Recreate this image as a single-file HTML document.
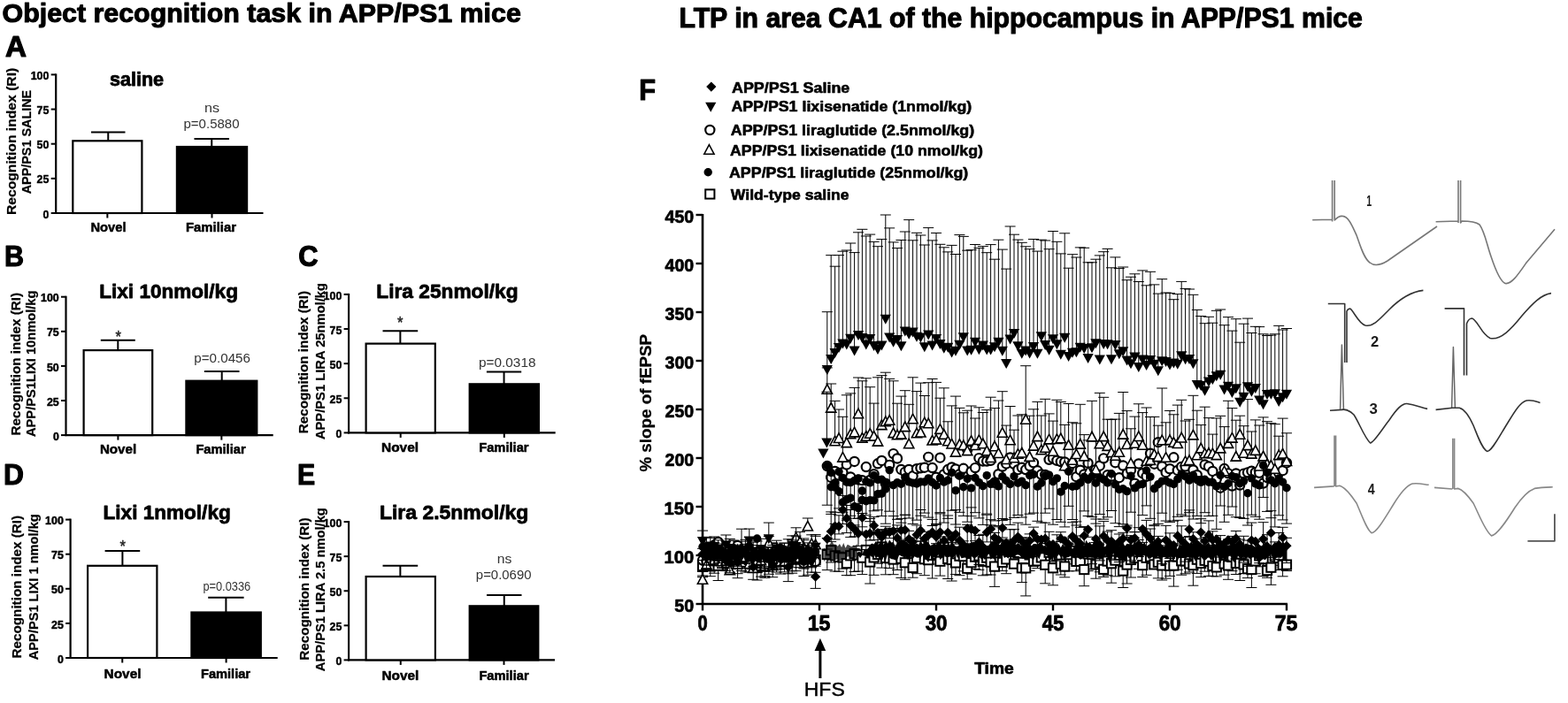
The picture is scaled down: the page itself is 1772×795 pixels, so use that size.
<!DOCTYPE html>
<html><head><meta charset="utf-8"><title>Object recognition and LTP in APP/PS1 mice</title>
<style>html,body{margin:0;padding:0;background:#fff;}svg{display:block;}</style></head>
<body>
<svg width="1772" height="795" viewBox="0 0 1772 795" font-family='"Liberation Sans", Arial, Helvetica, sans-serif'>
<rect width="1772" height="795" fill="#fff"/>
<line x1="63.20" y1="83.40" x2="63.20" y2="242.00" stroke="#000" stroke-width="2.2"/>
<line x1="62.20" y1="241.00" x2="297.50" y2="241.00" stroke="#000" stroke-width="2.2"/>
<line x1="57.70" y1="241.00" x2="63.20" y2="241.00" stroke="#000" stroke-width="2"/>
<line x1="57.70" y1="201.85" x2="63.20" y2="201.85" stroke="#000" stroke-width="2"/>
<line x1="57.70" y1="162.70" x2="63.20" y2="162.70" stroke="#000" stroke-width="2"/>
<line x1="57.70" y1="123.55" x2="63.20" y2="123.55" stroke="#000" stroke-width="2"/>
<line x1="57.70" y1="84.40" x2="63.20" y2="84.40" stroke="#000" stroke-width="2"/>
<rect x="82.30" y="159.30" width="78.10" height="81.70" fill="#fff" stroke="#000" stroke-width="2.2"/>
<line x1="122.25" y1="149.40" x2="122.25" y2="159.30" stroke="#000" stroke-width="2"/>
<line x1="103.00" y1="149.40" x2="141.50" y2="149.40" stroke="#000" stroke-width="2"/>
<line x1="121.35" y1="241.00" x2="121.35" y2="246.50" stroke="#000" stroke-width="2"/>
<rect x="199.90" y="166.00" width="79.20" height="75.00" fill="#000" stroke="#000" stroke-width="2.2"/>
<line x1="239.25" y1="157.00" x2="239.25" y2="166.00" stroke="#000" stroke-width="2"/>
<line x1="219.50" y1="157.00" x2="259.00" y2="157.00" stroke="#000" stroke-width="2"/>
<line x1="239.50" y1="241.00" x2="239.50" y2="246.50" stroke="#000" stroke-width="2"/>
<line x1="74.50" y1="334.70" x2="74.50" y2="493.10" stroke="#000" stroke-width="2.2"/>
<line x1="73.50" y1="492.10" x2="308.70" y2="492.10" stroke="#000" stroke-width="2.2"/>
<line x1="69.00" y1="492.10" x2="74.50" y2="492.10" stroke="#000" stroke-width="2"/>
<line x1="69.00" y1="453.00" x2="74.50" y2="453.00" stroke="#000" stroke-width="2"/>
<line x1="69.00" y1="413.90" x2="74.50" y2="413.90" stroke="#000" stroke-width="2"/>
<line x1="69.00" y1="374.80" x2="74.50" y2="374.80" stroke="#000" stroke-width="2"/>
<line x1="69.00" y1="335.70" x2="74.50" y2="335.70" stroke="#000" stroke-width="2"/>
<rect x="94.60" y="396.10" width="77.60" height="96.00" fill="#fff" stroke="#000" stroke-width="2.2"/>
<line x1="133.30" y1="384.80" x2="133.30" y2="396.10" stroke="#000" stroke-width="2"/>
<line x1="113.80" y1="384.80" x2="152.80" y2="384.80" stroke="#000" stroke-width="2"/>
<line x1="133.40" y1="492.10" x2="133.40" y2="497.60" stroke="#000" stroke-width="2"/>
<rect x="210.40" y="430.70" width="79.90" height="61.40" fill="#000" stroke="#000" stroke-width="2.2"/>
<line x1="250.70" y1="420.00" x2="250.70" y2="430.70" stroke="#000" stroke-width="2"/>
<line x1="230.90" y1="420.00" x2="270.50" y2="420.00" stroke="#000" stroke-width="2"/>
<line x1="250.35" y1="492.10" x2="250.35" y2="497.60" stroke="#000" stroke-width="2"/>
<line x1="394.10" y1="331.90" x2="394.10" y2="490.40" stroke="#000" stroke-width="2.2"/>
<line x1="393.10" y1="489.40" x2="627.70" y2="489.40" stroke="#000" stroke-width="2.2"/>
<line x1="388.60" y1="489.40" x2="394.10" y2="489.40" stroke="#000" stroke-width="2"/>
<line x1="388.60" y1="450.27" x2="394.10" y2="450.27" stroke="#000" stroke-width="2"/>
<line x1="388.60" y1="411.15" x2="394.10" y2="411.15" stroke="#000" stroke-width="2"/>
<line x1="388.60" y1="372.02" x2="394.10" y2="372.02" stroke="#000" stroke-width="2"/>
<line x1="388.60" y1="332.90" x2="394.10" y2="332.90" stroke="#000" stroke-width="2"/>
<rect x="413.60" y="388.60" width="78.20" height="100.80" fill="#fff" stroke="#000" stroke-width="2.2"/>
<line x1="452.35" y1="374.30" x2="452.35" y2="388.60" stroke="#000" stroke-width="2"/>
<line x1="432.50" y1="374.30" x2="472.20" y2="374.30" stroke="#000" stroke-width="2"/>
<line x1="452.70" y1="489.40" x2="452.70" y2="494.90" stroke="#000" stroke-width="2"/>
<rect x="530.70" y="434.30" width="78.20" height="55.10" fill="#000" stroke="#000" stroke-width="2.2"/>
<line x1="569.55" y1="420.50" x2="569.55" y2="434.30" stroke="#000" stroke-width="2"/>
<line x1="549.90" y1="420.50" x2="589.20" y2="420.50" stroke="#000" stroke-width="2"/>
<line x1="569.80" y1="489.40" x2="569.80" y2="494.90" stroke="#000" stroke-width="2"/>
<line x1="79.60" y1="586.60" x2="79.60" y2="745.00" stroke="#000" stroke-width="2.2"/>
<line x1="78.60" y1="744.00" x2="313.70" y2="744.00" stroke="#000" stroke-width="2.2"/>
<line x1="74.10" y1="744.00" x2="79.60" y2="744.00" stroke="#000" stroke-width="2"/>
<line x1="74.10" y1="704.90" x2="79.60" y2="704.90" stroke="#000" stroke-width="2"/>
<line x1="74.10" y1="665.80" x2="79.60" y2="665.80" stroke="#000" stroke-width="2"/>
<line x1="74.10" y1="626.70" x2="79.60" y2="626.70" stroke="#000" stroke-width="2"/>
<line x1="74.10" y1="587.60" x2="79.60" y2="587.60" stroke="#000" stroke-width="2"/>
<rect x="99.10" y="639.80" width="78.30" height="104.20" fill="#fff" stroke="#000" stroke-width="2.2"/>
<line x1="138.40" y1="623.00" x2="138.40" y2="639.80" stroke="#000" stroke-width="2"/>
<line x1="118.60" y1="623.00" x2="158.20" y2="623.00" stroke="#000" stroke-width="2"/>
<line x1="138.25" y1="744.00" x2="138.25" y2="749.50" stroke="#000" stroke-width="2"/>
<rect x="216.40" y="692.50" width="78.40" height="51.50" fill="#000" stroke="#000" stroke-width="2.2"/>
<line x1="255.40" y1="675.80" x2="255.40" y2="692.50" stroke="#000" stroke-width="2"/>
<line x1="235.20" y1="675.80" x2="275.60" y2="675.80" stroke="#000" stroke-width="2"/>
<line x1="255.60" y1="744.00" x2="255.60" y2="749.50" stroke="#000" stroke-width="2"/>
<line x1="394.10" y1="589.10" x2="394.10" y2="747.40" stroke="#000" stroke-width="2.2"/>
<line x1="393.10" y1="746.40" x2="627.00" y2="746.40" stroke="#000" stroke-width="2.2"/>
<line x1="388.60" y1="746.40" x2="394.10" y2="746.40" stroke="#000" stroke-width="2"/>
<line x1="388.60" y1="707.33" x2="394.10" y2="707.33" stroke="#000" stroke-width="2"/>
<line x1="388.60" y1="668.25" x2="394.10" y2="668.25" stroke="#000" stroke-width="2"/>
<line x1="388.60" y1="629.17" x2="394.10" y2="629.17" stroke="#000" stroke-width="2"/>
<line x1="388.60" y1="590.10" x2="394.10" y2="590.10" stroke="#000" stroke-width="2"/>
<rect x="413.60" y="652.00" width="78.30" height="94.40" fill="#fff" stroke="#000" stroke-width="2.2"/>
<line x1="452.35" y1="639.80" x2="452.35" y2="652.00" stroke="#000" stroke-width="2"/>
<line x1="432.50" y1="639.80" x2="472.20" y2="639.80" stroke="#000" stroke-width="2"/>
<line x1="452.75" y1="746.40" x2="452.75" y2="751.90" stroke="#000" stroke-width="2"/>
<rect x="530.70" y="685.30" width="77.60" height="61.10" fill="#000" stroke="#000" stroke-width="2.2"/>
<line x1="569.75" y1="673.10" x2="569.75" y2="685.30" stroke="#000" stroke-width="2"/>
<line x1="550.00" y1="673.10" x2="589.50" y2="673.10" stroke="#000" stroke-width="2"/>
<line x1="569.50" y1="746.40" x2="569.50" y2="751.90" stroke="#000" stroke-width="2"/>
<line x1="794.00" y1="242.00" x2="794.00" y2="684.00" stroke="#000" stroke-width="2.6"/>
<line x1="793.00" y1="683.00" x2="1455.00" y2="683.00" stroke="#000" stroke-width="2.6"/>
<line x1="786.50" y1="683.00" x2="794.00" y2="683.00" stroke="#000" stroke-width="2.4"/>
<line x1="786.50" y1="628.00" x2="794.00" y2="628.00" stroke="#000" stroke-width="2.4"/>
<line x1="786.50" y1="573.00" x2="794.00" y2="573.00" stroke="#000" stroke-width="2.4"/>
<line x1="786.50" y1="518.00" x2="794.00" y2="518.00" stroke="#000" stroke-width="2.4"/>
<line x1="786.50" y1="463.00" x2="794.00" y2="463.00" stroke="#000" stroke-width="2.4"/>
<line x1="786.50" y1="408.00" x2="794.00" y2="408.00" stroke="#000" stroke-width="2.4"/>
<line x1="786.50" y1="353.00" x2="794.00" y2="353.00" stroke="#000" stroke-width="2.4"/>
<line x1="786.50" y1="298.00" x2="794.00" y2="298.00" stroke="#000" stroke-width="2.4"/>
<line x1="786.50" y1="243.00" x2="794.00" y2="243.00" stroke="#000" stroke-width="2.4"/>
<line x1="794.00" y1="683.00" x2="794.00" y2="690.50" stroke="#000" stroke-width="2.4"/>
<line x1="926.00" y1="683.00" x2="926.00" y2="690.50" stroke="#000" stroke-width="2.4"/>
<line x1="1058.00" y1="683.00" x2="1058.00" y2="690.50" stroke="#000" stroke-width="2.4"/>
<line x1="1190.00" y1="683.00" x2="1190.00" y2="690.50" stroke="#000" stroke-width="2.4"/>
<line x1="1322.00" y1="683.00" x2="1322.00" y2="690.50" stroke="#000" stroke-width="2.4"/>
<line x1="1454.00" y1="683.00" x2="1454.00" y2="690.50" stroke="#000" stroke-width="2.4"/>
<line x1="926.90" y1="733.00" x2="926.90" y2="767.00" stroke="#000" stroke-width="3.0"/>
<polygon points="926.9,721.8 920.6,736 933.2,736" fill="#000"/>
<polygon points="803.80,92.50 809.40,98.10 803.80,103.70 798.20,98.10" fill="#000"/>
<polygon points="797.10,115.85 809.30,115.85 803.20,126.85" fill="#000"/>
<circle cx="802.30" cy="147.00" r="5.10" fill="#fff" stroke="#000" stroke-width="2.2"/>
<polygon points="795.80,174.24 807.00,174.24 801.40,163.64" fill="#fff" stroke="#000" stroke-width="1.6" stroke-linejoin="miter"/>
<circle cx="800.20" cy="194.70" r="4.70" fill="#000"/>
<rect x="797.20" y="214.40" width="10.20" height="10.20" fill="#fff" stroke="#000" stroke-width="2"/>
<g><path d="M794.0 640.0V652.6M788.0 652.6H800.0M798.4 630.2V643.4M792.4 643.4H804.4M802.8 640.4V651.7M796.8 651.7H808.8M807.2 632.4V648.2M801.2 648.2H813.2M811.6 639.8V656.5M805.6 656.5H817.6M816.0 631.3V644.4M810.0 644.4H822.0M820.4 627.6V643.0M814.4 643.0H826.4M824.8 634.8V647.0M818.8 647.0H830.8M829.2 623.0V635.3M823.2 635.3H835.2M833.6 637.7V653.7M827.6 653.7H839.6M838.0 633.8V645.5M832.0 645.5H844.0M842.4 635.7V647.0M836.4 647.0H848.4M846.8 633.0V647.0M840.8 647.0H852.8M851.2 629.3V641.2M845.2 641.2H857.2M855.6 642.0V656.0M849.6 656.0H861.6M860.0 640.3V652.1M854.0 652.1H866.0M864.4 640.5V651.5M858.4 651.5H870.4M868.8 637.4V649.3M862.8 649.3H874.8M873.2 619.4V630.6M867.2 630.6H879.2M877.6 630.2V647.0M871.6 647.0H883.6M882.0 635.1V649.0M876.0 649.0H888.0M886.4 634.2V646.9M880.4 646.9H892.4M890.8 633.3V648.8M884.8 648.8H896.8M895.2 631.3V645.8M889.2 645.8H901.2M899.6 625.5V638.7M893.6 638.7H905.6M904.0 630.7V641.7M898.0 641.7H910.0M908.4 629.5V643.1M902.4 643.1H914.4M912.8 629.2V640.8M906.8 640.8H918.8M917.2 628.0V641.8M911.2 641.8H923.2M921.6 632.9V647.3M915.6 647.3H927.6M934.8 627.1V644.6M928.8 644.6H940.8M939.2 622.3V636.0M933.2 636.0H945.2M943.6 628.3V646.1M937.6 646.1H949.6M948.0 629.9V646.2M942.0 646.2H954.0M952.4 630.5V643.1M946.4 643.1H958.4M956.8 637.1V650.6M950.8 650.6H962.8M961.2 628.3V650.7M955.2 650.7H967.2M965.6 626.2V646.5M959.6 646.5H971.6M970.0 627.3V646.0M964.0 646.0H976.0M974.4 630.6V649.6M968.4 649.6H980.4M978.8 621.9V635.8M972.8 635.8H984.8M983.2 635.5V660.0M977.2 660.0H989.2M987.6 630.4V650.3M981.6 650.3H993.6M992.0 627.0V637.2M986.0 637.2H998.0M996.4 618.5V642.1M990.4 642.1H1002.4M1000.8 630.9V649.8M994.8 649.8H1006.8M1005.2 631.2V642.5M999.2 642.5H1011.2M1009.6 632.6V649.7M1003.6 649.7H1015.6M1014.0 625.9V644.5M1008.0 644.5H1020.0M1018.4 631.7V653.4M1012.4 653.4H1024.4M1022.8 636.3V655.3M1016.8 655.3H1028.8M1027.2 626.0V640.1M1021.2 640.1H1033.2M1031.6 642.0V653.2M1025.6 653.2H1037.6M1036.0 630.9V648.7M1030.0 648.7H1042.0M1040.4 623.7V634.5M1034.4 634.5H1046.4M1044.8 632.3V650.7M1038.8 650.7H1050.8M1049.2 633.2V637.6M1043.2 637.6H1055.2M1053.6 627.9V654.0M1047.6 654.0H1059.6M1058.0 626.9V638.0M1052.0 638.0H1064.0M1062.4 634.7V651.1M1056.4 651.1H1068.4M1066.8 618.8V637.1M1060.8 637.1H1072.8M1071.2 631.9V654.5M1065.2 654.5H1077.2M1075.6 633.0V657.0M1069.6 657.0H1081.6M1080.0 636.4V649.6M1074.0 649.6H1086.0M1084.4 628.7V650.7M1078.4 650.7H1090.4M1088.8 629.1V645.9M1082.8 645.9H1094.8M1093.2 642.8V654.9M1087.2 654.9H1099.2M1097.6 636.2V649.1M1091.6 649.1H1103.6M1102.0 629.7V643.5M1096.0 643.5H1108.0M1106.4 628.6V644.4M1100.4 644.4H1112.4M1110.8 634.8V650.8M1104.8 650.8H1116.8M1115.2 630.7V650.0M1109.2 650.0H1121.2M1119.6 635.7V650.0M1113.6 650.0H1125.6M1124.0 640.6V663.4M1118.0 663.4H1130.0M1128.4 625.2V639.8M1122.4 639.8H1134.4M1132.8 635.9V645.6M1126.8 645.6H1138.8M1137.2 632.3V648.7M1131.2 648.7H1143.2M1141.6 621.3V637.9M1135.6 637.9H1147.6M1146.0 637.7V641.8M1140.0 641.8H1152.0M1150.4 625.7V642.0M1144.4 642.0H1156.4M1154.8 642.3V658.6M1148.8 658.6H1160.8M1159.2 642.4V673.9M1153.2 673.9H1165.2M1163.6 627.4V645.5M1157.6 645.5H1169.6M1168.0 634.6V640.1M1162.0 640.1H1174.0M1172.4 634.4V642.6M1166.4 642.6H1178.4M1176.8 630.4V636.0M1170.8 636.0H1182.8M1181.2 638.8V659.8M1175.2 659.8H1187.2M1185.6 624.8V634.7M1179.6 634.7H1191.6M1190.0 642.3V661.8M1184.0 661.8H1196.0M1194.4 629.2V640.1M1188.4 640.1H1200.4M1198.8 637.8V650.0M1192.8 650.0H1204.8M1203.2 640.6V652.8M1197.2 652.8H1209.2M1207.6 627.2V645.8M1201.6 645.8H1213.6M1212.0 622.8V637.8M1206.0 637.8H1218.0M1216.4 634.9V645.8M1210.4 645.8H1222.4M1220.8 634.9V644.2M1214.8 644.2H1226.8M1225.2 644.0V662.7M1219.2 662.7H1231.2M1229.6 626.4V645.7M1223.6 645.7H1235.6M1234.0 627.0V643.6M1228.0 643.6H1240.0M1238.4 638.4V654.2M1232.4 654.2H1244.4M1242.8 636.5V646.8M1236.8 646.8H1248.8M1247.2 643.8V652.4M1241.2 652.4H1253.2M1251.6 634.6V650.7M1245.6 650.7H1257.6M1256.0 637.2V659.2M1250.0 659.2H1262.0M1260.4 633.7V651.8M1254.4 651.8H1266.4M1264.8 628.0V639.6M1258.8 639.6H1270.8M1269.2 645.6V664.5M1263.2 664.5H1275.2M1273.6 638.6V660.0M1267.6 660.0H1279.6M1278.0 633.0V653.0M1272.0 653.0H1284.0M1282.4 630.7V636.5M1276.4 636.5H1288.4M1286.8 631.0V643.3M1280.8 643.3H1292.8M1291.2 639.1V652.5M1285.2 652.5H1297.2M1295.6 630.8V650.3M1289.6 650.3H1301.6M1300.0 629.5V637.3M1294.0 637.3H1306.0M1304.4 638.4V642.8M1298.4 642.8H1310.4M1308.8 635.7V653.9M1302.8 653.9H1314.8M1313.2 639.4V656.0M1307.2 656.0H1319.2M1317.6 634.0V654.1M1311.6 654.1H1323.6M1322.0 639.9V651.4M1316.0 651.4H1328.0M1326.4 639.6V663.1M1320.4 663.1H1332.4M1330.8 629.4V644.3M1324.8 644.3H1336.8M1335.2 634.2V650.2M1329.2 650.2H1341.2M1339.6 634.4V648.8M1333.6 648.8H1345.6M1344.0 637.4V647.0M1338.0 647.0H1350.0M1348.4 639.2V662.2M1342.4 662.2H1354.4M1352.8 632.7V648.4M1346.8 648.4H1358.8M1357.2 636.9V652.6M1351.2 652.6H1363.2M1361.6 633.8V646.2M1355.6 646.2H1367.6M1366.0 634.7V651.3M1360.0 651.3H1372.0M1370.4 640.0V651.7M1364.4 651.7H1376.4M1374.8 641.4V651.9M1368.8 651.9H1380.8M1379.2 631.1V635.6M1373.2 635.6H1385.2M1383.6 637.5V650.1M1377.6 650.1H1389.6M1388.0 639.5V655.3M1382.0 655.3H1394.0M1392.4 629.9V645.7M1386.4 645.7H1398.4M1396.8 636.9V649.5M1390.8 649.5H1402.8M1401.2 636.9V656.5M1395.2 656.5H1407.2M1405.6 638.4V648.5M1399.6 648.5H1411.6M1410.0 643.3V653.6M1404.0 653.6H1416.0M1414.4 644.0V664.5M1408.4 664.5H1420.4M1418.8 634.5V648.8M1412.8 648.8H1424.8M1423.2 628.4V640.8M1417.2 640.8H1429.2M1427.6 632.4V651.5M1421.6 651.5H1433.6M1432.0 645.1V653.3M1426.0 653.3H1438.0M1436.4 641.7V661.3M1430.4 661.3H1442.4M1440.8 629.5V639.3M1434.8 639.3H1446.8M1445.2 630.9V644.6M1439.2 644.6H1451.2M1449.6 638.9V651.8M1443.6 651.8H1455.6M1454.0 638.6V645.6M1448.0 645.6H1460.0" stroke="#000" stroke-width="1" fill="none"/>
<rect x="788.90" y="634.89" width="10.20" height="10.20" fill="#fff" stroke="#000" stroke-width="2"/>
<rect x="793.30" y="625.09" width="10.20" height="10.20" fill="#fff" stroke="#000" stroke-width="2"/>
<rect x="797.70" y="635.27" width="10.20" height="10.20" fill="#fff" stroke="#000" stroke-width="2"/>
<rect x="802.10" y="627.29" width="10.20" height="10.20" fill="#fff" stroke="#000" stroke-width="2"/>
<rect x="806.50" y="634.70" width="10.20" height="10.20" fill="#fff" stroke="#000" stroke-width="2"/>
<rect x="810.90" y="626.21" width="10.20" height="10.20" fill="#fff" stroke="#000" stroke-width="2"/>
<rect x="815.30" y="622.53" width="10.20" height="10.20" fill="#fff" stroke="#000" stroke-width="2"/>
<rect x="819.70" y="629.69" width="10.20" height="10.20" fill="#fff" stroke="#000" stroke-width="2"/>
<rect x="824.10" y="617.90" width="10.20" height="10.20" fill="#fff" stroke="#000" stroke-width="2"/>
<rect x="828.50" y="632.62" width="10.20" height="10.20" fill="#fff" stroke="#000" stroke-width="2"/>
<rect x="832.90" y="628.71" width="10.20" height="10.20" fill="#fff" stroke="#000" stroke-width="2"/>
<rect x="837.30" y="630.61" width="10.20" height="10.20" fill="#fff" stroke="#000" stroke-width="2"/>
<rect x="841.70" y="627.86" width="10.20" height="10.20" fill="#fff" stroke="#000" stroke-width="2"/>
<rect x="846.10" y="624.20" width="10.20" height="10.20" fill="#fff" stroke="#000" stroke-width="2"/>
<rect x="850.50" y="636.86" width="10.20" height="10.20" fill="#fff" stroke="#000" stroke-width="2"/>
<rect x="854.90" y="635.20" width="10.20" height="10.20" fill="#fff" stroke="#000" stroke-width="2"/>
<rect x="859.30" y="635.40" width="10.20" height="10.20" fill="#fff" stroke="#000" stroke-width="2"/>
<rect x="863.70" y="632.30" width="10.20" height="10.20" fill="#fff" stroke="#000" stroke-width="2"/>
<rect x="868.10" y="614.32" width="10.20" height="10.20" fill="#fff" stroke="#000" stroke-width="2"/>
<rect x="872.50" y="625.10" width="10.20" height="10.20" fill="#fff" stroke="#000" stroke-width="2"/>
<rect x="876.90" y="630.03" width="10.20" height="10.20" fill="#fff" stroke="#000" stroke-width="2"/>
<rect x="881.30" y="629.14" width="10.20" height="10.20" fill="#fff" stroke="#000" stroke-width="2"/>
<rect x="885.70" y="628.24" width="10.20" height="10.20" fill="#fff" stroke="#000" stroke-width="2"/>
<rect x="890.10" y="626.18" width="10.20" height="10.20" fill="#fff" stroke="#000" stroke-width="2"/>
<rect x="894.50" y="620.38" width="10.20" height="10.20" fill="#fff" stroke="#000" stroke-width="2"/>
<rect x="898.90" y="625.56" width="10.20" height="10.20" fill="#fff" stroke="#000" stroke-width="2"/>
<rect x="903.30" y="624.36" width="10.20" height="10.20" fill="#fff" stroke="#000" stroke-width="2"/>
<rect x="907.70" y="624.11" width="10.20" height="10.20" fill="#fff" stroke="#000" stroke-width="2"/>
<rect x="912.10" y="622.91" width="10.20" height="10.20" fill="#fff" stroke="#000" stroke-width="2"/>
<rect x="916.50" y="627.81" width="10.20" height="10.20" fill="#fff" stroke="#000" stroke-width="2"/>
<rect x="929.70" y="621.98" width="10.20" height="10.20" fill="#fff" stroke="#000" stroke-width="2"/>
<rect x="934.10" y="617.21" width="10.20" height="10.20" fill="#fff" stroke="#000" stroke-width="2"/>
<rect x="938.50" y="623.23" width="10.20" height="10.20" fill="#fff" stroke="#000" stroke-width="2"/>
<rect x="942.90" y="624.76" width="10.20" height="10.20" fill="#fff" stroke="#000" stroke-width="2"/>
<rect x="947.30" y="625.36" width="10.20" height="10.20" fill="#fff" stroke="#000" stroke-width="2"/>
<rect x="951.70" y="631.98" width="10.20" height="10.20" fill="#fff" stroke="#000" stroke-width="2"/>
<rect x="956.10" y="623.19" width="10.20" height="10.20" fill="#fff" stroke="#000" stroke-width="2"/>
<rect x="960.50" y="621.10" width="10.20" height="10.20" fill="#fff" stroke="#000" stroke-width="2"/>
<rect x="964.90" y="622.24" width="10.20" height="10.20" fill="#fff" stroke="#000" stroke-width="2"/>
<rect x="969.30" y="625.55" width="10.20" height="10.20" fill="#fff" stroke="#000" stroke-width="2"/>
<rect x="973.70" y="616.84" width="10.20" height="10.20" fill="#fff" stroke="#000" stroke-width="2"/>
<rect x="978.10" y="630.45" width="10.20" height="10.20" fill="#fff" stroke="#000" stroke-width="2"/>
<rect x="982.50" y="625.33" width="10.20" height="10.20" fill="#fff" stroke="#000" stroke-width="2"/>
<rect x="986.90" y="621.90" width="10.20" height="10.20" fill="#fff" stroke="#000" stroke-width="2"/>
<rect x="991.30" y="613.37" width="10.20" height="10.20" fill="#fff" stroke="#000" stroke-width="2"/>
<rect x="995.70" y="625.82" width="10.20" height="10.20" fill="#fff" stroke="#000" stroke-width="2"/>
<rect x="1000.10" y="626.13" width="10.20" height="10.20" fill="#fff" stroke="#000" stroke-width="2"/>
<rect x="1004.50" y="627.48" width="10.20" height="10.20" fill="#fff" stroke="#000" stroke-width="2"/>
<rect x="1008.90" y="620.77" width="10.20" height="10.20" fill="#fff" stroke="#000" stroke-width="2"/>
<rect x="1013.30" y="626.62" width="10.20" height="10.20" fill="#fff" stroke="#000" stroke-width="2"/>
<rect x="1017.70" y="631.17" width="10.20" height="10.20" fill="#fff" stroke="#000" stroke-width="2"/>
<rect x="1022.10" y="620.91" width="10.20" height="10.20" fill="#fff" stroke="#000" stroke-width="2"/>
<rect x="1026.50" y="636.91" width="10.20" height="10.20" fill="#fff" stroke="#000" stroke-width="2"/>
<rect x="1030.90" y="625.80" width="10.20" height="10.20" fill="#fff" stroke="#000" stroke-width="2"/>
<rect x="1035.30" y="618.63" width="10.20" height="10.20" fill="#fff" stroke="#000" stroke-width="2"/>
<rect x="1039.70" y="627.17" width="10.20" height="10.20" fill="#fff" stroke="#000" stroke-width="2"/>
<rect x="1044.10" y="628.09" width="10.20" height="10.20" fill="#fff" stroke="#000" stroke-width="2"/>
<rect x="1048.50" y="622.83" width="10.20" height="10.20" fill="#fff" stroke="#000" stroke-width="2"/>
<rect x="1052.90" y="621.78" width="10.20" height="10.20" fill="#fff" stroke="#000" stroke-width="2"/>
<rect x="1057.30" y="629.62" width="10.20" height="10.20" fill="#fff" stroke="#000" stroke-width="2"/>
<rect x="1061.70" y="613.71" width="10.20" height="10.20" fill="#fff" stroke="#000" stroke-width="2"/>
<rect x="1066.10" y="626.82" width="10.20" height="10.20" fill="#fff" stroke="#000" stroke-width="2"/>
<rect x="1070.50" y="627.94" width="10.20" height="10.20" fill="#fff" stroke="#000" stroke-width="2"/>
<rect x="1074.90" y="631.31" width="10.20" height="10.20" fill="#fff" stroke="#000" stroke-width="2"/>
<rect x="1079.30" y="623.63" width="10.20" height="10.20" fill="#fff" stroke="#000" stroke-width="2"/>
<rect x="1083.70" y="624.05" width="10.20" height="10.20" fill="#fff" stroke="#000" stroke-width="2"/>
<rect x="1088.10" y="637.71" width="10.20" height="10.20" fill="#fff" stroke="#000" stroke-width="2"/>
<rect x="1092.50" y="631.10" width="10.20" height="10.20" fill="#fff" stroke="#000" stroke-width="2"/>
<rect x="1096.90" y="624.56" width="10.20" height="10.20" fill="#fff" stroke="#000" stroke-width="2"/>
<rect x="1101.30" y="623.51" width="10.20" height="10.20" fill="#fff" stroke="#000" stroke-width="2"/>
<rect x="1105.70" y="629.72" width="10.20" height="10.20" fill="#fff" stroke="#000" stroke-width="2"/>
<rect x="1110.10" y="625.58" width="10.20" height="10.20" fill="#fff" stroke="#000" stroke-width="2"/>
<rect x="1114.50" y="630.61" width="10.20" height="10.20" fill="#fff" stroke="#000" stroke-width="2"/>
<rect x="1118.90" y="635.53" width="10.20" height="10.20" fill="#fff" stroke="#000" stroke-width="2"/>
<rect x="1123.30" y="620.10" width="10.20" height="10.20" fill="#fff" stroke="#000" stroke-width="2"/>
<rect x="1127.70" y="630.76" width="10.20" height="10.20" fill="#fff" stroke="#000" stroke-width="2"/>
<rect x="1132.10" y="627.25" width="10.20" height="10.20" fill="#fff" stroke="#000" stroke-width="2"/>
<rect x="1136.50" y="616.23" width="10.20" height="10.20" fill="#fff" stroke="#000" stroke-width="2"/>
<rect x="1140.90" y="632.56" width="10.20" height="10.20" fill="#fff" stroke="#000" stroke-width="2"/>
<rect x="1145.30" y="620.58" width="10.20" height="10.20" fill="#fff" stroke="#000" stroke-width="2"/>
<rect x="1149.70" y="637.23" width="10.20" height="10.20" fill="#fff" stroke="#000" stroke-width="2"/>
<rect x="1154.10" y="637.27" width="10.20" height="10.20" fill="#fff" stroke="#000" stroke-width="2"/>
<rect x="1158.50" y="622.32" width="10.20" height="10.20" fill="#fff" stroke="#000" stroke-width="2"/>
<rect x="1162.90" y="629.49" width="10.20" height="10.20" fill="#fff" stroke="#000" stroke-width="2"/>
<rect x="1167.30" y="629.27" width="10.20" height="10.20" fill="#fff" stroke="#000" stroke-width="2"/>
<rect x="1171.70" y="625.34" width="10.20" height="10.20" fill="#fff" stroke="#000" stroke-width="2"/>
<rect x="1176.10" y="633.66" width="10.20" height="10.20" fill="#fff" stroke="#000" stroke-width="2"/>
<rect x="1180.50" y="619.68" width="10.20" height="10.20" fill="#fff" stroke="#000" stroke-width="2"/>
<rect x="1184.90" y="637.20" width="10.20" height="10.20" fill="#fff" stroke="#000" stroke-width="2"/>
<rect x="1189.30" y="624.12" width="10.20" height="10.20" fill="#fff" stroke="#000" stroke-width="2"/>
<rect x="1193.70" y="632.68" width="10.20" height="10.20" fill="#fff" stroke="#000" stroke-width="2"/>
<rect x="1198.10" y="635.46" width="10.20" height="10.20" fill="#fff" stroke="#000" stroke-width="2"/>
<rect x="1202.50" y="622.08" width="10.20" height="10.20" fill="#fff" stroke="#000" stroke-width="2"/>
<rect x="1206.90" y="617.70" width="10.20" height="10.20" fill="#fff" stroke="#000" stroke-width="2"/>
<rect x="1211.30" y="629.80" width="10.20" height="10.20" fill="#fff" stroke="#000" stroke-width="2"/>
<rect x="1215.70" y="629.79" width="10.20" height="10.20" fill="#fff" stroke="#000" stroke-width="2"/>
<rect x="1220.10" y="638.93" width="10.20" height="10.20" fill="#fff" stroke="#000" stroke-width="2"/>
<rect x="1224.50" y="621.29" width="10.20" height="10.20" fill="#fff" stroke="#000" stroke-width="2"/>
<rect x="1228.90" y="621.93" width="10.20" height="10.20" fill="#fff" stroke="#000" stroke-width="2"/>
<rect x="1233.30" y="633.25" width="10.20" height="10.20" fill="#fff" stroke="#000" stroke-width="2"/>
<rect x="1237.70" y="631.41" width="10.20" height="10.20" fill="#fff" stroke="#000" stroke-width="2"/>
<rect x="1242.10" y="638.71" width="10.20" height="10.20" fill="#fff" stroke="#000" stroke-width="2"/>
<rect x="1246.50" y="629.48" width="10.20" height="10.20" fill="#fff" stroke="#000" stroke-width="2"/>
<rect x="1250.90" y="632.11" width="10.20" height="10.20" fill="#fff" stroke="#000" stroke-width="2"/>
<rect x="1255.30" y="628.56" width="10.20" height="10.20" fill="#fff" stroke="#000" stroke-width="2"/>
<rect x="1259.70" y="622.90" width="10.20" height="10.20" fill="#fff" stroke="#000" stroke-width="2"/>
<rect x="1264.10" y="640.48" width="10.20" height="10.20" fill="#fff" stroke="#000" stroke-width="2"/>
<rect x="1268.50" y="633.48" width="10.20" height="10.20" fill="#fff" stroke="#000" stroke-width="2"/>
<rect x="1272.90" y="627.89" width="10.20" height="10.20" fill="#fff" stroke="#000" stroke-width="2"/>
<rect x="1277.30" y="625.59" width="10.20" height="10.20" fill="#fff" stroke="#000" stroke-width="2"/>
<rect x="1281.70" y="625.89" width="10.20" height="10.20" fill="#fff" stroke="#000" stroke-width="2"/>
<rect x="1286.10" y="634.05" width="10.20" height="10.20" fill="#fff" stroke="#000" stroke-width="2"/>
<rect x="1290.50" y="625.72" width="10.20" height="10.20" fill="#fff" stroke="#000" stroke-width="2"/>
<rect x="1294.90" y="624.43" width="10.20" height="10.20" fill="#fff" stroke="#000" stroke-width="2"/>
<rect x="1299.30" y="633.29" width="10.20" height="10.20" fill="#fff" stroke="#000" stroke-width="2"/>
<rect x="1303.70" y="630.65" width="10.20" height="10.20" fill="#fff" stroke="#000" stroke-width="2"/>
<rect x="1308.10" y="634.34" width="10.20" height="10.20" fill="#fff" stroke="#000" stroke-width="2"/>
<rect x="1312.50" y="628.91" width="10.20" height="10.20" fill="#fff" stroke="#000" stroke-width="2"/>
<rect x="1316.90" y="634.75" width="10.20" height="10.20" fill="#fff" stroke="#000" stroke-width="2"/>
<rect x="1321.30" y="634.48" width="10.20" height="10.20" fill="#fff" stroke="#000" stroke-width="2"/>
<rect x="1325.70" y="624.33" width="10.20" height="10.20" fill="#fff" stroke="#000" stroke-width="2"/>
<rect x="1330.10" y="629.14" width="10.20" height="10.20" fill="#fff" stroke="#000" stroke-width="2"/>
<rect x="1334.50" y="629.31" width="10.20" height="10.20" fill="#fff" stroke="#000" stroke-width="2"/>
<rect x="1338.90" y="632.32" width="10.20" height="10.20" fill="#fff" stroke="#000" stroke-width="2"/>
<rect x="1343.30" y="634.06" width="10.20" height="10.20" fill="#fff" stroke="#000" stroke-width="2"/>
<rect x="1347.70" y="627.62" width="10.20" height="10.20" fill="#fff" stroke="#000" stroke-width="2"/>
<rect x="1352.10" y="631.81" width="10.20" height="10.20" fill="#fff" stroke="#000" stroke-width="2"/>
<rect x="1356.50" y="628.73" width="10.20" height="10.20" fill="#fff" stroke="#000" stroke-width="2"/>
<rect x="1360.90" y="629.64" width="10.20" height="10.20" fill="#fff" stroke="#000" stroke-width="2"/>
<rect x="1365.30" y="634.89" width="10.20" height="10.20" fill="#fff" stroke="#000" stroke-width="2"/>
<rect x="1369.70" y="636.31" width="10.20" height="10.20" fill="#fff" stroke="#000" stroke-width="2"/>
<rect x="1374.10" y="625.97" width="10.20" height="10.20" fill="#fff" stroke="#000" stroke-width="2"/>
<rect x="1378.50" y="632.39" width="10.20" height="10.20" fill="#fff" stroke="#000" stroke-width="2"/>
<rect x="1382.90" y="634.38" width="10.20" height="10.20" fill="#fff" stroke="#000" stroke-width="2"/>
<rect x="1387.30" y="624.81" width="10.20" height="10.20" fill="#fff" stroke="#000" stroke-width="2"/>
<rect x="1391.70" y="631.84" width="10.20" height="10.20" fill="#fff" stroke="#000" stroke-width="2"/>
<rect x="1396.10" y="631.82" width="10.20" height="10.20" fill="#fff" stroke="#000" stroke-width="2"/>
<rect x="1400.50" y="633.33" width="10.20" height="10.20" fill="#fff" stroke="#000" stroke-width="2"/>
<rect x="1404.90" y="638.16" width="10.20" height="10.20" fill="#fff" stroke="#000" stroke-width="2"/>
<rect x="1409.30" y="638.90" width="10.20" height="10.20" fill="#fff" stroke="#000" stroke-width="2"/>
<rect x="1413.70" y="629.36" width="10.20" height="10.20" fill="#fff" stroke="#000" stroke-width="2"/>
<rect x="1418.10" y="623.33" width="10.20" height="10.20" fill="#fff" stroke="#000" stroke-width="2"/>
<rect x="1422.50" y="627.27" width="10.20" height="10.20" fill="#fff" stroke="#000" stroke-width="2"/>
<rect x="1426.90" y="639.96" width="10.20" height="10.20" fill="#fff" stroke="#000" stroke-width="2"/>
<rect x="1431.30" y="636.61" width="10.20" height="10.20" fill="#fff" stroke="#000" stroke-width="2"/>
<rect x="1435.70" y="624.42" width="10.20" height="10.20" fill="#fff" stroke="#000" stroke-width="2"/>
<rect x="1440.10" y="625.84" width="10.20" height="10.20" fill="#fff" stroke="#000" stroke-width="2"/>
<rect x="1444.50" y="633.82" width="10.20" height="10.20" fill="#fff" stroke="#000" stroke-width="2"/>
<rect x="1448.90" y="633.48" width="10.20" height="10.20" fill="#fff" stroke="#000" stroke-width="2"/>

<circle cx="794.00" cy="633.51" r="5.10" fill="#fff" stroke="#000" stroke-width="2.2"/>
<circle cx="798.40" cy="634.80" r="5.10" fill="#fff" stroke="#000" stroke-width="2.2"/>
<circle cx="802.80" cy="625.30" r="5.10" fill="#fff" stroke="#000" stroke-width="2.2"/>
<circle cx="807.20" cy="616.51" r="5.10" fill="#fff" stroke="#000" stroke-width="2.2"/>
<circle cx="811.60" cy="612.98" r="5.10" fill="#fff" stroke="#000" stroke-width="2.2"/>
<circle cx="816.00" cy="629.85" r="5.10" fill="#fff" stroke="#000" stroke-width="2.2"/>
<circle cx="820.40" cy="637.47" r="5.10" fill="#fff" stroke="#000" stroke-width="2.2"/>
<circle cx="824.80" cy="630.24" r="5.10" fill="#fff" stroke="#000" stroke-width="2.2"/>
<circle cx="829.20" cy="633.17" r="5.10" fill="#fff" stroke="#000" stroke-width="2.2"/>
<circle cx="833.60" cy="617.09" r="5.10" fill="#fff" stroke="#000" stroke-width="2.2"/>
<circle cx="838.00" cy="624.86" r="5.10" fill="#fff" stroke="#000" stroke-width="2.2"/>
<circle cx="842.40" cy="632.01" r="5.10" fill="#fff" stroke="#000" stroke-width="2.2"/>
<circle cx="846.80" cy="622.85" r="5.10" fill="#fff" stroke="#000" stroke-width="2.2"/>
<circle cx="851.20" cy="625.05" r="5.10" fill="#fff" stroke="#000" stroke-width="2.2"/>
<circle cx="855.60" cy="636.94" r="5.10" fill="#fff" stroke="#000" stroke-width="2.2"/>
<circle cx="860.00" cy="630.92" r="5.10" fill="#fff" stroke="#000" stroke-width="2.2"/>
<circle cx="864.40" cy="629.32" r="5.10" fill="#fff" stroke="#000" stroke-width="2.2"/>
<circle cx="868.80" cy="627.90" r="5.10" fill="#fff" stroke="#000" stroke-width="2.2"/>
<circle cx="873.20" cy="627.27" r="5.10" fill="#fff" stroke="#000" stroke-width="2.2"/>
<circle cx="877.60" cy="629.86" r="5.10" fill="#fff" stroke="#000" stroke-width="2.2"/>
<circle cx="882.00" cy="626.96" r="5.10" fill="#fff" stroke="#000" stroke-width="2.2"/>
<circle cx="886.40" cy="631.22" r="5.10" fill="#fff" stroke="#000" stroke-width="2.2"/>
<circle cx="890.80" cy="632.93" r="5.10" fill="#fff" stroke="#000" stroke-width="2.2"/>
<circle cx="895.20" cy="619.66" r="5.10" fill="#fff" stroke="#000" stroke-width="2.2"/>
<circle cx="899.60" cy="626.02" r="5.10" fill="#fff" stroke="#000" stroke-width="2.2"/>
<circle cx="904.00" cy="625.59" r="5.10" fill="#fff" stroke="#000" stroke-width="2.2"/>
<circle cx="908.40" cy="636.77" r="5.10" fill="#fff" stroke="#000" stroke-width="2.2"/>
<circle cx="912.80" cy="628.91" r="5.10" fill="#fff" stroke="#000" stroke-width="2.2"/>
<circle cx="917.20" cy="623.49" r="5.10" fill="#fff" stroke="#000" stroke-width="2.2"/>
<circle cx="921.60" cy="635.10" r="5.10" fill="#fff" stroke="#000" stroke-width="2.2"/>
<circle cx="934.80" cy="527.04" r="5.10" fill="#fff" stroke="#000" stroke-width="2.2"/>
<circle cx="939.20" cy="539.99" r="5.10" fill="#fff" stroke="#000" stroke-width="2.2"/>
<circle cx="943.60" cy="532.88" r="5.10" fill="#fff" stroke="#000" stroke-width="2.2"/>
<circle cx="948.00" cy="537.46" r="5.10" fill="#fff" stroke="#000" stroke-width="2.2"/>
<circle cx="952.40" cy="534.23" r="5.10" fill="#fff" stroke="#000" stroke-width="2.2"/>
<circle cx="956.80" cy="525.42" r="5.10" fill="#fff" stroke="#000" stroke-width="2.2"/>
<circle cx="961.20" cy="539.43" r="5.10" fill="#fff" stroke="#000" stroke-width="2.2"/>
<circle cx="965.60" cy="521.97" r="5.10" fill="#fff" stroke="#000" stroke-width="2.2"/>
<circle cx="970.00" cy="542.48" r="5.10" fill="#fff" stroke="#000" stroke-width="2.2"/>
<circle cx="974.40" cy="543.14" r="5.10" fill="#fff" stroke="#000" stroke-width="2.2"/>
<circle cx="978.80" cy="528.02" r="5.10" fill="#fff" stroke="#000" stroke-width="2.2"/>
<circle cx="983.20" cy="543.00" r="5.10" fill="#fff" stroke="#000" stroke-width="2.2"/>
<circle cx="987.60" cy="536.22" r="5.10" fill="#fff" stroke="#000" stroke-width="2.2"/>
<circle cx="992.00" cy="524.32" r="5.10" fill="#fff" stroke="#000" stroke-width="2.2"/>
<circle cx="996.40" cy="520.99" r="5.10" fill="#fff" stroke="#000" stroke-width="2.2"/>
<circle cx="1000.80" cy="546.60" r="5.10" fill="#fff" stroke="#000" stroke-width="2.2"/>
<circle cx="1005.20" cy="525.87" r="5.10" fill="#fff" stroke="#000" stroke-width="2.2"/>
<circle cx="1009.60" cy="513.08" r="5.10" fill="#fff" stroke="#000" stroke-width="2.2"/>
<circle cx="1014.00" cy="518.48" r="5.10" fill="#fff" stroke="#000" stroke-width="2.2"/>
<circle cx="1018.40" cy="530.89" r="5.10" fill="#fff" stroke="#000" stroke-width="2.2"/>
<circle cx="1022.80" cy="533.85" r="5.10" fill="#fff" stroke="#000" stroke-width="2.2"/>
<circle cx="1027.20" cy="530.95" r="5.10" fill="#fff" stroke="#000" stroke-width="2.2"/>
<circle cx="1031.60" cy="538.26" r="5.10" fill="#fff" stroke="#000" stroke-width="2.2"/>
<circle cx="1036.00" cy="530.23" r="5.10" fill="#fff" stroke="#000" stroke-width="2.2"/>
<circle cx="1040.40" cy="529.33" r="5.10" fill="#fff" stroke="#000" stroke-width="2.2"/>
<circle cx="1044.80" cy="528.74" r="5.10" fill="#fff" stroke="#000" stroke-width="2.2"/>
<circle cx="1049.20" cy="516.83" r="5.10" fill="#fff" stroke="#000" stroke-width="2.2"/>
<circle cx="1053.60" cy="529.05" r="5.10" fill="#fff" stroke="#000" stroke-width="2.2"/>
<circle cx="1058.00" cy="539.63" r="5.10" fill="#fff" stroke="#000" stroke-width="2.2"/>
<circle cx="1062.40" cy="517.66" r="5.10" fill="#fff" stroke="#000" stroke-width="2.2"/>
<circle cx="1066.80" cy="536.46" r="5.10" fill="#fff" stroke="#000" stroke-width="2.2"/>
<circle cx="1071.20" cy="531.07" r="5.10" fill="#fff" stroke="#000" stroke-width="2.2"/>
<circle cx="1075.60" cy="528.42" r="5.10" fill="#fff" stroke="#000" stroke-width="2.2"/>
<circle cx="1080.00" cy="530.38" r="5.10" fill="#fff" stroke="#000" stroke-width="2.2"/>
<circle cx="1084.40" cy="536.29" r="5.10" fill="#fff" stroke="#000" stroke-width="2.2"/>
<circle cx="1088.80" cy="529.76" r="5.10" fill="#fff" stroke="#000" stroke-width="2.2"/>
<circle cx="1093.20" cy="508.46" r="5.10" fill="#fff" stroke="#000" stroke-width="2.2"/>
<circle cx="1097.60" cy="533.13" r="5.10" fill="#fff" stroke="#000" stroke-width="2.2"/>
<circle cx="1102.00" cy="529.10" r="5.10" fill="#fff" stroke="#000" stroke-width="2.2"/>
<circle cx="1106.40" cy="518.12" r="5.10" fill="#fff" stroke="#000" stroke-width="2.2"/>
<circle cx="1110.80" cy="521.57" r="5.10" fill="#fff" stroke="#000" stroke-width="2.2"/>
<circle cx="1115.20" cy="521.51" r="5.10" fill="#fff" stroke="#000" stroke-width="2.2"/>
<circle cx="1119.60" cy="520.75" r="5.10" fill="#fff" stroke="#000" stroke-width="2.2"/>
<circle cx="1124.00" cy="545.77" r="5.10" fill="#fff" stroke="#000" stroke-width="2.2"/>
<circle cx="1128.40" cy="536.16" r="5.10" fill="#fff" stroke="#000" stroke-width="2.2"/>
<circle cx="1132.80" cy="527.54" r="5.10" fill="#fff" stroke="#000" stroke-width="2.2"/>
<circle cx="1137.20" cy="524.39" r="5.10" fill="#fff" stroke="#000" stroke-width="2.2"/>
<circle cx="1141.60" cy="517.50" r="5.10" fill="#fff" stroke="#000" stroke-width="2.2"/>
<circle cx="1146.00" cy="524.87" r="5.10" fill="#fff" stroke="#000" stroke-width="2.2"/>
<circle cx="1150.40" cy="531.15" r="5.10" fill="#fff" stroke="#000" stroke-width="2.2"/>
<circle cx="1154.80" cy="528.76" r="5.10" fill="#fff" stroke="#000" stroke-width="2.2"/>
<circle cx="1159.20" cy="531.02" r="5.10" fill="#fff" stroke="#000" stroke-width="2.2"/>
<circle cx="1163.60" cy="527.05" r="5.10" fill="#fff" stroke="#000" stroke-width="2.2"/>
<circle cx="1168.00" cy="523.34" r="5.10" fill="#fff" stroke="#000" stroke-width="2.2"/>
<circle cx="1172.40" cy="532.32" r="5.10" fill="#fff" stroke="#000" stroke-width="2.2"/>
<circle cx="1176.80" cy="536.54" r="5.10" fill="#fff" stroke="#000" stroke-width="2.2"/>
<circle cx="1181.20" cy="536.96" r="5.10" fill="#fff" stroke="#000" stroke-width="2.2"/>
<circle cx="1185.60" cy="519.84" r="5.10" fill="#fff" stroke="#000" stroke-width="2.2"/>
<circle cx="1190.00" cy="518.28" r="5.10" fill="#fff" stroke="#000" stroke-width="2.2"/>
<circle cx="1194.40" cy="520.87" r="5.10" fill="#fff" stroke="#000" stroke-width="2.2"/>
<circle cx="1198.80" cy="522.12" r="5.10" fill="#fff" stroke="#000" stroke-width="2.2"/>
<circle cx="1203.20" cy="522.38" r="5.10" fill="#fff" stroke="#000" stroke-width="2.2"/>
<circle cx="1207.60" cy="529.79" r="5.10" fill="#fff" stroke="#000" stroke-width="2.2"/>
<circle cx="1212.00" cy="523.98" r="5.10" fill="#fff" stroke="#000" stroke-width="2.2"/>
<circle cx="1216.40" cy="539.14" r="5.10" fill="#fff" stroke="#000" stroke-width="2.2"/>
<circle cx="1220.80" cy="531.72" r="5.10" fill="#fff" stroke="#000" stroke-width="2.2"/>
<circle cx="1225.20" cy="536.45" r="5.10" fill="#fff" stroke="#000" stroke-width="2.2"/>
<circle cx="1229.60" cy="523.65" r="5.10" fill="#fff" stroke="#000" stroke-width="2.2"/>
<circle cx="1234.00" cy="535.20" r="5.10" fill="#fff" stroke="#000" stroke-width="2.2"/>
<circle cx="1238.40" cy="531.11" r="5.10" fill="#fff" stroke="#000" stroke-width="2.2"/>
<circle cx="1242.80" cy="526.69" r="5.10" fill="#fff" stroke="#000" stroke-width="2.2"/>
<circle cx="1247.20" cy="518.34" r="5.10" fill="#fff" stroke="#000" stroke-width="2.2"/>
<circle cx="1251.60" cy="537.29" r="5.10" fill="#fff" stroke="#000" stroke-width="2.2"/>
<circle cx="1256.00" cy="538.64" r="5.10" fill="#fff" stroke="#000" stroke-width="2.2"/>
<circle cx="1260.40" cy="523.24" r="5.10" fill="#fff" stroke="#000" stroke-width="2.2"/>
<circle cx="1264.80" cy="540.22" r="5.10" fill="#fff" stroke="#000" stroke-width="2.2"/>
<circle cx="1269.20" cy="526.56" r="5.10" fill="#fff" stroke="#000" stroke-width="2.2"/>
<circle cx="1273.60" cy="535.61" r="5.10" fill="#fff" stroke="#000" stroke-width="2.2"/>
<circle cx="1278.00" cy="531.58" r="5.10" fill="#fff" stroke="#000" stroke-width="2.2"/>
<circle cx="1282.40" cy="546.73" r="5.10" fill="#fff" stroke="#000" stroke-width="2.2"/>
<circle cx="1286.80" cy="524.48" r="5.10" fill="#fff" stroke="#000" stroke-width="2.2"/>
<circle cx="1291.20" cy="535.22" r="5.10" fill="#fff" stroke="#000" stroke-width="2.2"/>
<circle cx="1295.60" cy="538.78" r="5.10" fill="#fff" stroke="#000" stroke-width="2.2"/>
<circle cx="1300.00" cy="512.65" r="5.10" fill="#fff" stroke="#000" stroke-width="2.2"/>
<circle cx="1304.40" cy="524.72" r="5.10" fill="#fff" stroke="#000" stroke-width="2.2"/>
<circle cx="1308.80" cy="500.16" r="5.10" fill="#fff" stroke="#000" stroke-width="2.2"/>
<circle cx="1313.20" cy="527.50" r="5.10" fill="#fff" stroke="#000" stroke-width="2.2"/>
<circle cx="1317.60" cy="534.21" r="5.10" fill="#fff" stroke="#000" stroke-width="2.2"/>
<circle cx="1322.00" cy="530.25" r="5.10" fill="#fff" stroke="#000" stroke-width="2.2"/>
<circle cx="1326.40" cy="517.28" r="5.10" fill="#fff" stroke="#000" stroke-width="2.2"/>
<circle cx="1330.80" cy="531.88" r="5.10" fill="#fff" stroke="#000" stroke-width="2.2"/>
<circle cx="1335.20" cy="527.89" r="5.10" fill="#fff" stroke="#000" stroke-width="2.2"/>
<circle cx="1339.60" cy="527.53" r="5.10" fill="#fff" stroke="#000" stroke-width="2.2"/>
<circle cx="1344.00" cy="540.31" r="5.10" fill="#fff" stroke="#000" stroke-width="2.2"/>
<circle cx="1348.40" cy="531.39" r="5.10" fill="#fff" stroke="#000" stroke-width="2.2"/>
<circle cx="1352.80" cy="537.16" r="5.10" fill="#fff" stroke="#000" stroke-width="2.2"/>
<circle cx="1357.20" cy="543.92" r="5.10" fill="#fff" stroke="#000" stroke-width="2.2"/>
<circle cx="1361.60" cy="525.51" r="5.10" fill="#fff" stroke="#000" stroke-width="2.2"/>
<circle cx="1366.00" cy="527.54" r="5.10" fill="#fff" stroke="#000" stroke-width="2.2"/>
<circle cx="1370.40" cy="532.96" r="5.10" fill="#fff" stroke="#000" stroke-width="2.2"/>
<circle cx="1374.80" cy="541.83" r="5.10" fill="#fff" stroke="#000" stroke-width="2.2"/>
<circle cx="1379.20" cy="551.71" r="5.10" fill="#fff" stroke="#000" stroke-width="2.2"/>
<circle cx="1383.60" cy="530.01" r="5.10" fill="#fff" stroke="#000" stroke-width="2.2"/>
<circle cx="1388.00" cy="535.36" r="5.10" fill="#fff" stroke="#000" stroke-width="2.2"/>
<circle cx="1392.40" cy="549.54" r="5.10" fill="#fff" stroke="#000" stroke-width="2.2"/>
<circle cx="1396.80" cy="535.47" r="5.10" fill="#fff" stroke="#000" stroke-width="2.2"/>
<circle cx="1401.20" cy="548.55" r="5.10" fill="#fff" stroke="#000" stroke-width="2.2"/>
<circle cx="1405.60" cy="535.61" r="5.10" fill="#fff" stroke="#000" stroke-width="2.2"/>
<circle cx="1410.00" cy="534.34" r="5.10" fill="#fff" stroke="#000" stroke-width="2.2"/>
<circle cx="1414.40" cy="532.70" r="5.10" fill="#fff" stroke="#000" stroke-width="2.2"/>
<circle cx="1418.80" cy="534.13" r="5.10" fill="#fff" stroke="#000" stroke-width="2.2"/>
<circle cx="1423.20" cy="534.76" r="5.10" fill="#fff" stroke="#000" stroke-width="2.2"/>
<circle cx="1427.60" cy="546.51" r="5.10" fill="#fff" stroke="#000" stroke-width="2.2"/>
<circle cx="1432.00" cy="540.08" r="5.10" fill="#fff" stroke="#000" stroke-width="2.2"/>
<circle cx="1436.40" cy="541.42" r="5.10" fill="#fff" stroke="#000" stroke-width="2.2"/>
<circle cx="1440.80" cy="539.21" r="5.10" fill="#fff" stroke="#000" stroke-width="2.2"/>
<circle cx="1445.20" cy="534.98" r="5.10" fill="#fff" stroke="#000" stroke-width="2.2"/>
<circle cx="1449.60" cy="532.13" r="5.10" fill="#fff" stroke="#000" stroke-width="2.2"/>
<circle cx="1454.00" cy="523.41" r="5.10" fill="#fff" stroke="#000" stroke-width="2.2"/>
<path d="M794.0 656.0V646.5M788.0 646.5H800.0M798.4 639.5V621.8M792.4 621.8H804.4M802.8 631.2V616.2M796.8 616.2H808.8M807.2 633.9V623.9M801.2 623.9H813.2M811.6 629.1V616.8M805.6 616.8H817.6M816.0 635.5V627.3M810.0 627.3H822.0M820.4 634.7V624.4M814.4 624.4H826.4M824.8 645.4V635.6M818.8 635.6H830.8M829.2 625.8V617.8M823.2 617.8H835.2M833.6 638.7V630.2M827.6 630.2H839.6M838.0 627.9V619.5M832.0 619.5H844.0M842.4 631.4V617.5M836.4 617.5H848.4M846.8 638.3V628.2M840.8 628.2H852.8M851.2 643.1V632.4M845.2 632.4H857.2M855.6 635.1V623.2M849.6 623.2H861.6M860.0 634.4V618.8M854.0 618.8H866.0M864.4 630.8V622.6M858.4 622.6H870.4M868.8 614.6V606.6M862.8 606.6H874.8M873.2 640.2V630.7M867.2 630.7H879.2M877.6 634.6V619.6M871.6 619.6H883.6M882.0 636.2V626.0M876.0 626.0H888.0M886.4 635.3V627.2M880.4 627.2H892.4M890.8 628.1V620.1M884.8 620.1H896.8M895.2 620.6V610.2M889.2 610.2H901.2M899.6 608.6V596.8M893.6 596.8H905.6M904.0 613.3V601.6M898.0 601.6H910.0M908.4 619.7V610.8M902.4 610.8H914.4M912.8 595.7V586.0M906.8 586.0H918.8M917.2 615.6V604.8M911.2 604.8H923.2M921.6 616.5V604.6M915.6 604.6H927.6M934.8 441.1V415.9M928.8 415.9H940.8M939.2 461.9V434.0M933.2 434.0H945.2M943.6 499.5V453.4M937.6 453.4H949.6M948.0 496.3V463.0M942.0 463.0H954.0M952.4 517.9V471.3M946.4 471.3H958.4M956.8 501.4V446.8M950.8 446.8H962.8M961.2 491.5V444.9M955.2 444.9H967.2M965.6 489.6V438.4M959.6 438.4H971.6M970.0 468.6V427.0M964.0 427.0H976.0M974.4 495.9V430.8M968.4 430.8H980.4M978.8 494.1V427.8M972.8 427.8H984.8M983.2 491.0V437.7M977.2 437.7H989.2M987.6 493.9V456.1M981.6 456.1H993.6M992.0 499.9V426.8M986.0 426.8H998.0M996.4 481.4V424.6M990.4 424.6H1002.4M1000.8 477.4V421.2M994.8 421.2H1006.8M1005.2 476.0V428.4M999.2 428.4H1011.2M1009.6 490.4V430.8M1003.6 430.8H1015.6M1014.0 492.5V456.2M1008.0 456.2H1020.0M1018.4 491.9V448.1M1012.4 448.1H1024.4M1022.8 483.4V441.7M1016.8 441.7H1028.8M1027.2 502.5V457.3M1021.2 457.3H1033.2M1031.6 474.5V426.8M1025.6 426.8H1037.6M1036.0 490.6V442.6M1030.0 442.6H1042.0M1040.4 489.8V433.1M1034.4 433.1H1046.4M1044.8 478.4V447.5M1038.8 447.5H1050.8M1049.2 479.6V432.7M1043.2 432.7H1055.2M1053.6 498.8V428.5M1047.6 428.5H1059.6M1058.0 497.9V432.4M1052.0 432.4H1064.0M1062.4 486.1V450.2M1056.4 450.2H1068.4M1066.8 492.1V438.8M1060.8 438.8H1072.8M1071.2 499.6V476.8M1065.2 476.8H1077.2M1075.6 502.7V458.9M1069.6 458.9H1081.6M1080.0 511.9V448.1M1074.0 448.1H1086.0M1084.4 503.1V461.4M1078.4 461.4H1090.4M1088.8 504.4V466.8M1082.8 466.8H1094.8M1093.2 510.4V464.2M1087.2 464.2H1099.2M1097.6 499.2V459.0M1091.6 459.0H1103.6M1102.0 504.3V473.0M1096.0 473.0H1108.0M1106.4 498.3V460.8M1100.4 460.8H1112.4M1110.8 502.4V466.5M1104.8 466.5H1116.8M1115.2 510.5V463.6M1109.2 463.6H1121.2M1119.6 518.3V449.2M1113.6 449.2H1125.6M1124.0 505.4V461.6M1118.0 461.6H1130.0M1128.4 513.2V453.0M1122.4 453.0H1134.4M1132.8 489.9V442.7M1126.8 442.7H1138.8M1137.2 520.3V481.1M1131.2 481.1H1143.2M1141.6 498.6V459.5M1135.6 459.5H1147.6M1146.0 518.5V486.2M1140.0 486.2H1152.0M1150.4 514.0V470.0M1144.4 470.0H1156.4M1154.8 512.7V468.8M1148.8 468.8H1160.8M1159.2 475.0V413.7M1153.2 413.7H1165.2M1163.6 517.2V470.2M1157.6 470.2H1169.6M1168.0 504.9V462.8M1162.0 462.8H1174.0M1172.4 494.4V454.4M1166.4 454.4H1178.4M1176.8 509.6V470.0M1170.8 470.0H1182.8M1181.2 507.2V451.3M1175.2 451.3H1187.2M1185.6 497.6V467.9M1179.6 467.9H1191.6M1190.0 511.1V476.1M1184.0 476.1H1196.0M1194.4 497.3V452.3M1188.4 452.3H1200.4M1198.8 496.6V454.5M1192.8 454.5H1204.8M1203.2 527.4V480.4M1197.2 480.4H1209.2M1207.6 504.0V456.5M1201.6 456.5H1213.6M1212.0 520.9V477.8M1206.0 477.8H1218.0M1216.4 514.2V478.8M1210.4 478.8H1222.4M1220.8 502.9V457.3M1214.8 457.3H1226.8M1225.2 516.7V491.6M1219.2 491.6H1231.2M1229.6 534.1V497.9M1223.6 497.9H1235.6M1234.0 494.7V453.4M1228.0 453.4H1240.0M1238.4 531.9V498.7M1232.4 498.7H1244.4M1242.8 502.5V444.4M1236.8 444.4H1248.8M1247.2 494.4V449.3M1241.2 449.3H1253.2M1251.6 505.2V474.2M1245.6 474.2H1257.6M1256.0 512.4V474.4M1250.0 474.4H1262.0M1260.4 516.0V474.1M1254.4 474.1H1266.4M1264.8 511.9V467.4M1258.8 467.4H1270.8M1269.2 491.9V443.5M1263.2 443.5H1275.2M1273.6 503.2V464.6M1267.6 464.6H1279.6M1278.0 524.6V484.8M1272.0 484.8H1284.0M1282.4 502.0V471.1M1276.4 471.1H1288.4M1286.8 494.3V456.8M1280.8 456.8H1292.8M1291.2 504.1V466.6M1285.2 466.6H1297.2M1295.6 522.0V461.0M1289.6 461.0H1301.6M1300.0 521.1V471.5M1294.0 471.5H1306.0M1304.4 514.5V471.4M1298.4 471.4H1310.4M1308.8 517.4V481.2M1302.8 481.2H1314.8M1313.2 498.5V439.0M1307.2 439.0H1319.2M1317.6 518.0V477.8M1311.6 477.8H1323.6M1322.0 498.3V464.5M1316.0 464.5H1328.0M1326.4 501.0V468.8M1320.4 468.8H1332.4M1330.8 502.3V458.1M1324.8 458.1H1336.8M1335.2 495.7V452.3M1329.2 452.3H1341.2M1339.6 522.2V476.0M1333.6 476.0H1345.6M1344.0 521.3V474.3M1338.0 474.3H1350.0M1348.4 492.7V447.3M1342.4 447.3H1354.4M1352.8 515.5V464.2M1346.8 464.2H1358.8M1357.2 507.6V480.6M1351.2 480.6H1363.2M1361.6 513.5V460.2M1355.6 460.2H1367.6M1366.0 513.0V472.6M1360.0 472.6H1372.0M1370.4 513.5V491.1M1364.4 491.1H1376.4M1374.8 515.4V472.9M1368.8 472.9H1380.8M1379.2 507.6V470.4M1373.2 470.4H1385.2M1383.6 533.5V482.6M1377.6 482.6H1389.6M1388.0 502.2V453.3M1382.0 453.3H1394.0M1392.4 495.9V461.6M1386.4 461.6H1398.4M1396.8 516.9V475.2M1390.8 475.2H1402.8M1401.2 491.9V470.2M1395.2 470.2H1407.2M1405.6 513.0V481.7M1399.6 481.7H1411.6M1410.0 504.4V451.6M1404.0 451.6H1416.0M1414.4 513.9V488.0M1408.4 488.0H1420.4M1418.8 510.2V474.9M1412.8 474.9H1424.8M1423.2 527.8V481.0M1417.2 481.0H1429.2M1427.6 516.6V471.9M1421.6 471.9H1433.6M1432.0 525.4V476.7M1426.0 476.7H1438.0M1436.4 526.9V478.7M1430.4 478.7H1442.4M1440.8 531.1V479.7M1434.8 479.7H1446.8M1445.2 515.3V493.2M1439.2 493.2H1451.2M1449.6 513.9V473.1M1443.6 473.1H1455.6M1454.0 522.3V489.8M1448.0 489.8H1460.0" stroke="#000" stroke-width="1" fill="none"/>
<polygon points="788.40,660.19 799.60,660.19 794.00,649.59" fill="#fff" stroke="#000" stroke-width="1.6" stroke-linejoin="miter"/>
<polygon points="792.80,643.72 804.00,643.72 798.40,633.12" fill="#fff" stroke="#000" stroke-width="1.6" stroke-linejoin="miter"/>
<polygon points="797.20,635.43 808.40,635.43 802.80,624.83" fill="#fff" stroke="#000" stroke-width="1.6" stroke-linejoin="miter"/>
<polygon points="801.60,638.11 812.80,638.11 807.20,627.51" fill="#fff" stroke="#000" stroke-width="1.6" stroke-linejoin="miter"/>
<polygon points="806.00,633.38 817.20,633.38 811.60,622.78" fill="#fff" stroke="#000" stroke-width="1.6" stroke-linejoin="miter"/>
<polygon points="810.40,639.79 821.60,639.79 816.00,629.19" fill="#fff" stroke="#000" stroke-width="1.6" stroke-linejoin="miter"/>
<polygon points="814.80,638.93 826.00,638.93 820.40,628.33" fill="#fff" stroke="#000" stroke-width="1.6" stroke-linejoin="miter"/>
<polygon points="819.20,649.60 830.40,649.60 824.80,639.00" fill="#fff" stroke="#000" stroke-width="1.6" stroke-linejoin="miter"/>
<polygon points="823.60,630.05 834.80,630.05 829.20,619.45" fill="#fff" stroke="#000" stroke-width="1.6" stroke-linejoin="miter"/>
<polygon points="828.00,642.99 839.20,642.99 833.60,632.39" fill="#fff" stroke="#000" stroke-width="1.6" stroke-linejoin="miter"/>
<polygon points="832.40,632.18 843.60,632.18 838.00,621.58" fill="#fff" stroke="#000" stroke-width="1.6" stroke-linejoin="miter"/>
<polygon points="836.80,635.63 848.00,635.63 842.40,625.03" fill="#fff" stroke="#000" stroke-width="1.6" stroke-linejoin="miter"/>
<polygon points="841.20,642.56 852.40,642.56 846.80,631.96" fill="#fff" stroke="#000" stroke-width="1.6" stroke-linejoin="miter"/>
<polygon points="845.60,647.38 856.80,647.38 851.20,636.78" fill="#fff" stroke="#000" stroke-width="1.6" stroke-linejoin="miter"/>
<polygon points="850.00,639.32 861.20,639.32 855.60,628.72" fill="#fff" stroke="#000" stroke-width="1.6" stroke-linejoin="miter"/>
<polygon points="854.40,638.65 865.60,638.65 860.00,628.05" fill="#fff" stroke="#000" stroke-width="1.6" stroke-linejoin="miter"/>
<polygon points="858.80,635.00 870.00,635.00 864.40,624.40" fill="#fff" stroke="#000" stroke-width="1.6" stroke-linejoin="miter"/>
<polygon points="863.20,618.83 874.40,618.83 868.80,608.23" fill="#fff" stroke="#000" stroke-width="1.6" stroke-linejoin="miter"/>
<polygon points="867.60,644.42 878.80,644.42 873.20,633.82" fill="#fff" stroke="#000" stroke-width="1.6" stroke-linejoin="miter"/>
<polygon points="872.00,638.79 883.20,638.79 877.60,628.19" fill="#fff" stroke="#000" stroke-width="1.6" stroke-linejoin="miter"/>
<polygon points="876.40,640.46 887.60,640.46 882.00,629.86" fill="#fff" stroke="#000" stroke-width="1.6" stroke-linejoin="miter"/>
<polygon points="880.80,639.54 892.00,639.54 886.40,628.94" fill="#fff" stroke="#000" stroke-width="1.6" stroke-linejoin="miter"/>
<polygon points="885.20,632.34 896.40,632.34 890.80,621.74" fill="#fff" stroke="#000" stroke-width="1.6" stroke-linejoin="miter"/>
<polygon points="889.60,624.83 900.80,624.83 895.20,614.23" fill="#fff" stroke="#000" stroke-width="1.6" stroke-linejoin="miter"/>
<polygon points="894.00,612.81 905.20,612.81 899.60,602.21" fill="#fff" stroke="#000" stroke-width="1.6" stroke-linejoin="miter"/>
<polygon points="898.40,617.53 909.60,617.53 904.00,606.93" fill="#fff" stroke="#000" stroke-width="1.6" stroke-linejoin="miter"/>
<polygon points="902.80,623.91 914.00,623.91 908.40,613.31" fill="#fff" stroke="#000" stroke-width="1.6" stroke-linejoin="miter"/>
<polygon points="907.20,599.96 918.40,599.96 912.80,589.36" fill="#fff" stroke="#000" stroke-width="1.6" stroke-linejoin="miter"/>
<polygon points="911.60,619.82 922.80,619.82 917.20,609.22" fill="#fff" stroke="#000" stroke-width="1.6" stroke-linejoin="miter"/>
<polygon points="916.00,620.77 927.20,620.77 921.60,610.17" fill="#fff" stroke="#000" stroke-width="1.6" stroke-linejoin="miter"/>
<polygon points="929.20,445.30 940.40,445.30 934.80,434.70" fill="#fff" stroke="#000" stroke-width="1.6" stroke-linejoin="miter"/>
<polygon points="933.60,466.15 944.80,466.15 939.20,455.55" fill="#fff" stroke="#000" stroke-width="1.6" stroke-linejoin="miter"/>
<polygon points="938.00,503.70 949.20,503.70 943.60,493.10" fill="#fff" stroke="#000" stroke-width="1.6" stroke-linejoin="miter"/>
<polygon points="942.40,500.53 953.60,500.53 948.00,489.93" fill="#fff" stroke="#000" stroke-width="1.6" stroke-linejoin="miter"/>
<polygon points="946.80,522.09 958.00,522.09 952.40,511.49" fill="#fff" stroke="#000" stroke-width="1.6" stroke-linejoin="miter"/>
<polygon points="951.20,505.60 962.40,505.60 956.80,495.00" fill="#fff" stroke="#000" stroke-width="1.6" stroke-linejoin="miter"/>
<polygon points="955.60,495.78 966.80,495.78 961.20,485.18" fill="#fff" stroke="#000" stroke-width="1.6" stroke-linejoin="miter"/>
<polygon points="960.00,493.85 971.20,493.85 965.60,483.25" fill="#fff" stroke="#000" stroke-width="1.6" stroke-linejoin="miter"/>
<polygon points="964.40,472.82 975.60,472.82 970.00,462.22" fill="#fff" stroke="#000" stroke-width="1.6" stroke-linejoin="miter"/>
<polygon points="968.80,500.11 980.00,500.11 974.40,489.51" fill="#fff" stroke="#000" stroke-width="1.6" stroke-linejoin="miter"/>
<polygon points="973.20,498.32 984.40,498.32 978.80,487.72" fill="#fff" stroke="#000" stroke-width="1.6" stroke-linejoin="miter"/>
<polygon points="977.60,495.22 988.80,495.22 983.20,484.62" fill="#fff" stroke="#000" stroke-width="1.6" stroke-linejoin="miter"/>
<polygon points="982.00,498.16 993.20,498.16 987.60,487.56" fill="#fff" stroke="#000" stroke-width="1.6" stroke-linejoin="miter"/>
<polygon points="986.40,504.10 997.60,504.10 992.00,493.50" fill="#fff" stroke="#000" stroke-width="1.6" stroke-linejoin="miter"/>
<polygon points="990.80,485.66 1002.00,485.66 996.40,475.06" fill="#fff" stroke="#000" stroke-width="1.6" stroke-linejoin="miter"/>
<polygon points="995.20,481.61 1006.40,481.61 1000.80,471.01" fill="#fff" stroke="#000" stroke-width="1.6" stroke-linejoin="miter"/>
<polygon points="999.60,480.20 1010.80,480.20 1005.20,469.60" fill="#fff" stroke="#000" stroke-width="1.6" stroke-linejoin="miter"/>
<polygon points="1004.00,494.63 1015.20,494.63 1009.60,484.03" fill="#fff" stroke="#000" stroke-width="1.6" stroke-linejoin="miter"/>
<polygon points="1008.40,496.78 1019.60,496.78 1014.00,486.18" fill="#fff" stroke="#000" stroke-width="1.6" stroke-linejoin="miter"/>
<polygon points="1012.80,496.12 1024.00,496.12 1018.40,485.52" fill="#fff" stroke="#000" stroke-width="1.6" stroke-linejoin="miter"/>
<polygon points="1017.20,487.63 1028.40,487.63 1022.80,477.03" fill="#fff" stroke="#000" stroke-width="1.6" stroke-linejoin="miter"/>
<polygon points="1021.60,506.78 1032.80,506.78 1027.20,496.18" fill="#fff" stroke="#000" stroke-width="1.6" stroke-linejoin="miter"/>
<polygon points="1026.00,478.76 1037.20,478.76 1031.60,468.16" fill="#fff" stroke="#000" stroke-width="1.6" stroke-linejoin="miter"/>
<polygon points="1030.40,494.80 1041.60,494.80 1036.00,484.20" fill="#fff" stroke="#000" stroke-width="1.6" stroke-linejoin="miter"/>
<polygon points="1034.80,494.06 1046.00,494.06 1040.40,483.46" fill="#fff" stroke="#000" stroke-width="1.6" stroke-linejoin="miter"/>
<polygon points="1039.20,482.69 1050.40,482.69 1044.80,472.09" fill="#fff" stroke="#000" stroke-width="1.6" stroke-linejoin="miter"/>
<polygon points="1043.60,483.80 1054.80,483.80 1049.20,473.20" fill="#fff" stroke="#000" stroke-width="1.6" stroke-linejoin="miter"/>
<polygon points="1048.00,503.04 1059.20,503.04 1053.60,492.44" fill="#fff" stroke="#000" stroke-width="1.6" stroke-linejoin="miter"/>
<polygon points="1052.40,502.10 1063.60,502.10 1058.00,491.50" fill="#fff" stroke="#000" stroke-width="1.6" stroke-linejoin="miter"/>
<polygon points="1056.80,490.33 1068.00,490.33 1062.40,479.73" fill="#fff" stroke="#000" stroke-width="1.6" stroke-linejoin="miter"/>
<polygon points="1061.20,496.33 1072.40,496.33 1066.80,485.73" fill="#fff" stroke="#000" stroke-width="1.6" stroke-linejoin="miter"/>
<polygon points="1065.60,503.82 1076.80,503.82 1071.20,493.22" fill="#fff" stroke="#000" stroke-width="1.6" stroke-linejoin="miter"/>
<polygon points="1070.00,506.96 1081.20,506.96 1075.60,496.36" fill="#fff" stroke="#000" stroke-width="1.6" stroke-linejoin="miter"/>
<polygon points="1074.40,516.09 1085.60,516.09 1080.00,505.49" fill="#fff" stroke="#000" stroke-width="1.6" stroke-linejoin="miter"/>
<polygon points="1078.80,507.33 1090.00,507.33 1084.40,496.73" fill="#fff" stroke="#000" stroke-width="1.6" stroke-linejoin="miter"/>
<polygon points="1083.20,508.67 1094.40,508.67 1088.80,498.07" fill="#fff" stroke="#000" stroke-width="1.6" stroke-linejoin="miter"/>
<polygon points="1087.60,514.64 1098.80,514.64 1093.20,504.04" fill="#fff" stroke="#000" stroke-width="1.6" stroke-linejoin="miter"/>
<polygon points="1092.00,503.39 1103.20,503.39 1097.60,492.79" fill="#fff" stroke="#000" stroke-width="1.6" stroke-linejoin="miter"/>
<polygon points="1096.40,508.57 1107.60,508.57 1102.00,497.97" fill="#fff" stroke="#000" stroke-width="1.6" stroke-linejoin="miter"/>
<polygon points="1100.80,502.57 1112.00,502.57 1106.40,491.97" fill="#fff" stroke="#000" stroke-width="1.6" stroke-linejoin="miter"/>
<polygon points="1105.20,506.68 1116.40,506.68 1110.80,496.08" fill="#fff" stroke="#000" stroke-width="1.6" stroke-linejoin="miter"/>
<polygon points="1109.60,514.79 1120.80,514.79 1115.20,504.19" fill="#fff" stroke="#000" stroke-width="1.6" stroke-linejoin="miter"/>
<polygon points="1114.00,522.52 1125.20,522.52 1119.60,511.92" fill="#fff" stroke="#000" stroke-width="1.6" stroke-linejoin="miter"/>
<polygon points="1118.40,509.68 1129.60,509.68 1124.00,499.08" fill="#fff" stroke="#000" stroke-width="1.6" stroke-linejoin="miter"/>
<polygon points="1122.80,517.43 1134.00,517.43 1128.40,506.83" fill="#fff" stroke="#000" stroke-width="1.6" stroke-linejoin="miter"/>
<polygon points="1127.20,494.19 1138.40,494.19 1132.80,483.59" fill="#fff" stroke="#000" stroke-width="1.6" stroke-linejoin="miter"/>
<polygon points="1131.60,524.56 1142.80,524.56 1137.20,513.96" fill="#fff" stroke="#000" stroke-width="1.6" stroke-linejoin="miter"/>
<polygon points="1136.00,502.82 1147.20,502.82 1141.60,492.22" fill="#fff" stroke="#000" stroke-width="1.6" stroke-linejoin="miter"/>
<polygon points="1140.40,522.69 1151.60,522.69 1146.00,512.09" fill="#fff" stroke="#000" stroke-width="1.6" stroke-linejoin="miter"/>
<polygon points="1144.80,518.23 1156.00,518.23 1150.40,507.63" fill="#fff" stroke="#000" stroke-width="1.6" stroke-linejoin="miter"/>
<polygon points="1149.20,516.96 1160.40,516.96 1154.80,506.36" fill="#fff" stroke="#000" stroke-width="1.6" stroke-linejoin="miter"/>
<polygon points="1153.60,479.19 1164.80,479.19 1159.20,468.59" fill="#fff" stroke="#000" stroke-width="1.6" stroke-linejoin="miter"/>
<polygon points="1158.00,521.40 1169.20,521.40 1163.60,510.80" fill="#fff" stroke="#000" stroke-width="1.6" stroke-linejoin="miter"/>
<polygon points="1162.40,509.10 1173.60,509.10 1168.00,498.50" fill="#fff" stroke="#000" stroke-width="1.6" stroke-linejoin="miter"/>
<polygon points="1166.80,498.66 1178.00,498.66 1172.40,488.06" fill="#fff" stroke="#000" stroke-width="1.6" stroke-linejoin="miter"/>
<polygon points="1171.20,513.80 1182.40,513.80 1176.80,503.20" fill="#fff" stroke="#000" stroke-width="1.6" stroke-linejoin="miter"/>
<polygon points="1175.60,511.40 1186.80,511.40 1181.20,500.80" fill="#fff" stroke="#000" stroke-width="1.6" stroke-linejoin="miter"/>
<polygon points="1180.00,501.84 1191.20,501.84 1185.60,491.24" fill="#fff" stroke="#000" stroke-width="1.6" stroke-linejoin="miter"/>
<polygon points="1184.40,515.31 1195.60,515.31 1190.00,504.71" fill="#fff" stroke="#000" stroke-width="1.6" stroke-linejoin="miter"/>
<polygon points="1188.80,501.56 1200.00,501.56 1194.40,490.96" fill="#fff" stroke="#000" stroke-width="1.6" stroke-linejoin="miter"/>
<polygon points="1193.20,500.82 1204.40,500.82 1198.80,490.22" fill="#fff" stroke="#000" stroke-width="1.6" stroke-linejoin="miter"/>
<polygon points="1197.60,531.69 1208.80,531.69 1203.20,521.09" fill="#fff" stroke="#000" stroke-width="1.6" stroke-linejoin="miter"/>
<polygon points="1202.00,508.27 1213.20,508.27 1207.60,497.67" fill="#fff" stroke="#000" stroke-width="1.6" stroke-linejoin="miter"/>
<polygon points="1206.40,525.18 1217.60,525.18 1212.00,514.58" fill="#fff" stroke="#000" stroke-width="1.6" stroke-linejoin="miter"/>
<polygon points="1210.80,518.49 1222.00,518.49 1216.40,507.89" fill="#fff" stroke="#000" stroke-width="1.6" stroke-linejoin="miter"/>
<polygon points="1215.20,507.12 1226.40,507.12 1220.80,496.52" fill="#fff" stroke="#000" stroke-width="1.6" stroke-linejoin="miter"/>
<polygon points="1219.60,520.90 1230.80,520.90 1225.20,510.30" fill="#fff" stroke="#000" stroke-width="1.6" stroke-linejoin="miter"/>
<polygon points="1224.00,538.38 1235.20,538.38 1229.60,527.78" fill="#fff" stroke="#000" stroke-width="1.6" stroke-linejoin="miter"/>
<polygon points="1228.40,498.89 1239.60,498.89 1234.00,488.29" fill="#fff" stroke="#000" stroke-width="1.6" stroke-linejoin="miter"/>
<polygon points="1232.80,536.09 1244.00,536.09 1238.40,525.49" fill="#fff" stroke="#000" stroke-width="1.6" stroke-linejoin="miter"/>
<polygon points="1237.20,506.78 1248.40,506.78 1242.80,496.18" fill="#fff" stroke="#000" stroke-width="1.6" stroke-linejoin="miter"/>
<polygon points="1241.60,498.66 1252.80,498.66 1247.20,488.06" fill="#fff" stroke="#000" stroke-width="1.6" stroke-linejoin="miter"/>
<polygon points="1246.00,509.42 1257.20,509.42 1251.60,498.82" fill="#fff" stroke="#000" stroke-width="1.6" stroke-linejoin="miter"/>
<polygon points="1250.40,516.65 1261.60,516.65 1256.00,506.05" fill="#fff" stroke="#000" stroke-width="1.6" stroke-linejoin="miter"/>
<polygon points="1254.80,520.28 1266.00,520.28 1260.40,509.68" fill="#fff" stroke="#000" stroke-width="1.6" stroke-linejoin="miter"/>
<polygon points="1259.20,516.18 1270.40,516.18 1264.80,505.58" fill="#fff" stroke="#000" stroke-width="1.6" stroke-linejoin="miter"/>
<polygon points="1263.60,496.17 1274.80,496.17 1269.20,485.57" fill="#fff" stroke="#000" stroke-width="1.6" stroke-linejoin="miter"/>
<polygon points="1268.00,507.43 1279.20,507.43 1273.60,496.83" fill="#fff" stroke="#000" stroke-width="1.6" stroke-linejoin="miter"/>
<polygon points="1272.40,528.84 1283.60,528.84 1278.00,518.24" fill="#fff" stroke="#000" stroke-width="1.6" stroke-linejoin="miter"/>
<polygon points="1276.80,506.23 1288.00,506.23 1282.40,495.63" fill="#fff" stroke="#000" stroke-width="1.6" stroke-linejoin="miter"/>
<polygon points="1281.20,498.50 1292.40,498.50 1286.80,487.90" fill="#fff" stroke="#000" stroke-width="1.6" stroke-linejoin="miter"/>
<polygon points="1285.60,508.29 1296.80,508.29 1291.20,497.69" fill="#fff" stroke="#000" stroke-width="1.6" stroke-linejoin="miter"/>
<polygon points="1290.00,526.28 1301.20,526.28 1295.60,515.68" fill="#fff" stroke="#000" stroke-width="1.6" stroke-linejoin="miter"/>
<polygon points="1294.40,525.33 1305.60,525.33 1300.00,514.73" fill="#fff" stroke="#000" stroke-width="1.6" stroke-linejoin="miter"/>
<polygon points="1298.80,518.76 1310.00,518.76 1304.40,508.16" fill="#fff" stroke="#000" stroke-width="1.6" stroke-linejoin="miter"/>
<polygon points="1303.20,521.60 1314.40,521.60 1308.80,511.00" fill="#fff" stroke="#000" stroke-width="1.6" stroke-linejoin="miter"/>
<polygon points="1307.60,502.70 1318.80,502.70 1313.20,492.10" fill="#fff" stroke="#000" stroke-width="1.6" stroke-linejoin="miter"/>
<polygon points="1312.00,522.23 1323.20,522.23 1317.60,511.63" fill="#fff" stroke="#000" stroke-width="1.6" stroke-linejoin="miter"/>
<polygon points="1316.40,502.58 1327.60,502.58 1322.00,491.98" fill="#fff" stroke="#000" stroke-width="1.6" stroke-linejoin="miter"/>
<polygon points="1320.80,505.27 1332.00,505.27 1326.40,494.67" fill="#fff" stroke="#000" stroke-width="1.6" stroke-linejoin="miter"/>
<polygon points="1325.20,506.53 1336.40,506.53 1330.80,495.93" fill="#fff" stroke="#000" stroke-width="1.6" stroke-linejoin="miter"/>
<polygon points="1329.60,499.93 1340.80,499.93 1335.20,489.33" fill="#fff" stroke="#000" stroke-width="1.6" stroke-linejoin="miter"/>
<polygon points="1334.00,526.48 1345.20,526.48 1339.60,515.88" fill="#fff" stroke="#000" stroke-width="1.6" stroke-linejoin="miter"/>
<polygon points="1338.40,525.56 1349.60,525.56 1344.00,514.96" fill="#fff" stroke="#000" stroke-width="1.6" stroke-linejoin="miter"/>
<polygon points="1342.80,496.91 1354.00,496.91 1348.40,486.31" fill="#fff" stroke="#000" stroke-width="1.6" stroke-linejoin="miter"/>
<polygon points="1347.20,519.70 1358.40,519.70 1352.80,509.10" fill="#fff" stroke="#000" stroke-width="1.6" stroke-linejoin="miter"/>
<polygon points="1351.60,511.86 1362.80,511.86 1357.20,501.26" fill="#fff" stroke="#000" stroke-width="1.6" stroke-linejoin="miter"/>
<polygon points="1356.00,517.69 1367.20,517.69 1361.60,507.09" fill="#fff" stroke="#000" stroke-width="1.6" stroke-linejoin="miter"/>
<polygon points="1360.40,517.22 1371.60,517.22 1366.00,506.62" fill="#fff" stroke="#000" stroke-width="1.6" stroke-linejoin="miter"/>
<polygon points="1364.80,517.74 1376.00,517.74 1370.40,507.14" fill="#fff" stroke="#000" stroke-width="1.6" stroke-linejoin="miter"/>
<polygon points="1369.20,519.67 1380.40,519.67 1374.80,509.07" fill="#fff" stroke="#000" stroke-width="1.6" stroke-linejoin="miter"/>
<polygon points="1373.60,511.86 1384.80,511.86 1379.20,501.26" fill="#fff" stroke="#000" stroke-width="1.6" stroke-linejoin="miter"/>
<polygon points="1378.00,537.71 1389.20,537.71 1383.60,527.11" fill="#fff" stroke="#000" stroke-width="1.6" stroke-linejoin="miter"/>
<polygon points="1382.40,506.40 1393.60,506.40 1388.00,495.80" fill="#fff" stroke="#000" stroke-width="1.6" stroke-linejoin="miter"/>
<polygon points="1386.80,500.10 1398.00,500.10 1392.40,489.50" fill="#fff" stroke="#000" stroke-width="1.6" stroke-linejoin="miter"/>
<polygon points="1391.20,521.14 1402.40,521.14 1396.80,510.54" fill="#fff" stroke="#000" stroke-width="1.6" stroke-linejoin="miter"/>
<polygon points="1395.60,496.18 1406.80,496.18 1401.20,485.58" fill="#fff" stroke="#000" stroke-width="1.6" stroke-linejoin="miter"/>
<polygon points="1400.00,517.20 1411.20,517.20 1405.60,506.60" fill="#fff" stroke="#000" stroke-width="1.6" stroke-linejoin="miter"/>
<polygon points="1404.40,508.61 1415.60,508.61 1410.00,498.01" fill="#fff" stroke="#000" stroke-width="1.6" stroke-linejoin="miter"/>
<polygon points="1408.80,518.10 1420.00,518.10 1414.40,507.50" fill="#fff" stroke="#000" stroke-width="1.6" stroke-linejoin="miter"/>
<polygon points="1413.20,514.39 1424.40,514.39 1418.80,503.79" fill="#fff" stroke="#000" stroke-width="1.6" stroke-linejoin="miter"/>
<polygon points="1417.60,532.00 1428.80,532.00 1423.20,521.40" fill="#fff" stroke="#000" stroke-width="1.6" stroke-linejoin="miter"/>
<polygon points="1422.00,520.87 1433.20,520.87 1427.60,510.27" fill="#fff" stroke="#000" stroke-width="1.6" stroke-linejoin="miter"/>
<polygon points="1426.40,529.67 1437.60,529.67 1432.00,519.07" fill="#fff" stroke="#000" stroke-width="1.6" stroke-linejoin="miter"/>
<polygon points="1430.80,531.14 1442.00,531.14 1436.40,520.54" fill="#fff" stroke="#000" stroke-width="1.6" stroke-linejoin="miter"/>
<polygon points="1435.20,535.30 1446.40,535.30 1440.80,524.70" fill="#fff" stroke="#000" stroke-width="1.6" stroke-linejoin="miter"/>
<polygon points="1439.60,519.59 1450.80,519.59 1445.20,508.99" fill="#fff" stroke="#000" stroke-width="1.6" stroke-linejoin="miter"/>
<polygon points="1444.00,518.14 1455.20,518.14 1449.60,507.54" fill="#fff" stroke="#000" stroke-width="1.6" stroke-linejoin="miter"/>
<polygon points="1448.40,526.54 1459.60,526.54 1454.00,515.94" fill="#fff" stroke="#000" stroke-width="1.6" stroke-linejoin="miter"/>
<path d="M794.0 618.2V633.5M788.0 633.5H800.0M798.4 624.9V638.9M792.4 638.9H804.4M802.8 622.4V639.1M796.8 639.1H808.8M807.2 622.2V639.9M801.2 639.9H813.2M811.6 621.7V634.4M805.6 634.4H817.6M816.0 629.4V642.7M810.0 642.7H822.0M820.4 625.3V636.6M814.4 636.6H826.4M824.8 636.2V647.7M818.8 647.7H830.8M829.2 623.8V635.1M823.2 635.1H835.2M833.6 635.6V648.7M827.6 648.7H839.6M838.0 622.9V634.7M832.0 634.7H844.0M842.4 624.6V637.1M836.4 637.1H848.4M846.8 630.5V643.8M840.8 643.8H852.8M851.2 628.9V640.7M845.2 640.7H857.2M855.6 609.0V623.1M849.6 623.1H861.6M860.0 626.2V644.3M854.0 644.3H866.0M864.4 626.4V640.7M858.4 640.7H870.4M868.8 630.8V642.8M862.8 642.8H874.8M873.2 639.3V652.7M867.2 652.7H879.2M877.6 630.2V644.2M871.6 644.2H883.6M882.0 619.4V631.1M876.0 631.1H888.0M886.4 621.5V633.6M880.4 633.6H892.4M890.8 628.0V640.3M884.8 640.3H896.8M895.2 631.6V648.2M889.2 648.2H901.2M899.6 622.1V637.5M893.6 637.5H905.6M904.0 622.3V636.5M898.0 636.5H910.0M908.4 635.2V651.5M902.4 651.5H914.4M912.8 633.9V650.1M906.8 650.1H918.8M917.2 625.8V640.8M911.2 640.8H923.2M921.6 624.1V640.2M915.6 640.2H927.6M934.8 526.7V571.2M928.8 571.2H940.8M939.2 534.5V581.4M933.2 581.4H945.2M943.6 545.9V592.4M937.6 592.4H949.6M948.0 533.4V574.9M942.0 574.9H954.0M952.4 540.4V579.8M946.4 579.8H958.4M956.8 545.2V588.2M950.8 588.2H962.8M961.2 545.6V583.3M955.2 583.3H967.2M965.6 543.5V586.2M959.6 586.2H971.6M970.0 541.2V586.3M964.0 586.3H976.0M974.4 555.1V603.4M968.4 603.4H980.4M978.8 544.5V582.7M972.8 582.7H984.8M983.2 545.8V589.7M977.2 589.7H989.2M987.6 537.6V577.8M981.6 577.8H993.6M992.0 542.4V576.8M986.0 576.8H998.0M996.4 542.3V583.6M990.4 583.6H1002.4M1000.8 546.3V592.2M994.8 592.2H1006.8M1005.2 531.6V578.2M999.2 578.2H1011.2M1009.6 548.6V597.5M1003.6 597.5H1015.6M1014.0 545.7V587.3M1008.0 587.3H1020.0M1018.4 547.3V591.2M1012.4 591.2H1024.4M1022.8 539.8V582.3M1016.8 582.3H1028.8M1027.2 544.9V586.0M1021.2 586.0H1033.2M1031.6 546.1V592.4M1025.6 592.4H1037.6M1036.0 546.9V588.1M1030.0 588.1H1042.0M1040.4 544.9V583.2M1034.4 583.2H1046.4M1044.8 545.0V580.1M1038.8 580.1H1050.8M1049.2 540.8V585.1M1043.2 585.1H1055.2M1053.6 545.5V594.5M1047.6 594.5H1059.6M1058.0 548.9V593.3M1052.0 593.3H1064.0M1062.4 540.4V579.7M1056.4 579.7H1068.4M1066.8 545.2V591.1M1060.8 591.1H1072.8M1071.2 543.2V586.3M1065.2 586.3H1077.2M1075.6 534.4V577.2M1069.6 577.2H1081.6M1080.0 554.6V593.0M1074.0 593.0H1086.0M1084.4 538.1V579.3M1078.4 579.3H1090.4M1088.8 550.7V583.4M1082.8 583.4H1094.8M1093.2 541.5V590.2M1087.2 590.2H1099.2M1097.6 551.9V583.7M1091.6 583.7H1103.6M1102.0 540.4V579.7M1096.0 579.7H1108.0M1106.4 545.6V585.9M1100.4 585.9H1112.4M1110.8 549.6V593.4M1104.8 593.4H1116.8M1115.2 537.6V581.1M1109.2 581.1H1121.2M1119.6 547.3V593.9M1113.6 593.9H1125.6M1124.0 544.4V588.9M1118.0 588.9H1130.0M1128.4 549.8V594.6M1122.4 594.6H1134.4M1132.8 538.8V586.5M1126.8 586.5H1138.8M1137.2 543.5V587.4M1131.2 587.4H1143.2M1141.6 547.5V593.4M1135.6 593.4H1147.6M1146.0 538.6V585.4M1140.0 585.4H1152.0M1150.4 546.3V582.5M1144.4 582.5H1156.4M1154.8 544.2V585.0M1148.8 585.0H1160.8M1159.2 548.6V593.2M1153.2 593.2H1165.2M1163.6 537.6V581.2M1157.6 581.2H1169.6M1168.0 536.5V580.1M1162.0 580.1H1174.0M1172.4 550.2V589.3M1166.4 589.3H1178.4M1176.8 546.1V591.0M1170.8 591.0H1182.8M1181.2 537.8V580.2M1175.2 580.2H1187.2M1185.6 537.2V575.2M1179.6 575.2H1191.6M1190.0 544.6V593.2M1184.0 593.2H1196.0M1194.4 540.9V587.5M1188.4 587.5H1200.4M1198.8 556.1V590.3M1192.8 590.3H1204.8M1203.2 549.5V595.9M1197.2 595.9H1209.2M1207.6 533.3V572.3M1201.6 572.3H1213.6M1212.0 550.3V587.5M1206.0 587.5H1218.0M1216.4 549.7V594.0M1210.4 594.0H1222.4M1220.8 545.9V596.3M1214.8 596.3H1226.8M1225.2 539.2V577.9M1219.2 577.9H1231.2M1229.6 542.4V583.5M1223.6 583.5H1235.6M1234.0 538.8V584.7M1228.0 584.7H1240.0M1238.4 546.2V592.1M1232.4 592.1H1244.4M1242.8 540.2V581.6M1236.8 581.6H1248.8M1247.2 542.3V587.2M1241.2 587.2H1253.2M1251.6 546.0V584.8M1245.6 584.8H1257.6M1256.0 535.7V577.5M1250.0 577.5H1262.0M1260.4 547.8V591.7M1254.4 591.7H1266.4M1264.8 553.6V595.6M1258.8 595.6H1270.8M1269.2 552.8V592.7M1263.2 592.7H1275.2M1273.6 555.6V594.1M1267.6 594.1H1279.6M1278.0 538.2V579.2M1272.0 579.2H1284.0M1282.4 551.9V601.6M1276.4 601.6H1288.4M1286.8 548.1V596.7M1280.8 596.7H1292.8M1291.2 547.4V582.6M1285.2 582.6H1297.2M1295.6 532.1V571.9M1289.6 571.9H1301.6M1300.0 539.1V586.3M1294.0 586.3H1306.0M1304.4 552.6V594.7M1298.4 594.7H1310.4M1308.8 547.8V592.4M1302.8 592.4H1314.8M1313.2 544.1V580.2M1307.2 580.2H1319.2M1317.6 543.7V589.0M1311.6 589.0H1323.6M1322.0 546.0V590.4M1316.0 590.4H1328.0M1326.4 547.5V589.1M1320.4 589.1H1332.4M1330.8 541.8V584.3M1324.8 584.3H1336.8M1335.2 535.9V582.0M1329.2 582.0H1341.2M1339.6 538.7V583.8M1333.6 583.8H1345.6M1344.0 543.1V579.7M1338.0 579.7H1350.0M1348.4 537.3V587.0M1342.4 587.0H1354.4M1352.8 542.7V583.4M1346.8 583.4H1358.8M1357.2 544.4V591.7M1351.2 591.7H1363.2M1361.6 542.3V579.7M1355.6 579.7H1367.6M1366.0 545.3V583.6M1360.0 583.6H1372.0M1370.4 545.5V583.3M1364.4 583.3H1376.4M1374.8 549.8V598.4M1368.8 598.4H1380.8M1379.2 537.4V572.0M1373.2 572.0H1385.2M1383.6 550.5V590.3M1377.6 590.3H1389.6M1388.0 546.7V582.3M1382.0 582.3H1394.0M1392.4 538.5V573.0M1386.4 573.0H1398.4M1396.8 539.7V584.7M1390.8 584.7H1402.8M1401.2 546.6V585.5M1395.2 585.5H1407.2M1405.6 543.9V586.4M1399.6 586.4H1411.6M1410.0 557.8V594.0M1404.0 594.0H1416.0M1414.4 540.8V582.2M1408.4 582.2H1420.4M1418.8 547.0V584.3M1412.8 584.3H1424.8M1423.2 548.8V587.2M1417.2 587.2H1429.2M1427.6 526.3V562.4M1421.6 562.4H1433.6M1432.0 534.4V578.4M1426.0 578.4H1438.0M1436.4 542.9V585.7M1430.4 585.7H1442.4M1440.8 546.8V595.9M1434.8 595.9H1446.8M1445.2 541.0V582.8M1439.2 582.8H1451.2M1449.6 545.1V587.9M1443.6 587.9H1455.6M1454.0 551.7V592.1M1448.0 592.1H1460.0" stroke="#000" stroke-width="1" fill="none"/>
<circle cx="794.00" cy="618.24" r="4.70" fill="#000"/>
<circle cx="798.40" cy="624.90" r="4.70" fill="#000"/>
<circle cx="802.80" cy="622.38" r="4.70" fill="#000"/>
<circle cx="807.20" cy="622.19" r="4.70" fill="#000"/>
<circle cx="811.60" cy="621.66" r="4.70" fill="#000"/>
<circle cx="816.00" cy="629.43" r="4.70" fill="#000"/>
<circle cx="820.40" cy="625.31" r="4.70" fill="#000"/>
<circle cx="824.80" cy="636.19" r="4.70" fill="#000"/>
<circle cx="829.20" cy="623.84" r="4.70" fill="#000"/>
<circle cx="833.60" cy="635.64" r="4.70" fill="#000"/>
<circle cx="838.00" cy="622.94" r="4.70" fill="#000"/>
<circle cx="842.40" cy="624.56" r="4.70" fill="#000"/>
<circle cx="846.80" cy="630.52" r="4.70" fill="#000"/>
<circle cx="851.20" cy="628.85" r="4.70" fill="#000"/>
<circle cx="855.60" cy="608.99" r="4.70" fill="#000"/>
<circle cx="860.00" cy="626.15" r="4.70" fill="#000"/>
<circle cx="864.40" cy="626.37" r="4.70" fill="#000"/>
<circle cx="868.80" cy="630.78" r="4.70" fill="#000"/>
<circle cx="873.20" cy="639.30" r="4.70" fill="#000"/>
<circle cx="877.60" cy="630.17" r="4.70" fill="#000"/>
<circle cx="882.00" cy="619.40" r="4.70" fill="#000"/>
<circle cx="886.40" cy="621.49" r="4.70" fill="#000"/>
<circle cx="890.80" cy="628.02" r="4.70" fill="#000"/>
<circle cx="895.20" cy="631.58" r="4.70" fill="#000"/>
<circle cx="899.60" cy="622.06" r="4.70" fill="#000"/>
<circle cx="904.00" cy="622.27" r="4.70" fill="#000"/>
<circle cx="908.40" cy="635.18" r="4.70" fill="#000"/>
<circle cx="912.80" cy="633.94" r="4.70" fill="#000"/>
<circle cx="917.20" cy="625.80" r="4.70" fill="#000"/>
<circle cx="921.60" cy="624.09" r="4.70" fill="#000"/>
<circle cx="934.80" cy="526.71" r="4.70" fill="#000"/>
<circle cx="939.20" cy="534.51" r="4.70" fill="#000"/>
<circle cx="943.60" cy="545.88" r="4.70" fill="#000"/>
<circle cx="948.00" cy="533.37" r="4.70" fill="#000"/>
<circle cx="952.40" cy="540.41" r="4.70" fill="#000"/>
<circle cx="956.80" cy="545.23" r="4.70" fill="#000"/>
<circle cx="961.20" cy="545.59" r="4.70" fill="#000"/>
<circle cx="965.60" cy="543.54" r="4.70" fill="#000"/>
<circle cx="970.00" cy="541.22" r="4.70" fill="#000"/>
<circle cx="974.40" cy="555.07" r="4.70" fill="#000"/>
<circle cx="978.80" cy="544.51" r="4.70" fill="#000"/>
<circle cx="983.20" cy="545.83" r="4.70" fill="#000"/>
<circle cx="987.60" cy="537.65" r="4.70" fill="#000"/>
<circle cx="992.00" cy="542.36" r="4.70" fill="#000"/>
<circle cx="996.40" cy="542.30" r="4.70" fill="#000"/>
<circle cx="1000.80" cy="546.27" r="4.70" fill="#000"/>
<circle cx="1005.20" cy="531.60" r="4.70" fill="#000"/>
<circle cx="1009.60" cy="548.60" r="4.70" fill="#000"/>
<circle cx="1014.00" cy="545.65" r="4.70" fill="#000"/>
<circle cx="1018.40" cy="547.29" r="4.70" fill="#000"/>
<circle cx="1022.80" cy="539.82" r="4.70" fill="#000"/>
<circle cx="1027.20" cy="544.87" r="4.70" fill="#000"/>
<circle cx="1031.60" cy="546.13" r="4.70" fill="#000"/>
<circle cx="1036.00" cy="546.93" r="4.70" fill="#000"/>
<circle cx="1040.40" cy="544.89" r="4.70" fill="#000"/>
<circle cx="1044.80" cy="545.02" r="4.70" fill="#000"/>
<circle cx="1049.20" cy="540.84" r="4.70" fill="#000"/>
<circle cx="1053.60" cy="545.51" r="4.70" fill="#000"/>
<circle cx="1058.00" cy="548.95" r="4.70" fill="#000"/>
<circle cx="1062.40" cy="540.41" r="4.70" fill="#000"/>
<circle cx="1066.80" cy="545.15" r="4.70" fill="#000"/>
<circle cx="1071.20" cy="543.17" r="4.70" fill="#000"/>
<circle cx="1075.60" cy="534.38" r="4.70" fill="#000"/>
<circle cx="1080.00" cy="554.58" r="4.70" fill="#000"/>
<circle cx="1084.40" cy="538.12" r="4.70" fill="#000"/>
<circle cx="1088.80" cy="550.70" r="4.70" fill="#000"/>
<circle cx="1093.20" cy="541.50" r="4.70" fill="#000"/>
<circle cx="1097.60" cy="551.86" r="4.70" fill="#000"/>
<circle cx="1102.00" cy="540.37" r="4.70" fill="#000"/>
<circle cx="1106.40" cy="545.58" r="4.70" fill="#000"/>
<circle cx="1110.80" cy="549.58" r="4.70" fill="#000"/>
<circle cx="1115.20" cy="537.64" r="4.70" fill="#000"/>
<circle cx="1119.60" cy="547.33" r="4.70" fill="#000"/>
<circle cx="1124.00" cy="544.41" r="4.70" fill="#000"/>
<circle cx="1128.40" cy="549.83" r="4.70" fill="#000"/>
<circle cx="1132.80" cy="538.83" r="4.70" fill="#000"/>
<circle cx="1137.20" cy="543.53" r="4.70" fill="#000"/>
<circle cx="1141.60" cy="547.50" r="4.70" fill="#000"/>
<circle cx="1146.00" cy="538.64" r="4.70" fill="#000"/>
<circle cx="1150.40" cy="546.27" r="4.70" fill="#000"/>
<circle cx="1154.80" cy="544.19" r="4.70" fill="#000"/>
<circle cx="1159.20" cy="548.64" r="4.70" fill="#000"/>
<circle cx="1163.60" cy="537.57" r="4.70" fill="#000"/>
<circle cx="1168.00" cy="536.51" r="4.70" fill="#000"/>
<circle cx="1172.40" cy="550.16" r="4.70" fill="#000"/>
<circle cx="1176.80" cy="546.11" r="4.70" fill="#000"/>
<circle cx="1181.20" cy="537.78" r="4.70" fill="#000"/>
<circle cx="1185.60" cy="537.19" r="4.70" fill="#000"/>
<circle cx="1190.00" cy="544.56" r="4.70" fill="#000"/>
<circle cx="1194.40" cy="540.93" r="4.70" fill="#000"/>
<circle cx="1198.80" cy="556.15" r="4.70" fill="#000"/>
<circle cx="1203.20" cy="549.48" r="4.70" fill="#000"/>
<circle cx="1207.60" cy="533.26" r="4.70" fill="#000"/>
<circle cx="1212.00" cy="550.28" r="4.70" fill="#000"/>
<circle cx="1216.40" cy="549.69" r="4.70" fill="#000"/>
<circle cx="1220.80" cy="545.93" r="4.70" fill="#000"/>
<circle cx="1225.20" cy="539.20" r="4.70" fill="#000"/>
<circle cx="1229.60" cy="542.36" r="4.70" fill="#000"/>
<circle cx="1234.00" cy="538.77" r="4.70" fill="#000"/>
<circle cx="1238.40" cy="546.18" r="4.70" fill="#000"/>
<circle cx="1242.80" cy="540.22" r="4.70" fill="#000"/>
<circle cx="1247.20" cy="542.27" r="4.70" fill="#000"/>
<circle cx="1251.60" cy="546.01" r="4.70" fill="#000"/>
<circle cx="1256.00" cy="535.70" r="4.70" fill="#000"/>
<circle cx="1260.40" cy="547.82" r="4.70" fill="#000"/>
<circle cx="1264.80" cy="553.55" r="4.70" fill="#000"/>
<circle cx="1269.20" cy="552.82" r="4.70" fill="#000"/>
<circle cx="1273.60" cy="555.56" r="4.70" fill="#000"/>
<circle cx="1278.00" cy="538.19" r="4.70" fill="#000"/>
<circle cx="1282.40" cy="551.89" r="4.70" fill="#000"/>
<circle cx="1286.80" cy="548.10" r="4.70" fill="#000"/>
<circle cx="1291.20" cy="547.43" r="4.70" fill="#000"/>
<circle cx="1295.60" cy="532.06" r="4.70" fill="#000"/>
<circle cx="1300.00" cy="539.11" r="4.70" fill="#000"/>
<circle cx="1304.40" cy="552.56" r="4.70" fill="#000"/>
<circle cx="1308.80" cy="547.78" r="4.70" fill="#000"/>
<circle cx="1313.20" cy="544.15" r="4.70" fill="#000"/>
<circle cx="1317.60" cy="543.70" r="4.70" fill="#000"/>
<circle cx="1322.00" cy="545.99" r="4.70" fill="#000"/>
<circle cx="1326.40" cy="547.54" r="4.70" fill="#000"/>
<circle cx="1330.80" cy="541.84" r="4.70" fill="#000"/>
<circle cx="1335.20" cy="535.89" r="4.70" fill="#000"/>
<circle cx="1339.60" cy="538.66" r="4.70" fill="#000"/>
<circle cx="1344.00" cy="543.12" r="4.70" fill="#000"/>
<circle cx="1348.40" cy="537.26" r="4.70" fill="#000"/>
<circle cx="1352.80" cy="542.69" r="4.70" fill="#000"/>
<circle cx="1357.20" cy="544.38" r="4.70" fill="#000"/>
<circle cx="1361.60" cy="542.31" r="4.70" fill="#000"/>
<circle cx="1366.00" cy="545.28" r="4.70" fill="#000"/>
<circle cx="1370.40" cy="545.47" r="4.70" fill="#000"/>
<circle cx="1374.80" cy="549.83" r="4.70" fill="#000"/>
<circle cx="1379.20" cy="537.42" r="4.70" fill="#000"/>
<circle cx="1383.60" cy="550.53" r="4.70" fill="#000"/>
<circle cx="1388.00" cy="546.72" r="4.70" fill="#000"/>
<circle cx="1392.40" cy="538.49" r="4.70" fill="#000"/>
<circle cx="1396.80" cy="539.74" r="4.70" fill="#000"/>
<circle cx="1401.20" cy="546.61" r="4.70" fill="#000"/>
<circle cx="1405.60" cy="543.86" r="4.70" fill="#000"/>
<circle cx="1410.00" cy="557.79" r="4.70" fill="#000"/>
<circle cx="1414.40" cy="540.84" r="4.70" fill="#000"/>
<circle cx="1418.80" cy="546.95" r="4.70" fill="#000"/>
<circle cx="1423.20" cy="548.83" r="4.70" fill="#000"/>
<circle cx="1427.60" cy="526.27" r="4.70" fill="#000"/>
<circle cx="1432.00" cy="534.41" r="4.70" fill="#000"/>
<circle cx="1436.40" cy="542.93" r="4.70" fill="#000"/>
<circle cx="1440.80" cy="546.77" r="4.70" fill="#000"/>
<circle cx="1445.20" cy="541.04" r="4.70" fill="#000"/>
<circle cx="1449.60" cy="545.13" r="4.70" fill="#000"/>
<circle cx="1454.00" cy="551.71" r="4.70" fill="#000"/>

<circle cx="939.20" cy="550.79" r="4.70" fill="#000"/>
<circle cx="943.60" cy="551.17" r="4.70" fill="#000"/>
<circle cx="948.00" cy="555.63" r="4.70" fill="#000"/>
<circle cx="952.40" cy="567.99" r="4.70" fill="#000"/>
<circle cx="956.80" cy="564.89" r="4.70" fill="#000"/>
<circle cx="961.20" cy="563.18" r="4.70" fill="#000"/>
<circle cx="965.60" cy="572.75" r="4.70" fill="#000"/>
<circle cx="970.00" cy="574.59" r="4.70" fill="#000"/>
<circle cx="974.40" cy="565.35" r="4.70" fill="#000"/>
<circle cx="978.80" cy="566.79" r="4.70" fill="#000"/>
<circle cx="983.20" cy="565.63" r="4.70" fill="#000"/>
<circle cx="987.60" cy="565.89" r="4.70" fill="#000"/>
<circle cx="992.00" cy="558.67" r="4.70" fill="#000"/>
<circle cx="996.40" cy="558.27" r="4.70" fill="#000"/>
<circle cx="1000.80" cy="553.04" r="4.70" fill="#000"/>
<path d="M794.0 612.0V600.1M788.0 600.1H800.0M798.4 618.3V607.3M792.4 607.3H804.4M802.8 617.5V608.3M796.8 608.3H808.8M807.2 618.0V607.0M801.2 607.0H813.2M811.6 622.1V610.9M805.6 610.9H817.6M816.0 625.9V616.4M810.0 616.4H822.0M820.4 616.1V605.0M814.4 605.0H826.4M824.8 619.9V609.5M818.8 609.5H830.8M829.2 623.0V611.3M823.2 611.3H835.2M833.6 627.4V616.2M827.6 616.2H839.6M838.0 622.0V598.2M832.0 598.2H844.0M842.4 621.7V610.3M836.4 610.3H848.4M846.8 611.5V598.1M840.8 598.1H852.8M851.2 623.6V613.2M845.2 613.2H857.2M855.6 630.5V616.5M849.6 616.5H861.6M860.0 621.5V609.3M854.0 609.3H866.0M864.4 632.2V621.6M858.4 621.6H870.4M868.8 609.2V591.1M862.8 591.1H874.8M873.2 640.6V624.0M867.2 624.0H879.2M877.6 620.4V611.2M871.6 611.2H883.6M882.0 628.9V617.5M876.0 617.5H888.0M886.4 624.3V614.2M880.4 614.2H892.4M890.8 623.3V609.8M884.8 609.8H896.8M895.2 616.6V605.9M889.2 605.9H901.2M899.6 617.9V606.1M893.6 606.1H905.6M904.0 625.0V615.6M898.0 615.6H910.0M908.4 625.7V609.0M902.4 609.0H914.4M912.8 627.6V616.9M906.8 616.9H918.8M917.2 636.0V620.8M911.2 620.8H923.2M921.6 618.7V606.3M915.6 606.3H927.6M934.8 418.0V352.7M928.8 352.7H940.8M939.2 406.1V288.6M933.2 288.6H945.2M943.6 399.1V301.2M937.6 301.2H949.6M948.0 393.0V288.6M942.0 288.6H954.0M952.4 388.5V284.2M946.4 284.2H958.4M956.8 389.5V283.0M950.8 283.0H962.8M961.2 382.8V275.0M955.2 275.0H967.2M965.6 396.5V285.6M959.6 285.6H971.6M970.0 378.9V262.8M964.0 262.8H976.0M974.4 381.9V259.3M968.4 259.3H980.4M978.8 389.5V267.0M972.8 267.0H984.8M983.2 383.1V265.1M977.2 265.1H989.2M987.6 391.1V273.4M981.6 273.4H993.6M992.0 394.9V278.7M986.0 278.7H998.0M996.4 390.5V270.6M990.4 270.6H1002.4M1000.8 360.7V243.0M994.8 243.0H1006.8M1005.2 381.4V257.9M999.2 257.9H1011.2M1009.6 386.7V273.9M1003.6 273.9H1015.6M1014.0 384.0V280.6M1008.0 280.6H1020.0M1018.4 391.2V271.5M1012.4 271.5H1024.4M1022.8 374.5V262.0M1016.8 262.0H1028.8M1027.2 377.7V248.6M1021.2 248.6H1033.2M1031.6 375.5V271.8M1025.6 271.8H1037.6M1036.0 380.8V263.3M1030.0 263.3H1042.0M1040.4 381.5V266.0M1034.4 266.0H1046.4M1044.8 392.2V277.0M1038.8 277.0H1050.8M1049.2 378.6V257.6M1043.2 257.6H1055.2M1053.6 390.4V271.9M1047.6 271.9H1059.6M1058.0 383.0V263.5M1052.0 263.5H1064.0M1062.4 389.0V276.3M1056.4 276.3H1068.4M1066.8 393.7V279.8M1060.8 279.8H1072.8M1071.2 392.6V284.9M1065.2 284.9H1077.2M1075.6 398.4V277.4M1069.6 277.4H1081.6M1080.0 396.6V287.5M1074.0 287.5H1086.0M1084.4 389.7V265.6M1078.4 265.6H1090.4M1088.8 381.3V267.4M1082.8 267.4H1094.8M1093.2 396.4V283.2M1087.2 283.2H1099.2M1097.6 395.8V282.7M1091.6 282.7H1103.6M1102.0 386.8V276.5M1096.0 276.5H1108.0M1106.4 395.2V280.6M1100.4 280.6H1112.4M1110.8 390.4V278.6M1104.8 278.6H1116.8M1115.2 395.5V285.7M1109.2 285.7H1121.2M1119.6 395.4V276.6M1113.6 276.6H1125.6M1124.0 392.2V293.2M1118.0 293.2H1130.0M1128.4 386.7V271.2M1122.4 271.2H1134.4M1132.8 396.6V282.1M1126.8 282.1H1138.8M1137.2 410.9V304.1M1131.2 304.1H1143.2M1141.6 383.5V256.0M1135.6 256.0H1147.6M1146.0 377.0V265.2M1140.0 265.2H1152.0M1150.4 391.1V271.1M1144.4 271.1H1156.4M1154.8 399.6V274.3M1148.8 274.3H1160.8M1159.2 396.4V278.8M1153.2 278.8H1165.2M1163.6 399.4V281.7M1157.6 281.7H1169.6M1168.0 392.0V270.5M1162.0 270.5H1174.0M1172.4 399.7V284.1M1166.4 284.1H1178.4M1176.8 380.2V271.2M1170.8 271.2H1182.8M1181.2 390.0V272.0M1175.2 272.0H1187.2M1185.6 395.7V281.7M1179.6 281.7H1191.6M1190.0 383.3V261.5M1184.0 261.5H1196.0M1194.4 389.2V273.3M1188.4 273.3H1200.4M1198.8 400.7V286.9M1192.8 286.9H1204.8M1203.2 381.8V263.8M1197.2 263.8H1209.2M1207.6 402.9V303.2M1201.6 303.2H1213.6M1212.0 398.6V287.7M1206.0 287.7H1218.0M1216.4 398.2V291.0M1210.4 291.0H1222.4M1220.8 392.6V279.9M1214.8 279.9H1226.8M1225.2 393.8V280.3M1219.2 280.3H1231.2M1229.6 405.0V296.8M1223.6 296.8H1235.6M1234.0 393.1V296.8M1228.0 296.8H1240.0M1238.4 388.2V293.2M1232.4 293.2H1244.4M1242.8 406.5V288.9M1236.8 288.9H1248.8M1247.2 389.0V284.7M1241.2 284.7H1253.2M1251.6 389.1V281.4M1245.6 281.4H1257.6M1256.0 406.1V302.8M1250.0 302.8H1262.0M1260.4 389.9V290.9M1254.4 290.9H1266.4M1264.8 400.2V303.6M1258.8 303.6H1270.8M1269.2 397.3V302.0M1263.2 302.0H1275.2M1273.6 407.5V316.7M1267.6 316.7H1279.6M1278.0 411.2V313.2M1272.0 313.2H1284.0M1282.4 403.4V309.8M1276.4 309.8H1288.4M1286.8 414.9V318.5M1280.8 318.5H1292.8M1291.2 406.4V305.9M1285.2 305.9H1297.2M1295.6 412.9V322.8M1289.6 322.8H1301.6M1300.0 407.1V307.3M1294.0 307.3H1306.0M1304.4 411.6V321.9M1298.4 321.9H1310.4M1308.8 419.2V332.1M1302.8 332.1H1314.8M1313.2 408.3V315.6M1307.2 315.6H1319.2M1317.6 408.8V331.0M1311.6 331.0H1323.6M1322.0 412.3V331.6M1316.0 331.6H1328.0M1326.4 410.6V338.7M1320.4 338.7H1332.4M1330.8 411.8V332.6M1324.8 332.6H1336.8M1335.2 402.3V318.4M1329.2 318.4H1341.2M1339.6 406.2V326.4M1333.6 326.4H1345.6M1344.0 405.9V327.0M1338.0 327.0H1350.0M1348.4 411.1V333.3M1342.4 333.3H1354.4M1352.8 435.0V350.4M1346.8 350.4H1358.8M1357.2 435.9V357.5M1351.2 357.5H1363.2M1361.6 441.7V365.7M1355.6 365.7H1367.6M1366.0 431.4V358.3M1360.0 358.3H1372.0M1370.4 429.0V365.2M1364.4 365.2H1376.4M1374.8 425.1V351.3M1368.8 351.3H1380.8M1379.2 423.8V350.0M1373.2 350.0H1385.2M1383.6 440.4V367.7M1377.6 367.7H1389.6M1388.0 436.7V358.6M1382.0 358.6H1394.0M1392.4 444.1V374.1M1386.4 374.1H1398.4M1396.8 439.2V360.7M1390.8 360.7H1402.8M1401.2 454.8V387.2M1395.2 387.2H1407.2M1405.6 448.8V366.2M1399.6 366.2H1411.6M1410.0 437.2V360.1M1404.0 360.1H1416.0M1414.4 442.6V376.5M1408.4 376.5H1420.4M1418.8 439.0V369.3M1412.8 369.3H1424.8M1423.2 452.3V369.6M1417.2 369.6H1429.2M1427.6 457.3V377.8M1421.6 377.8H1433.6M1432.0 445.9V379.5M1426.0 379.5H1438.0M1436.4 445.7V379.1M1430.4 379.1H1442.4M1440.8 445.2V377.8M1434.8 377.8H1446.8M1445.2 454.0V368.4M1439.2 368.4H1451.2M1449.6 449.1V373.0M1443.6 373.0H1455.6M1454.0 445.7V371.5M1448.0 371.5H1460.0M934.4 500.4V443.2M928.4 443.2H940.4" stroke="#000" stroke-width="1" fill="none"/>
<polygon points="787.90,607.05 800.10,607.05 794.00,618.05" fill="#000"/>
<polygon points="792.30,613.35 804.50,613.35 798.40,624.35" fill="#000"/>
<polygon points="796.70,612.54 808.90,612.54 802.80,623.54" fill="#000"/>
<polygon points="801.10,613.09 813.30,613.09 807.20,624.09" fill="#000"/>
<polygon points="805.50,617.20 817.70,617.20 811.60,628.20" fill="#000"/>
<polygon points="809.90,620.93 822.10,620.93 816.00,631.93" fill="#000"/>
<polygon points="814.30,611.15 826.50,611.15 820.40,622.15" fill="#000"/>
<polygon points="818.70,614.92 830.90,614.92 824.80,625.92" fill="#000"/>
<polygon points="823.10,618.07 835.30,618.07 829.20,629.07" fill="#000"/>
<polygon points="827.50,622.47 839.70,622.47 833.60,633.47" fill="#000"/>
<polygon points="831.90,617.03 844.10,617.03 838.00,628.03" fill="#000"/>
<polygon points="836.30,616.76 848.50,616.76 842.40,627.76" fill="#000"/>
<polygon points="840.70,606.53 852.90,606.53 846.80,617.53" fill="#000"/>
<polygon points="845.10,618.62 857.30,618.62 851.20,629.62" fill="#000"/>
<polygon points="849.50,625.59 861.70,625.59 855.60,636.59" fill="#000"/>
<polygon points="853.90,616.52 866.10,616.52 860.00,627.52" fill="#000"/>
<polygon points="858.30,627.25 870.50,627.25 864.40,638.25" fill="#000"/>
<polygon points="862.70,604.28 874.90,604.28 868.80,615.28" fill="#000"/>
<polygon points="867.10,635.70 879.30,635.70 873.20,646.70" fill="#000"/>
<polygon points="871.50,615.47 883.70,615.47 877.60,626.47" fill="#000"/>
<polygon points="875.90,623.99 888.10,623.99 882.00,634.99" fill="#000"/>
<polygon points="880.30,619.35 892.50,619.35 886.40,630.35" fill="#000"/>
<polygon points="884.70,618.35 896.90,618.35 890.80,629.35" fill="#000"/>
<polygon points="889.10,611.65 901.30,611.65 895.20,622.65" fill="#000"/>
<polygon points="893.50,612.93 905.70,612.93 899.60,623.93" fill="#000"/>
<polygon points="897.90,620.09 910.10,620.09 904.00,631.09" fill="#000"/>
<polygon points="902.30,620.73 914.50,620.73 908.40,631.73" fill="#000"/>
<polygon points="906.70,622.62 918.90,622.62 912.80,633.62" fill="#000"/>
<polygon points="911.10,631.05 923.30,631.05 917.20,642.05" fill="#000"/>
<polygon points="915.50,613.72 927.70,613.72 921.60,624.72" fill="#000"/>
<polygon points="928.70,413.01 940.90,413.01 934.80,424.01" fill="#000"/>
<polygon points="933.10,401.12 945.30,401.12 939.20,412.12" fill="#000"/>
<polygon points="937.50,394.10 949.70,394.10 943.60,405.10" fill="#000"/>
<polygon points="941.90,388.07 954.10,388.07 948.00,399.07" fill="#000"/>
<polygon points="946.30,383.58 958.50,383.58 952.40,394.58" fill="#000"/>
<polygon points="950.70,384.57 962.90,384.57 956.80,395.57" fill="#000"/>
<polygon points="955.10,377.84 967.30,377.84 961.20,388.84" fill="#000"/>
<polygon points="959.50,391.53 971.70,391.53 965.60,402.53" fill="#000"/>
<polygon points="963.90,373.98 976.10,373.98 970.00,384.98" fill="#000"/>
<polygon points="968.30,376.94 980.50,376.94 974.40,387.94" fill="#000"/>
<polygon points="972.70,384.58 984.90,384.58 978.80,395.58" fill="#000"/>
<polygon points="977.10,378.12 989.30,378.12 983.20,389.12" fill="#000"/>
<polygon points="981.50,386.12 993.70,386.12 987.60,397.12" fill="#000"/>
<polygon points="985.90,390.00 998.10,390.00 992.00,401.00" fill="#000"/>
<polygon points="990.30,385.58 1002.50,385.58 996.40,396.58" fill="#000"/>
<polygon points="994.70,355.75 1006.90,355.75 1000.80,366.75" fill="#000"/>
<polygon points="999.10,376.45 1011.30,376.45 1005.20,387.45" fill="#000"/>
<polygon points="1003.50,381.78 1015.70,381.78 1009.60,392.78" fill="#000"/>
<polygon points="1007.90,379.05 1020.10,379.05 1014.00,390.05" fill="#000"/>
<polygon points="1012.30,386.27 1024.50,386.27 1018.40,397.27" fill="#000"/>
<polygon points="1016.70,369.58 1028.90,369.58 1022.80,380.58" fill="#000"/>
<polygon points="1021.10,372.79 1033.30,372.79 1027.20,383.79" fill="#000"/>
<polygon points="1025.50,370.60 1037.70,370.60 1031.60,381.60" fill="#000"/>
<polygon points="1029.90,375.83 1042.10,375.83 1036.00,386.83" fill="#000"/>
<polygon points="1034.30,376.52 1046.50,376.52 1040.40,387.52" fill="#000"/>
<polygon points="1038.70,387.27 1050.90,387.27 1044.80,398.27" fill="#000"/>
<polygon points="1043.10,373.61 1055.30,373.61 1049.20,384.61" fill="#000"/>
<polygon points="1047.50,385.44 1059.70,385.44 1053.60,396.44" fill="#000"/>
<polygon points="1051.90,378.02 1064.10,378.02 1058.00,389.02" fill="#000"/>
<polygon points="1056.30,384.07 1068.50,384.07 1062.40,395.07" fill="#000"/>
<polygon points="1060.70,388.77 1072.90,388.77 1066.80,399.77" fill="#000"/>
<polygon points="1065.10,387.67 1077.30,387.67 1071.20,398.67" fill="#000"/>
<polygon points="1069.50,393.43 1081.70,393.43 1075.60,404.43" fill="#000"/>
<polygon points="1073.90,391.64 1086.10,391.64 1080.00,402.64" fill="#000"/>
<polygon points="1078.30,384.74 1090.50,384.74 1084.40,395.74" fill="#000"/>
<polygon points="1082.70,376.34 1094.90,376.34 1088.80,387.34" fill="#000"/>
<polygon points="1087.10,391.49 1099.30,391.49 1093.20,402.49" fill="#000"/>
<polygon points="1091.50,390.81 1103.70,390.81 1097.60,401.81" fill="#000"/>
<polygon points="1095.90,381.85 1108.10,381.85 1102.00,392.85" fill="#000"/>
<polygon points="1100.30,390.23 1112.50,390.23 1106.40,401.23" fill="#000"/>
<polygon points="1104.70,385.44 1116.90,385.44 1110.80,396.44" fill="#000"/>
<polygon points="1109.10,390.56 1121.30,390.56 1115.20,401.56" fill="#000"/>
<polygon points="1113.50,390.45 1125.70,390.45 1119.60,401.45" fill="#000"/>
<polygon points="1117.90,387.25 1130.10,387.25 1124.00,398.25" fill="#000"/>
<polygon points="1122.30,381.74 1134.50,381.74 1128.40,392.74" fill="#000"/>
<polygon points="1126.70,391.64 1138.90,391.64 1132.80,402.64" fill="#000"/>
<polygon points="1131.10,405.90 1143.30,405.90 1137.20,416.90" fill="#000"/>
<polygon points="1135.50,378.54 1147.70,378.54 1141.60,389.54" fill="#000"/>
<polygon points="1139.90,372.01 1152.10,372.01 1146.00,383.01" fill="#000"/>
<polygon points="1144.30,386.19 1156.50,386.19 1150.40,397.19" fill="#000"/>
<polygon points="1148.70,394.65 1160.90,394.65 1154.80,405.65" fill="#000"/>
<polygon points="1153.10,391.46 1165.30,391.46 1159.20,402.46" fill="#000"/>
<polygon points="1157.50,394.41 1169.70,394.41 1163.60,405.41" fill="#000"/>
<polygon points="1161.90,387.09 1174.10,387.09 1168.00,398.09" fill="#000"/>
<polygon points="1166.30,394.71 1178.50,394.71 1172.40,405.71" fill="#000"/>
<polygon points="1170.70,375.28 1182.90,375.28 1176.80,386.28" fill="#000"/>
<polygon points="1175.10,385.06 1187.30,385.06 1181.20,396.06" fill="#000"/>
<polygon points="1179.50,390.78 1191.70,390.78 1185.60,401.78" fill="#000"/>
<polygon points="1183.90,378.33 1196.10,378.33 1190.00,389.33" fill="#000"/>
<polygon points="1188.30,384.24 1200.50,384.24 1194.40,395.24" fill="#000"/>
<polygon points="1192.70,395.77 1204.90,395.77 1198.80,406.77" fill="#000"/>
<polygon points="1197.10,376.82 1209.30,376.82 1203.20,387.82" fill="#000"/>
<polygon points="1201.50,397.92 1213.70,397.92 1207.60,408.92" fill="#000"/>
<polygon points="1205.90,393.67 1218.10,393.67 1212.00,404.67" fill="#000"/>
<polygon points="1210.30,393.25 1222.50,393.25 1216.40,404.25" fill="#000"/>
<polygon points="1214.70,387.69 1226.90,387.69 1220.80,398.69" fill="#000"/>
<polygon points="1219.10,388.90 1231.30,388.90 1225.20,399.90" fill="#000"/>
<polygon points="1223.50,400.01 1235.70,400.01 1229.60,411.01" fill="#000"/>
<polygon points="1227.90,388.14 1240.10,388.14 1234.00,399.14" fill="#000"/>
<polygon points="1232.30,383.23 1244.50,383.23 1238.40,394.23" fill="#000"/>
<polygon points="1236.70,401.59 1248.90,401.59 1242.80,412.59" fill="#000"/>
<polygon points="1241.10,384.04 1253.30,384.04 1247.20,395.04" fill="#000"/>
<polygon points="1245.50,384.19 1257.70,384.19 1251.60,395.19" fill="#000"/>
<polygon points="1249.90,401.15 1262.10,401.15 1256.00,412.15" fill="#000"/>
<polygon points="1254.30,384.98 1266.50,384.98 1260.40,395.98" fill="#000"/>
<polygon points="1258.70,395.23 1270.90,395.23 1264.80,406.23" fill="#000"/>
<polygon points="1263.10,392.32 1275.30,392.32 1269.20,403.32" fill="#000"/>
<polygon points="1267.50,402.53 1279.70,402.53 1273.60,413.53" fill="#000"/>
<polygon points="1271.90,406.25 1284.10,406.25 1278.00,417.25" fill="#000"/>
<polygon points="1276.30,398.45 1288.50,398.45 1282.40,409.45" fill="#000"/>
<polygon points="1280.70,409.99 1292.90,409.99 1286.80,420.99" fill="#000"/>
<polygon points="1285.10,401.50 1297.30,401.50 1291.20,412.50" fill="#000"/>
<polygon points="1289.50,407.98 1301.70,407.98 1295.60,418.98" fill="#000"/>
<polygon points="1293.90,402.12 1306.10,402.12 1300.00,413.12" fill="#000"/>
<polygon points="1298.30,406.68 1310.50,406.68 1304.40,417.68" fill="#000"/>
<polygon points="1302.70,414.22 1314.90,414.22 1308.80,425.22" fill="#000"/>
<polygon points="1307.10,403.37 1319.30,403.37 1313.20,414.37" fill="#000"/>
<polygon points="1311.50,403.89 1323.70,403.89 1317.60,414.89" fill="#000"/>
<polygon points="1315.90,407.38 1328.10,407.38 1322.00,418.38" fill="#000"/>
<polygon points="1320.30,405.62 1332.50,405.62 1326.40,416.62" fill="#000"/>
<polygon points="1324.70,406.82 1336.90,406.82 1330.80,417.82" fill="#000"/>
<polygon points="1329.10,397.34 1341.30,397.34 1335.20,408.34" fill="#000"/>
<polygon points="1333.50,401.28 1345.70,401.28 1339.60,412.28" fill="#000"/>
<polygon points="1337.90,400.97 1350.10,400.97 1344.00,411.97" fill="#000"/>
<polygon points="1342.30,406.20 1354.50,406.20 1348.40,417.20" fill="#000"/>
<polygon points="1346.70,430.10 1358.90,430.10 1352.80,441.10" fill="#000"/>
<polygon points="1351.10,431.00 1363.30,431.00 1357.20,442.00" fill="#000"/>
<polygon points="1355.50,436.74 1367.70,436.74 1361.60,447.74" fill="#000"/>
<polygon points="1359.90,426.48 1372.10,426.48 1366.00,437.48" fill="#000"/>
<polygon points="1364.30,424.09 1376.50,424.09 1370.40,435.09" fill="#000"/>
<polygon points="1368.70,420.20 1380.90,420.20 1374.80,431.20" fill="#000"/>
<polygon points="1373.10,418.82 1385.30,418.82 1379.20,429.82" fill="#000"/>
<polygon points="1377.50,435.46 1389.70,435.46 1383.60,446.46" fill="#000"/>
<polygon points="1381.90,431.72 1394.10,431.72 1388.00,442.72" fill="#000"/>
<polygon points="1386.30,439.12 1398.50,439.12 1392.40,450.12" fill="#000"/>
<polygon points="1390.70,434.26 1402.90,434.26 1396.80,445.26" fill="#000"/>
<polygon points="1395.10,449.87 1407.30,449.87 1401.20,460.87" fill="#000"/>
<polygon points="1399.50,443.82 1411.70,443.82 1405.60,454.82" fill="#000"/>
<polygon points="1403.90,432.23 1416.10,432.23 1410.00,443.23" fill="#000"/>
<polygon points="1408.30,437.69 1420.50,437.69 1414.40,448.69" fill="#000"/>
<polygon points="1412.70,434.05 1424.90,434.05 1418.80,445.05" fill="#000"/>
<polygon points="1417.10,447.39 1429.30,447.39 1423.20,458.39" fill="#000"/>
<polygon points="1421.50,452.31 1433.70,452.31 1427.60,463.31" fill="#000"/>
<polygon points="1425.90,440.92 1438.10,440.92 1432.00,451.92" fill="#000"/>
<polygon points="1430.30,440.71 1442.50,440.71 1436.40,451.71" fill="#000"/>
<polygon points="1434.70,440.29 1446.90,440.29 1440.80,451.29" fill="#000"/>
<polygon points="1439.10,449.10 1451.30,449.10 1445.20,460.10" fill="#000"/>
<polygon points="1443.50,444.16 1455.70,444.16 1449.60,455.16" fill="#000"/>
<polygon points="1447.90,440.76 1460.10,440.76 1454.00,451.76" fill="#000"/>
<polygon points="924.30,507.55 936.50,507.55 930.40,518.55" fill="#000"/>
<polygon points="928.26,495.45 940.46,495.45 934.36,506.45" fill="#000"/>
<polygon points="931.3,619.1 933.5,622.5 935.7,616.3 937.9,615.6 940.1,612.1 942.3,615.5 944.5,615.7 946.7,617.7 948.9,614.9 951.1,618.9 953.3,614.0 955.5,619.8 957.7,615.7 959.9,616.7 962.1,618.2 964.3,616.8 966.5,617.5 968.7,615.1 968.7,633.1 966.5,630.3 964.3,634.5 962.1,631.1 959.9,629.4 957.7,629.5 955.5,631.5 953.3,633.2 951.1,633.0 948.9,634.9 946.7,631.9 944.5,633.2 942.3,632.2 940.1,632.9 937.9,632.3 935.7,635.3 933.5,631.8 931.3,635.2" fill="#000" fill-opacity="0.72"/>
<polygon points="794.0,614.5 796.2,615.3 798.4,616.9 800.6,618.0 802.8,619.7 805.0,618.0 807.2,616.3 809.4,619.8 811.6,620.0 813.8,620.3 816.0,619.8 818.2,617.7 820.4,623.8 822.6,619.4 824.8,616.3 827.0,623.1 829.2,617.5 831.4,619.6 833.6,614.4 835.8,623.3 838.0,619.4 840.2,619.3 842.4,617.0 844.6,618.0 846.8,624.1 849.0,621.4 851.2,620.6 853.4,619.6 855.6,622.5 857.8,619.3 860.0,620.8 862.2,620.2 864.4,620.1 866.6,620.3 868.8,621.9 871.0,620.1 873.2,619.7 875.4,620.8 877.6,623.4 879.8,620.6 882.0,620.7 884.2,623.7 886.4,618.3 888.6,619.0 890.8,622.2 893.0,617.9 895.2,620.7 897.4,620.0 899.6,618.6 901.8,622.5 904.0,622.0 906.2,617.1 908.4,617.1 910.6,622.0 912.8,616.6 915.0,623.4 917.2,619.0 919.4,619.4 921.6,621.9 923.8,620.7 926.0,621.8 926.0,632.6 923.8,629.1 921.6,632.9 919.4,637.4 917.2,629.8 915.0,629.4 912.8,632.2 910.6,634.7 908.4,632.2 906.2,627.8 904.0,634.1 901.8,632.0 899.6,632.8 897.4,633.7 895.2,632.9 893.0,637.7 890.8,635.3 888.6,636.7 886.4,635.9 884.2,636.8 882.0,639.6 879.8,634.9 877.6,633.1 875.4,635.5 873.2,637.3 871.0,636.8 868.8,635.2 866.6,637.3 864.4,632.5 862.2,630.8 860.0,636.8 857.8,636.5 855.6,635.8 853.4,634.2 851.2,635.3 849.0,638.4 846.8,630.8 844.6,636.2 842.4,634.9 840.2,630.0 838.0,632.4 835.8,631.8 833.6,636.7 831.4,635.9 829.2,633.2 827.0,632.8 824.8,634.8 822.6,632.2 820.4,634.9 818.2,630.8 816.0,636.9 813.8,631.7 811.6,633.5 809.4,633.5 807.2,636.3 805.0,633.5 802.8,634.5 800.6,633.5 798.4,635.5 796.2,632.9 794.0,631.5" fill="#000"/>
<polygon points="970.0,623.7 972.2,624.8 974.4,627.1 976.6,620.7 978.8,621.5 981.0,620.2 983.2,616.2 985.4,614.6 987.6,615.6 989.8,611.9 992.0,616.9 994.2,613.7 996.4,609.2 998.6,615.9 1000.8,611.8 1003.0,614.8 1005.2,610.6 1007.4,613.6 1009.6,612.9 1011.8,618.3 1014.0,613.7 1016.2,611.5 1018.4,611.8 1020.6,611.5 1022.8,612.1 1025.0,612.4 1027.2,615.6 1029.4,612.4 1031.6,616.0 1033.8,615.6 1036.0,614.6 1038.2,615.9 1040.4,610.9 1042.6,615.2 1044.8,612.9 1047.0,612.1 1049.2,613.4 1051.4,616.9 1053.6,616.0 1055.8,614.6 1058.0,615.8 1060.2,610.8 1062.4,614.1 1064.6,616.0 1066.8,613.7 1069.0,616.0 1071.2,615.8 1073.4,616.4 1075.6,612.3 1077.8,615.6 1080.0,617.8 1082.2,617.8 1084.4,616.8 1086.6,615.9 1088.8,610.7 1091.0,616.6 1093.2,614.5 1095.4,615.3 1097.6,613.3 1099.8,613.1 1102.0,613.1 1104.2,612.3 1106.4,615.9 1108.6,618.3 1110.8,616.7 1113.0,617.7 1115.2,619.1 1117.4,616.7 1119.6,613.2 1121.8,612.0 1124.0,612.6 1126.2,612.4 1128.4,615.9 1130.6,615.8 1132.8,609.7 1135.0,611.7 1137.2,615.7 1139.4,615.6 1141.6,615.5 1143.8,615.2 1146.0,615.6 1148.2,615.8 1150.4,614.5 1152.6,615.4 1154.8,618.1 1157.0,615.2 1159.2,615.3 1161.4,615.4 1163.6,615.1 1165.8,617.3 1168.0,615.0 1170.2,614.9 1172.4,615.6 1174.6,613.7 1176.8,612.2 1179.0,617.4 1181.2,616.7 1183.4,619.1 1185.6,614.8 1187.8,617.0 1190.0,617.1 1192.2,615.6 1194.4,615.9 1196.6,615.0 1198.8,619.2 1201.0,615.1 1203.2,618.2 1205.4,615.6 1207.6,619.2 1209.8,615.2 1212.0,621.0 1214.2,617.2 1216.4,613.5 1218.6,614.9 1220.8,612.3 1223.0,615.6 1225.2,617.4 1227.4,610.7 1229.6,614.2 1231.8,612.8 1234.0,617.2 1236.2,612.1 1238.4,612.6 1240.6,610.8 1242.8,613.8 1245.0,613.5 1247.2,618.6 1249.4,618.0 1251.6,613.6 1253.8,613.8 1256.0,611.9 1258.2,613.9 1260.4,618.9 1262.6,614.6 1264.8,619.1 1267.0,612.1 1269.2,614.1 1271.4,617.4 1273.6,614.8 1275.8,615.2 1278.0,614.9 1280.2,616.0 1282.4,611.1 1284.6,616.7 1286.8,611.2 1289.0,612.7 1291.2,615.9 1293.4,613.0 1295.6,617.8 1297.8,616.2 1300.0,614.7 1302.2,610.3 1304.4,614.9 1306.6,614.9 1308.8,614.2 1311.0,613.6 1313.2,616.2 1315.4,618.2 1317.6,615.8 1319.8,614.7 1322.0,612.1 1324.2,616.7 1326.4,613.9 1328.6,616.3 1330.8,621.2 1333.0,614.8 1335.2,617.6 1337.4,610.7 1339.6,615.6 1341.8,617.8 1344.0,615.2 1346.2,612.4 1348.4,615.2 1350.6,611.7 1352.8,615.6 1355.0,615.3 1357.2,615.5 1359.4,615.2 1361.6,617.1 1363.8,615.1 1366.0,613.8 1368.2,617.6 1370.4,614.3 1372.6,615.2 1374.8,616.5 1377.0,617.4 1379.2,616.6 1381.4,616.1 1383.6,614.4 1385.8,617.3 1388.0,616.4 1390.2,616.3 1392.4,613.8 1394.6,613.4 1396.8,615.7 1399.0,615.9 1401.2,615.7 1403.4,612.9 1405.6,617.6 1407.8,614.4 1410.0,615.4 1412.2,616.1 1414.4,615.5 1416.6,617.3 1418.8,619.3 1421.0,611.1 1423.2,615.9 1425.4,617.6 1427.6,615.7 1429.8,611.7 1432.0,615.9 1434.2,614.4 1436.4,619.3 1438.6,616.5 1440.8,619.5 1443.0,619.8 1445.2,617.2 1447.4,617.6 1449.6,611.0 1451.8,615.5 1454.0,612.7 1454.0,635.0 1451.8,633.4 1449.6,628.7 1447.4,631.1 1445.2,630.5 1443.0,630.8 1440.8,632.2 1438.6,632.8 1436.4,626.4 1434.2,629.3 1432.0,630.7 1429.8,633.3 1427.6,632.3 1425.4,633.8 1423.2,636.2 1421.0,633.5 1418.8,631.4 1416.6,629.3 1414.4,630.7 1412.2,632.1 1410.0,629.4 1407.8,634.3 1405.6,629.0 1403.4,632.8 1401.2,631.5 1399.0,628.6 1396.8,633.3 1394.6,636.1 1392.4,632.8 1390.2,628.4 1388.0,629.4 1385.8,632.3 1383.6,631.4 1381.4,631.5 1379.2,637.5 1377.0,630.2 1374.8,627.2 1372.6,629.7 1370.4,633.0 1368.2,633.5 1366.0,628.9 1363.8,631.9 1361.6,634.1 1359.4,632.6 1357.2,629.4 1355.0,629.2 1352.8,632.4 1350.6,634.3 1348.4,630.3 1346.2,630.9 1344.0,629.4 1341.8,629.8 1339.6,630.9 1337.4,630.5 1335.2,629.1 1333.0,629.6 1330.8,633.9 1328.6,629.4 1326.4,632.7 1324.2,629.9 1322.0,628.7 1319.8,632.3 1317.6,630.8 1315.4,630.1 1313.2,630.8 1311.0,633.7 1308.8,629.0 1306.6,631.4 1304.4,631.3 1302.2,629.7 1300.0,631.7 1297.8,631.7 1295.6,628.6 1293.4,628.3 1291.2,628.7 1289.0,629.6 1286.8,628.7 1284.6,633.7 1282.4,626.0 1280.2,629.6 1278.0,629.8 1275.8,631.5 1273.6,628.3 1271.4,634.9 1269.2,633.9 1267.0,632.2 1264.8,632.9 1262.6,629.9 1260.4,631.7 1258.2,625.2 1256.0,632.3 1253.8,636.5 1251.6,630.8 1249.4,627.5 1247.2,630.1 1245.0,631.3 1242.8,631.4 1240.6,630.2 1238.4,630.9 1236.2,631.0 1234.0,630.5 1231.8,630.4 1229.6,630.8 1227.4,630.2 1225.2,630.3 1223.0,631.9 1220.8,632.7 1218.6,631.0 1216.4,627.0 1214.2,631.8 1212.0,629.6 1209.8,629.1 1207.6,629.9 1205.4,630.5 1203.2,633.6 1201.0,629.1 1198.8,630.1 1196.6,626.9 1194.4,629.6 1192.2,636.2 1190.0,629.8 1187.8,633.0 1185.6,633.5 1183.4,628.1 1181.2,627.4 1179.0,625.9 1176.8,625.1 1174.6,632.4 1172.4,629.4 1170.2,627.8 1168.0,633.4 1165.8,631.5 1163.6,631.3 1161.4,632.1 1159.2,632.6 1157.0,632.0 1154.8,631.5 1152.6,628.2 1150.4,627.3 1148.2,627.8 1146.0,631.0 1143.8,630.0 1141.6,628.7 1139.4,631.6 1137.2,629.7 1135.0,631.0 1132.8,626.5 1130.6,629.9 1128.4,632.4 1126.2,628.1 1124.0,633.0 1121.8,630.3 1119.6,633.0 1117.4,625.6 1115.2,630.2 1113.0,633.1 1110.8,630.8 1108.6,632.6 1106.4,627.7 1104.2,629.6 1102.0,630.9 1099.8,630.7 1097.6,628.7 1095.4,630.9 1093.2,632.1 1091.0,630.4 1088.8,630.7 1086.6,631.5 1084.4,627.1 1082.2,631.2 1080.0,626.4 1077.8,630.1 1075.6,631.3 1073.4,629.5 1071.2,630.1 1069.0,630.0 1066.8,626.8 1064.6,631.0 1062.4,632.9 1060.2,627.0 1058.0,631.9 1055.8,630.3 1053.6,631.9 1051.4,628.3 1049.2,635.9 1047.0,633.1 1044.8,632.8 1042.6,626.6 1040.4,631.8 1038.2,630.6 1036.0,630.8 1033.8,628.4 1031.6,632.5 1029.4,629.2 1027.2,632.5 1025.0,632.5 1022.8,629.2 1020.6,629.7 1018.4,628.8 1016.2,627.4 1014.0,633.2 1011.8,633.6 1009.6,632.6 1007.4,632.2 1005.2,630.8 1003.0,627.0 1000.8,634.3 998.6,629.7 996.4,634.8 994.2,632.2 992.0,629.4 989.8,631.6 987.6,627.1 985.4,630.0 983.2,628.2 981.0,631.6 978.8,629.1 976.6,628.4 974.4,627.8 972.2,631.0 970.0,628.2" fill="#000"/>
<path d="M794.0 626.5V620.3M788.0 620.3H800.0M794.0 626.5V651.0M788.0 651.0H800.0M798.4 630.4V623.0M792.4 623.0H804.4M798.4 630.4V642.7M792.4 642.7H804.4M802.8 622.5V613.9M796.8 613.9H808.8M802.8 622.5V644.7M796.8 644.7H808.8M807.2 623.6V616.7M801.2 616.7H813.2M807.2 623.6V639.4M801.2 639.4H813.2M811.6 622.8V616.8M805.6 616.8H817.6M811.6 622.8V636.5M805.6 636.5H817.6M816.0 622.4V615.0M810.0 615.0H822.0M816.0 622.4V641.7M810.0 641.7H822.0M820.4 634.1V626.5M814.4 626.5H826.4M820.4 634.1V645.6M814.4 645.6H826.4M824.8 626.5V618.1M818.8 618.1H830.8M824.8 626.5V638.1M818.8 638.1H830.8M829.2 619.3V611.2M823.2 611.2H835.2M829.2 619.3V632.1M823.2 632.1H835.2M833.6 626.2V617.4M827.6 617.4H839.6M833.6 626.2V640.7M827.6 640.7H839.6M838.0 619.8V612.2M832.0 612.2H844.0M838.0 619.8V636.0M832.0 636.0H844.0M842.4 625.4V615.3M836.4 615.3H848.4M842.4 625.4V637.0M836.4 637.0H848.4M846.8 616.5V607.6M840.8 607.6H852.8M846.8 616.5V629.6M840.8 629.6H852.8M851.2 641.2V632.5M845.2 632.5H857.2M851.2 641.2V655.3M845.2 655.3H857.2M855.6 627.6V611.9M849.6 611.9H861.6M855.6 627.6V641.9M849.6 641.9H861.6M860.0 626.3V616.7M854.0 616.7H866.0M860.0 626.3V642.5M854.0 642.5H866.0M864.4 629.1V621.6M858.4 621.6H870.4M864.4 629.1V653.4M858.4 653.4H870.4M868.8 630.2V622.0M862.8 622.0H874.8M868.8 630.2V646.2M862.8 646.2H874.8M873.2 627.6V616.6M867.2 616.6H879.2M873.2 627.6V644.2M867.2 644.2H879.2M877.6 629.7V618.4M871.6 618.4H883.6M877.6 629.7V642.1M871.6 642.1H883.6M882.0 625.3V618.3M876.0 618.3H888.0M882.0 625.3V639.4M876.0 639.4H888.0M886.4 623.5V614.1M880.4 614.1H892.4M886.4 623.5V643.5M880.4 643.5H892.4M890.8 641.2V635.1M884.8 635.1H896.8M890.8 641.2V657.6M884.8 657.6H896.8M895.2 622.5V610.9M889.2 610.9H901.2M895.2 622.5V641.7M889.2 641.7H901.2M899.6 627.9V617.8M893.6 617.8H905.6M899.6 627.9V645.6M893.6 645.6H905.6M904.0 624.2V617.0M898.0 617.0H910.0M904.0 624.2V635.6M898.0 635.6H910.0M908.4 630.4V620.0M902.4 620.0H914.4M908.4 630.4V642.0M902.4 642.0H914.4M912.8 621.0V613.9M906.8 613.9H918.8M912.8 621.0V634.3M906.8 634.3H918.8M917.2 631.7V625.0M911.2 625.0H923.2M917.2 631.7V647.1M911.2 647.1H923.2M921.6 652.2V665.4M915.6 665.4H927.6M934.8 609.3V608.5M928.8 608.5H940.8M934.8 609.3V621.0M928.8 621.0H940.8M939.2 600.9V578.9M933.2 578.9H945.2M939.2 600.9V612.6M933.2 612.6H945.2M943.6 595.0V579.3M937.6 579.3H949.6M943.6 595.0V610.0M937.6 610.0H949.6M948.0 595.2V582.8M942.0 582.8H954.0M948.0 595.2V603.9M942.0 603.9H954.0M952.4 576.4V560.4M946.4 560.4H958.4M952.4 576.4V592.5M946.4 592.5H958.4M956.8 586.2V571.5M950.8 571.5H962.8M956.8 586.2V602.6M950.8 602.6H962.8M961.2 593.9V576.5M955.2 576.5H967.2M961.2 593.9V607.4M955.2 607.4H967.2M965.6 598.3V593.9M959.6 593.9H971.6M965.6 598.3V606.8M959.6 606.8H971.6M970.0 603.2V569.6M964.0 569.6H976.0M970.0 603.2V617.4M964.0 617.4H976.0M974.4 585.4V580.5M968.4 580.5H980.4M974.4 585.4V595.8M968.4 595.8H980.4M978.8 604.2V601.2M972.8 601.2H984.8M978.8 604.2V621.5M972.8 621.5H984.8M983.2 603.1V586.5M977.2 586.5H989.2M983.2 603.1V611.0M977.2 611.0H989.2M987.6 594.3V584.6M981.6 584.6H993.6M987.6 594.3V610.6M981.6 610.6H993.6M992.0 602.7V599.7M986.0 599.7H998.0M992.0 602.7V621.5M986.0 621.5H998.0M996.4 607.4V598.7M990.4 598.7H1002.4M996.4 607.4V616.5M990.4 616.5H1002.4M1000.8 602.1V595.2M994.8 595.2H1006.8M1000.8 602.1V616.6M994.8 616.6H1006.8M1005.2 601.9V597.3M999.2 597.3H1011.2M1005.2 601.9V608.6M999.2 608.6H1011.2M1009.6 600.6V583.6M1003.6 583.6H1015.6M1009.6 600.6V617.0M1003.6 617.0H1015.6M1014.0 608.4V593.9M1008.0 593.9H1020.0M1014.0 608.4V623.4M1008.0 623.4H1020.0M1018.4 599.8V586.6M1012.4 586.6H1024.4M1018.4 599.8V611.5M1012.4 611.5H1024.4M1022.8 599.3V582.3M1016.8 582.3H1028.8M1022.8 599.3V610.2M1016.8 610.2H1028.8M1027.2 609.5V600.4M1021.2 600.4H1033.2M1027.2 609.5V623.6M1021.2 623.6H1033.2M1031.6 612.8V608.2M1025.6 608.2H1037.6M1031.6 612.8V628.8M1025.6 628.8H1037.6M1036.0 604.6V594.0M1030.0 594.0H1042.0M1036.0 604.6V612.0M1030.0 612.0H1042.0M1040.4 599.9V576.5M1034.4 576.5H1046.4M1040.4 599.9V612.2M1034.4 612.2H1046.4M1044.8 609.3V608.4M1038.8 608.4H1050.8M1044.8 609.3V626.7M1038.8 626.7H1050.8M1049.2 605.2V601.4M1043.2 601.4H1055.2M1049.2 605.2V624.0M1043.2 624.0H1055.2M1053.6 601.9V587.4M1047.6 587.4H1059.6M1053.6 601.9V607.0M1047.6 607.0H1059.6M1058.0 607.1V592.4M1052.0 592.4H1064.0M1058.0 607.1V614.7M1052.0 614.7H1064.0M1062.4 601.9V580.9M1056.4 580.9H1068.4M1062.4 601.9V619.8M1056.4 619.8H1068.4M1066.8 611.3V606.9M1060.8 606.9H1072.8M1066.8 611.3V628.9M1060.8 628.9H1072.8M1071.2 602.3V583.0M1065.2 583.0H1077.2M1071.2 602.3V621.1M1065.2 621.1H1077.2M1075.6 608.7V602.0M1069.6 602.0H1081.6M1075.6 608.7V613.4M1069.6 613.4H1081.6M1080.0 604.0V576.6M1074.0 576.6H1086.0M1080.0 604.0V615.1M1074.0 615.1H1086.0M1084.4 611.1V596.2M1078.4 596.2H1090.4M1084.4 611.1V626.0M1078.4 626.0H1090.4M1088.8 616.2V611.8M1082.8 611.8H1094.8M1088.8 616.2V624.3M1082.8 624.3H1094.8M1093.2 597.6V593.3M1087.2 593.3H1099.2M1093.2 597.6V614.8M1087.2 614.8H1099.2M1097.6 598.3V573.9M1091.6 573.9H1103.6M1097.6 598.3V618.1M1091.6 618.1H1103.6M1102.0 600.1V599.7M1096.0 599.7H1108.0M1102.0 600.1V611.7M1096.0 611.7H1108.0M1106.4 613.2V605.5M1100.4 605.5H1112.4M1106.4 613.2V638.5M1100.4 638.5H1112.4M1110.8 618.5V604.3M1104.8 604.3H1116.8M1110.8 618.5V626.0M1104.8 626.0H1116.8M1115.2 602.1V582.2M1109.2 582.2H1121.2M1115.2 602.1V612.9M1109.2 612.9H1121.2M1119.6 598.2V587.7M1113.6 587.7H1125.6M1119.6 598.2V617.4M1113.6 617.4H1125.6M1124.0 608.0V602.4M1118.0 602.4H1130.0M1124.0 608.0V619.4M1118.0 619.4H1130.0M1128.4 610.5V595.8M1122.4 595.8H1134.4M1128.4 610.5V624.3M1122.4 624.3H1134.4M1132.8 597.0V588.6M1126.8 588.6H1138.8M1132.8 597.0V608.0M1126.8 608.0H1138.8M1137.2 614.1V610.2M1131.2 610.2H1143.2M1137.2 614.1V620.6M1131.2 620.6H1143.2M1141.6 615.7V598.8M1135.6 598.8H1147.6M1141.6 615.7V629.2M1135.6 629.2H1147.6M1146.0 611.3V598.7M1140.0 598.7H1152.0M1146.0 611.3V629.5M1140.0 629.5H1152.0M1150.4 607.0V591.2M1144.4 591.2H1156.4M1150.4 607.0V617.7M1144.4 617.7H1156.4M1154.8 611.9V608.0M1148.8 608.0H1160.8M1154.8 611.9V624.7M1148.8 624.7H1160.8M1159.2 615.0V608.0M1153.2 608.0H1165.2M1159.2 615.0V627.4M1153.2 627.4H1165.2M1163.6 611.7V603.9M1157.6 603.9H1169.6M1163.6 611.7V622.6M1157.6 622.6H1169.6M1168.0 603.4V596.1M1162.0 596.1H1174.0M1168.0 603.4V611.9M1162.0 611.9H1174.0M1172.4 609.5V608.0M1166.4 608.0H1178.4M1172.4 609.5V617.8M1166.4 617.8H1178.4M1181.2 609.1V591.2M1175.2 591.2H1187.2M1181.2 609.1V614.5M1175.2 614.5H1187.2M1185.6 615.6V601.3M1179.6 601.3H1191.6M1185.6 615.6V619.6M1179.6 619.6H1191.6M1190.0 615.5V614.9M1184.0 614.9H1196.0M1190.0 615.5V627.8M1184.0 627.8H1196.0M1194.4 621.6V604.8M1188.4 604.8H1200.4M1194.4 621.6V634.1M1188.4 634.1H1200.4M1198.8 609.1V601.7M1192.8 601.7H1204.8M1198.8 609.1V612.5M1192.8 612.5H1204.8M1203.2 611.6V624.9M1197.2 624.9H1209.2M1207.6 615.5V608.1M1201.6 608.1H1213.6M1207.6 615.5V627.8M1201.6 627.8H1213.6M1212.0 606.6V590.8M1206.0 590.8H1218.0M1212.0 606.6V615.2M1206.0 615.2H1218.0M1216.4 611.0V589.9M1210.4 589.9H1222.4M1216.4 611.0V626.5M1210.4 626.5H1222.4M1220.8 614.9V606.0M1214.8 606.0H1226.8M1220.8 614.9V626.5M1214.8 626.5H1226.8M1225.2 605.8V595.6M1219.2 595.6H1231.2M1225.2 605.8V620.7M1219.2 620.7H1231.2M1229.6 598.8V607.3M1223.6 607.3H1235.6M1234.0 620.6V637.7M1228.0 637.7H1240.0M1238.4 609.5V587.0M1232.4 587.0H1244.4M1238.4 609.5V613.5M1232.4 613.5H1244.4M1242.8 615.9V594.9M1236.8 594.9H1248.8M1242.8 615.9V633.9M1236.8 633.9H1248.8M1247.2 606.3V589.6M1241.2 589.6H1253.2M1247.2 606.3V619.6M1241.2 619.6H1253.2M1251.6 611.2V601.1M1245.6 601.1H1257.6M1251.6 611.2V628.3M1245.6 628.3H1257.6M1256.0 612.1V599.7M1250.0 599.7H1262.0M1256.0 612.1V632.0M1250.0 632.0H1262.0M1260.4 617.4V613.3M1254.4 613.3H1266.4M1260.4 617.4V633.2M1254.4 633.2H1266.4M1264.8 612.7V604.0M1258.8 604.0H1270.8M1264.8 612.7V635.6M1258.8 635.6H1270.8M1269.2 609.0V602.3M1263.2 602.3H1275.2M1269.2 609.0V627.3M1263.2 627.3H1275.2M1273.6 597.5V596.1M1267.6 596.1H1279.6M1273.6 597.5V607.6M1267.6 607.6H1279.6M1278.0 610.7V605.7M1272.0 605.7H1284.0M1278.0 610.7V633.9M1272.0 633.9H1284.0M1282.4 608.5V601.7M1276.4 601.7H1288.4M1282.4 608.5V623.9M1276.4 623.9H1288.4M1286.8 615.8V610.5M1280.8 610.5H1292.8M1286.8 615.8V629.5M1280.8 629.5H1292.8M1291.2 598.3V613.4M1285.2 613.4H1297.2M1295.6 604.0V588.4M1289.6 588.4H1301.6M1295.6 604.0V626.1M1289.6 626.1H1301.6M1300.0 609.0V598.0M1294.0 598.0H1306.0M1300.0 609.0V621.6M1294.0 621.6H1306.0M1304.4 616.2V593.8M1298.4 593.8H1310.4M1304.4 616.2V624.0M1298.4 624.0H1310.4M1308.8 612.2V606.4M1302.8 606.4H1314.8M1308.8 612.2V621.8M1302.8 621.8H1314.8M1313.2 623.8V616.9M1307.2 616.9H1319.2M1313.2 623.8V637.7M1307.2 637.7H1319.2M1317.6 610.8V594.4M1311.6 594.4H1323.6M1317.6 610.8V623.3M1311.6 623.3H1323.6M1322.0 615.2V602.9M1316.0 602.9H1328.0M1322.0 615.2V631.5M1316.0 631.5H1328.0M1326.4 616.7V625.1M1320.4 625.1H1332.4M1330.8 605.9V588.3M1324.8 588.3H1336.8M1330.8 605.9V615.0M1324.8 615.0H1336.8M1335.2 611.1V594.8M1329.2 594.8H1341.2M1335.2 611.1V630.5M1329.2 630.5H1341.2M1339.6 615.4V607.4M1333.6 607.4H1345.6M1339.6 615.4V635.1M1333.6 635.1H1345.6M1344.0 598.6V576.9M1338.0 576.9H1350.0M1344.0 598.6V606.5M1338.0 606.5H1350.0M1348.4 609.4V601.8M1342.4 601.8H1354.4M1348.4 609.4V622.3M1342.4 622.3H1354.4M1352.8 615.5V609.3M1346.8 609.3H1358.8M1352.8 615.5V628.7M1346.8 628.7H1358.8M1357.2 602.0V586.7M1351.2 586.7H1363.2M1357.2 602.0V617.2M1351.2 617.2H1363.2M1361.6 611.8V607.7M1355.6 607.7H1367.6M1361.6 611.8V623.9M1355.6 623.9H1367.6M1366.0 605.2V588.9M1360.0 588.9H1372.0M1366.0 605.2V627.4M1360.0 627.4H1372.0M1370.4 610.6V600.8M1364.4 600.8H1376.4M1370.4 610.6V616.3M1364.4 616.3H1376.4M1374.8 609.8V630.1M1368.8 630.1H1380.8M1379.2 615.5V605.6M1373.2 605.6H1385.2M1379.2 615.5V622.5M1373.2 622.5H1385.2M1383.6 614.8V612.1M1377.6 612.1H1389.6M1383.6 614.8V633.3M1377.6 633.3H1389.6M1388.0 610.8V610.0M1382.0 610.0H1394.0M1388.0 610.8V615.0M1382.0 615.0H1394.0M1392.4 612.5V606.4M1386.4 606.4H1398.4M1392.4 612.5V620.6M1386.4 620.6H1398.4M1396.8 608.9V600.5M1390.8 600.5H1402.8M1396.8 608.9V622.7M1390.8 622.7H1402.8M1401.2 615.5V610.0M1395.2 610.0H1407.2M1401.2 615.5V626.5M1395.2 626.5H1407.2M1405.6 621.1V606.3M1399.6 606.3H1411.6M1405.6 621.1V636.1M1399.6 636.1H1411.6M1410.0 621.8V611.1M1404.0 611.1H1416.0M1410.0 621.8V640.3M1404.0 640.3H1416.0M1414.4 611.0V591.1M1408.4 591.1H1420.4M1414.4 611.0V623.0M1408.4 623.0H1420.4M1418.8 612.3V621.4M1412.8 621.4H1424.8M1423.2 622.4V619.4M1417.2 619.4H1429.2M1423.2 622.4V636.7M1417.2 636.7H1429.2M1427.6 609.6V590.7M1421.6 590.7H1433.6M1427.6 609.6V623.4M1421.6 623.4H1433.6M1432.0 617.9V604.7M1426.0 604.7H1438.0M1432.0 617.9V630.4M1426.0 630.4H1438.0M1436.4 602.7V577.7M1430.4 577.7H1442.4M1436.4 602.7V620.3M1430.4 620.3H1442.4M1440.8 618.8V612.9M1434.8 612.9H1446.8M1440.8 618.8V632.8M1434.8 632.8H1446.8M1445.2 616.5V602.5M1439.2 602.5H1451.2M1445.2 616.5V632.8M1439.2 632.8H1451.2M1449.6 608.0V596.3M1443.6 596.3H1455.6M1449.6 608.0V617.1M1443.6 617.1H1455.6M1454.0 617.2V608.3M1448.0 608.3H1460.0M1454.0 617.2V636.6M1448.0 636.6H1460.0" stroke="#000" stroke-width="1" fill="none"/>
<polygon points="794.00,620.92 799.60,626.52 794.00,632.12 788.40,626.52" fill="#000"/>
<polygon points="798.40,624.76 804.00,630.36 798.40,635.96 792.80,630.36" fill="#000"/>
<polygon points="802.80,616.85 808.40,622.45 802.80,628.05 797.20,622.45" fill="#000"/>
<polygon points="807.20,618.00 812.80,623.60 807.20,629.20 801.60,623.60" fill="#000"/>
<polygon points="811.60,617.15 817.20,622.75 811.60,628.35 806.00,622.75" fill="#000"/>
<polygon points="816.00,616.77 821.60,622.37 816.00,627.97 810.40,622.37" fill="#000"/>
<polygon points="820.40,628.47 826.00,634.07 820.40,639.67 814.80,634.07" fill="#000"/>
<polygon points="824.80,620.86 830.40,626.46 824.80,632.06 819.20,626.46" fill="#000"/>
<polygon points="829.20,613.69 834.80,619.29 829.20,624.89 823.60,619.29" fill="#000"/>
<polygon points="833.60,620.63 839.20,626.23 833.60,631.83 828.00,626.23" fill="#000"/>
<polygon points="838.00,614.22 843.60,619.82 838.00,625.42 832.40,619.82" fill="#000"/>
<polygon points="842.40,619.83 848.00,625.43 842.40,631.03 836.80,625.43" fill="#000"/>
<polygon points="846.80,610.93 852.40,616.53 846.80,622.13 841.20,616.53" fill="#000"/>
<polygon points="851.20,635.59 856.80,641.19 851.20,646.79 845.60,641.19" fill="#000"/>
<polygon points="855.60,621.98 861.20,627.58 855.60,633.18 850.00,627.58" fill="#000"/>
<polygon points="860.00,620.68 865.60,626.28 860.00,631.88 854.40,626.28" fill="#000"/>
<polygon points="864.40,623.54 870.00,629.14 864.40,634.74 858.80,629.14" fill="#000"/>
<polygon points="868.80,624.62 874.40,630.22 868.80,635.82 863.20,630.22" fill="#000"/>
<polygon points="873.20,621.98 878.80,627.58 873.20,633.18 867.60,627.58" fill="#000"/>
<polygon points="877.60,624.12 883.20,629.72 877.60,635.32 872.00,629.72" fill="#000"/>
<polygon points="882.00,619.72 887.60,625.32 882.00,630.92 876.40,625.32" fill="#000"/>
<polygon points="886.40,617.89 892.00,623.49 886.40,629.09 880.80,623.49" fill="#000"/>
<polygon points="890.80,635.56 896.40,641.16 890.80,646.76 885.20,641.16" fill="#000"/>
<polygon points="895.20,616.89 900.80,622.49 895.20,628.09 889.60,622.49" fill="#000"/>
<polygon points="899.60,622.31 905.20,627.91 899.60,633.51 894.00,627.91" fill="#000"/>
<polygon points="904.00,618.61 909.60,624.21 904.00,629.81 898.40,624.21" fill="#000"/>
<polygon points="908.40,624.83 914.00,630.43 908.40,636.03 902.80,630.43" fill="#000"/>
<polygon points="912.80,615.37 918.40,620.97 912.80,626.57 907.20,620.97" fill="#000"/>
<polygon points="917.20,626.05 922.80,631.65 917.20,637.25 911.60,631.65" fill="#000"/>
<polygon points="921.60,646.60 927.20,652.20 921.60,657.80 916.00,652.20" fill="#000"/>
<polygon points="934.80,603.74 940.40,609.34 934.80,614.94 929.20,609.34" fill="#000"/>
<polygon points="939.20,595.34 944.80,600.94 939.20,606.54 933.60,600.94" fill="#000"/>
<polygon points="943.60,589.40 949.20,595.00 943.60,600.60 938.00,595.00" fill="#000"/>
<polygon points="948.00,589.62 953.60,595.22 948.00,600.82 942.40,595.22" fill="#000"/>
<polygon points="952.40,570.81 958.00,576.41 952.40,582.01 946.80,576.41" fill="#000"/>
<polygon points="956.80,580.60 962.40,586.20 956.80,591.80 951.20,586.20" fill="#000"/>
<polygon points="961.20,588.30 966.80,593.90 961.20,599.50 955.60,593.90" fill="#000"/>
<polygon points="965.60,592.70 971.20,598.30 965.60,603.90 960.00,598.30" fill="#000"/>
<polygon points="970.00,597.65 975.60,603.25 970.00,608.85 964.40,603.25" fill="#000"/>
<polygon points="974.40,579.83 980.00,585.43 974.40,591.03 968.80,585.43" fill="#000"/>
<polygon points="978.80,598.64 984.40,604.24 978.80,609.84 973.20,604.24" fill="#000"/>
<polygon points="983.20,597.49 988.80,603.09 983.20,608.69 977.60,603.09" fill="#000"/>
<polygon points="987.60,588.74 993.20,594.34 987.60,599.94 982.00,594.34" fill="#000"/>
<polygon points="992.00,597.12 997.60,602.72 992.00,608.32 986.40,602.72" fill="#000"/>
<polygon points="996.40,601.83 1002.00,607.43 996.40,613.03 990.80,607.43" fill="#000"/>
<polygon points="1000.80,596.53 1006.40,602.13 1000.80,607.73 995.20,602.13" fill="#000"/>
<polygon points="1005.20,596.30 1010.80,601.90 1005.20,607.50 999.60,601.90" fill="#000"/>
<polygon points="1009.60,595.00 1015.20,600.60 1009.60,606.20 1004.00,600.60" fill="#000"/>
<polygon points="1014.00,602.85 1019.60,608.45 1014.00,614.05 1008.40,608.45" fill="#000"/>
<polygon points="1018.40,594.16 1024.00,599.76 1018.40,605.36 1012.80,599.76" fill="#000"/>
<polygon points="1022.80,593.72 1028.40,599.32 1022.80,604.92 1017.20,599.32" fill="#000"/>
<polygon points="1027.20,603.92 1032.80,609.52 1027.20,615.12 1021.60,609.52" fill="#000"/>
<polygon points="1031.60,607.25 1037.20,612.85 1031.60,618.45 1026.00,612.85" fill="#000"/>
<polygon points="1036.00,599.03 1041.60,604.63 1036.00,610.23 1030.40,604.63" fill="#000"/>
<polygon points="1040.40,594.32 1046.00,599.92 1040.40,605.52 1034.80,599.92" fill="#000"/>
<polygon points="1044.80,603.74 1050.40,609.34 1044.80,614.94 1039.20,609.34" fill="#000"/>
<polygon points="1049.20,599.55 1054.80,605.15 1049.20,610.75 1043.60,605.15" fill="#000"/>
<polygon points="1053.60,596.33 1059.20,601.93 1053.60,607.53 1048.00,601.93" fill="#000"/>
<polygon points="1058.00,601.52 1063.60,607.12 1058.00,612.72 1052.40,607.12" fill="#000"/>
<polygon points="1062.40,596.25 1068.00,601.85 1062.40,607.45 1056.80,601.85" fill="#000"/>
<polygon points="1066.80,605.74 1072.40,611.34 1066.80,616.94 1061.20,611.34" fill="#000"/>
<polygon points="1071.20,596.72 1076.80,602.32 1071.20,607.92 1065.60,602.32" fill="#000"/>
<polygon points="1075.60,603.15 1081.20,608.75 1075.60,614.35 1070.00,608.75" fill="#000"/>
<polygon points="1080.00,598.42 1085.60,604.02 1080.00,609.62 1074.40,604.02" fill="#000"/>
<polygon points="1084.40,605.49 1090.00,611.09 1084.40,616.69 1078.80,611.09" fill="#000"/>
<polygon points="1088.80,610.55 1094.40,616.15 1088.80,621.75 1083.20,616.15" fill="#000"/>
<polygon points="1093.20,592.03 1098.80,597.63 1093.20,603.23 1087.60,597.63" fill="#000"/>
<polygon points="1097.60,592.74 1103.20,598.34 1097.60,603.94 1092.00,598.34" fill="#000"/>
<polygon points="1102.00,594.46 1107.60,600.06 1102.00,605.66 1096.40,600.06" fill="#000"/>
<polygon points="1106.40,607.57 1112.00,613.17 1106.40,618.77 1100.80,613.17" fill="#000"/>
<polygon points="1110.80,612.93 1116.40,618.53 1110.80,624.13 1105.20,618.53" fill="#000"/>
<polygon points="1115.20,596.47 1120.80,602.07 1115.20,607.67 1109.60,602.07" fill="#000"/>
<polygon points="1119.60,592.59 1125.20,598.19 1119.60,603.79 1114.00,598.19" fill="#000"/>
<polygon points="1124.00,602.40 1129.60,608.00 1124.00,613.60 1118.40,608.00" fill="#000"/>
<polygon points="1128.40,604.90 1134.00,610.50 1128.40,616.10 1122.80,610.50" fill="#000"/>
<polygon points="1132.80,591.41 1138.40,597.01 1132.80,602.61 1127.20,597.01" fill="#000"/>
<polygon points="1137.20,608.48 1142.80,614.08 1137.20,619.68 1131.60,614.08" fill="#000"/>
<polygon points="1141.60,610.08 1147.20,615.68 1141.60,621.28 1136.00,615.68" fill="#000"/>
<polygon points="1146.00,605.74 1151.60,611.34 1146.00,616.94 1140.40,611.34" fill="#000"/>
<polygon points="1150.40,601.45 1156.00,607.05 1150.40,612.65 1144.80,607.05" fill="#000"/>
<polygon points="1154.80,606.30 1160.40,611.90 1154.80,617.50 1149.20,611.90" fill="#000"/>
<polygon points="1159.20,609.39 1164.80,614.99 1159.20,620.59 1153.60,614.99" fill="#000"/>
<polygon points="1163.60,606.11 1169.20,611.71 1163.60,617.31 1158.00,611.71" fill="#000"/>
<polygon points="1168.00,597.75 1173.60,603.35 1168.00,608.95 1162.40,603.35" fill="#000"/>
<polygon points="1172.40,603.92 1178.00,609.52 1172.40,615.12 1166.80,609.52" fill="#000"/>
<polygon points="1176.80,604.56 1182.40,610.16 1176.80,615.76 1171.20,610.16" fill="#000"/>
<polygon points="1181.20,603.47 1186.80,609.07 1181.20,614.67 1175.60,609.07" fill="#000"/>
<polygon points="1185.60,610.02 1191.20,615.62 1185.60,621.22 1180.00,615.62" fill="#000"/>
<polygon points="1190.00,609.92 1195.60,615.52 1190.00,621.12 1184.40,615.52" fill="#000"/>
<polygon points="1194.40,616.00 1200.00,621.60 1194.40,627.20 1188.80,621.60" fill="#000"/>
<polygon points="1198.80,603.51 1204.40,609.11 1198.80,614.71 1193.20,609.11" fill="#000"/>
<polygon points="1203.20,606.05 1208.80,611.65 1203.20,617.25 1197.60,611.65" fill="#000"/>
<polygon points="1207.60,609.93 1213.20,615.53 1207.60,621.13 1202.00,615.53" fill="#000"/>
<polygon points="1212.00,601.02 1217.60,606.62 1212.00,612.22 1206.40,606.62" fill="#000"/>
<polygon points="1216.40,605.39 1222.00,610.99 1216.40,616.59 1210.80,610.99" fill="#000"/>
<polygon points="1220.80,609.35 1226.40,614.95 1220.80,620.55 1215.20,614.95" fill="#000"/>
<polygon points="1225.20,600.19 1230.80,605.79 1225.20,611.39 1219.60,605.79" fill="#000"/>
<polygon points="1229.60,593.23 1235.20,598.83 1229.60,604.43 1224.00,598.83" fill="#000"/>
<polygon points="1234.00,614.95 1239.60,620.55 1234.00,626.15 1228.40,620.55" fill="#000"/>
<polygon points="1238.40,603.85 1244.00,609.45 1238.40,615.05 1232.80,609.45" fill="#000"/>
<polygon points="1242.80,610.34 1248.40,615.94 1242.80,621.54 1237.20,615.94" fill="#000"/>
<polygon points="1247.20,600.66 1252.80,606.26 1247.20,611.86 1241.60,606.26" fill="#000"/>
<polygon points="1251.60,605.61 1257.20,611.21 1251.60,616.81 1246.00,611.21" fill="#000"/>
<polygon points="1256.00,606.48 1261.60,612.08 1256.00,617.68 1250.40,612.08" fill="#000"/>
<polygon points="1260.40,611.81 1266.00,617.41 1260.40,623.01 1254.80,617.41" fill="#000"/>
<polygon points="1264.80,607.10 1270.40,612.70 1264.80,618.30 1259.20,612.70" fill="#000"/>
<polygon points="1269.20,603.39 1274.80,608.99 1269.20,614.59 1263.60,608.99" fill="#000"/>
<polygon points="1273.60,591.86 1279.20,597.46 1273.60,603.06 1268.00,597.46" fill="#000"/>
<polygon points="1278.00,605.10 1283.60,610.70 1278.00,616.30 1272.40,610.70" fill="#000"/>
<polygon points="1282.40,602.88 1288.00,608.48 1282.40,614.08 1276.80,608.48" fill="#000"/>
<polygon points="1286.80,610.18 1292.40,615.78 1286.80,621.38 1281.20,615.78" fill="#000"/>
<polygon points="1291.20,592.70 1296.80,598.30 1291.20,603.90 1285.60,598.30" fill="#000"/>
<polygon points="1295.60,598.44 1301.20,604.04 1295.60,609.64 1290.00,604.04" fill="#000"/>
<polygon points="1300.00,603.42 1305.60,609.02 1300.00,614.62 1294.40,609.02" fill="#000"/>
<polygon points="1304.40,610.64 1310.00,616.24 1304.40,621.84 1298.80,616.24" fill="#000"/>
<polygon points="1308.80,606.64 1314.40,612.24 1308.80,617.84 1303.20,612.24" fill="#000"/>
<polygon points="1313.20,618.22 1318.80,623.82 1313.20,629.42 1307.60,623.82" fill="#000"/>
<polygon points="1317.60,605.24 1323.20,610.84 1317.60,616.44 1312.00,610.84" fill="#000"/>
<polygon points="1322.00,609.58 1327.60,615.18 1322.00,620.78 1316.40,615.18" fill="#000"/>
<polygon points="1326.40,611.06 1332.00,616.66 1326.40,622.26 1320.80,616.66" fill="#000"/>
<polygon points="1330.80,600.30 1336.40,605.90 1330.80,611.50 1325.20,605.90" fill="#000"/>
<polygon points="1335.20,605.54 1340.80,611.14 1335.20,616.74 1329.60,611.14" fill="#000"/>
<polygon points="1339.60,609.81 1345.20,615.41 1339.60,621.01 1334.00,615.41" fill="#000"/>
<polygon points="1344.00,592.95 1349.60,598.55 1344.00,604.15 1338.40,598.55" fill="#000"/>
<polygon points="1348.40,603.78 1354.00,609.38 1348.40,614.98 1342.80,609.38" fill="#000"/>
<polygon points="1352.80,609.92 1358.40,615.52 1352.80,621.12 1347.20,615.52" fill="#000"/>
<polygon points="1357.20,596.39 1362.80,601.99 1357.20,607.59 1351.60,601.99" fill="#000"/>
<polygon points="1361.60,606.19 1367.20,611.79 1361.60,617.39 1356.00,611.79" fill="#000"/>
<polygon points="1366.00,599.55 1371.60,605.15 1366.00,610.75 1360.40,605.15" fill="#000"/>
<polygon points="1370.40,604.97 1376.00,610.57 1370.40,616.17 1364.80,610.57" fill="#000"/>
<polygon points="1374.80,604.25 1380.40,609.85 1374.80,615.45 1369.20,609.85" fill="#000"/>
<polygon points="1379.20,609.93 1384.80,615.53 1379.20,621.13 1373.60,615.53" fill="#000"/>
<polygon points="1383.60,609.23 1389.20,614.83 1383.60,620.43 1378.00,614.83" fill="#000"/>
<polygon points="1388.00,605.16 1393.60,610.76 1388.00,616.36 1382.40,610.76" fill="#000"/>
<polygon points="1392.40,606.94 1398.00,612.54 1392.40,618.14 1386.80,612.54" fill="#000"/>
<polygon points="1396.80,603.35 1402.40,608.95 1396.80,614.55 1391.20,608.95" fill="#000"/>
<polygon points="1401.20,609.87 1406.80,615.47 1401.20,621.07 1395.60,615.47" fill="#000"/>
<polygon points="1405.60,615.47 1411.20,621.07 1405.60,626.67 1400.00,621.07" fill="#000"/>
<polygon points="1410.00,616.16 1415.60,621.76 1410.00,627.36 1404.40,621.76" fill="#000"/>
<polygon points="1414.40,605.41 1420.00,611.01 1414.40,616.61 1408.80,611.01" fill="#000"/>
<polygon points="1418.80,606.74 1424.40,612.34 1418.80,617.94 1413.20,612.34" fill="#000"/>
<polygon points="1423.20,616.81 1428.80,622.41 1423.20,628.01 1417.60,622.41" fill="#000"/>
<polygon points="1427.60,603.96 1433.20,609.56 1427.60,615.16 1422.00,609.56" fill="#000"/>
<polygon points="1432.00,612.29 1437.60,617.89 1432.00,623.49 1426.40,617.89" fill="#000"/>
<polygon points="1436.40,597.06 1442.00,602.66 1436.40,608.26 1430.80,602.66" fill="#000"/>
<polygon points="1440.80,613.16 1446.40,618.76 1440.80,624.36 1435.20,618.76" fill="#000"/>
<polygon points="1445.20,610.85 1450.80,616.45 1445.20,622.05 1439.60,616.45" fill="#000"/>
<polygon points="1449.60,602.36 1455.20,607.96 1449.60,613.56 1444.00,607.96" fill="#000"/>
<polygon points="1454.00,611.63 1459.60,617.23 1454.00,622.83 1448.40,617.23" fill="#000"/></g>
<path d="M1483.2 248.8 L1505.2 248.2 M1505.6 204 V250.4 M1508.2 204 V249 C1511 246 1514 244 1517.2 244.4 C1524 245 1528 255 1533 266 C1537 277 1541 292 1548 297 C1553 301 1560 300 1568 295 L1624 256" stroke="#777" stroke-width="1.6" fill="none" stroke-linejoin="round"/>
<path d="M1622.6 250.7 L1647.7 250 M1648 204 V252 M1650.6 204 V252 L1652 250 C1660 250 1668 251 1672 254 C1678 262 1680 276 1685 290 C1690 305 1695 318 1701 320.5 C1708 322 1716 310 1725 297 L1757 259.2" stroke="#777" stroke-width="1.6" fill="none" stroke-linejoin="round"/>
<path d="M1500.8 343.5 L1519.7 343.5 V410 M1522 410 V352 C1523 350 1525 348 1527 350 C1532 356 1536 366 1543 368 C1552 370 1560 360 1570 350 C1582 338 1594 330 1608.4 328.4" stroke="#333" stroke-width="1.6" fill="none" stroke-linejoin="round"/>
<path d="M1632.6 348.9 L1654.5 348.9 V424.4 M1657.5 424.4 V366 C1659 362 1661 360 1663.5 360 C1670 362 1674 378 1684 382.5 C1696 385 1708 372 1720 357 C1732 343 1742 333 1753 331.6" stroke="#333" stroke-width="1.6" fill="none" stroke-linejoin="round"/>
<path d="M1514.6 463 L1516.4 390 L1518.4 463" stroke="#666" stroke-width="1.5" fill="none" stroke-linejoin="round"/>
<path d="M1503 464.3 L1516 463.4 C1522 462 1526 465 1530 469 C1536 478 1542 495 1548.6 501 C1553 500 1560 488 1570 475 C1578 463 1584 456 1590 456.5 C1600 458 1606 461 1613.1 462.4" stroke="#333" stroke-width="1.6" fill="none" stroke-linejoin="round"/>
<path d="M1640.6 461.2 L1642.4 392.6 L1644.4 461.2" stroke="#666" stroke-width="1.5" fill="none" stroke-linejoin="round"/>
<path d="M1622.6 463.4 L1641.4 461.2 L1649.3 461.2 C1656 463 1661 472 1665 481 C1670 493 1675 508 1680.8 510.5 C1686 510 1694 494 1704 478 C1712 465 1718 455 1725 453 C1732 452 1736 454 1740.5 455.5" stroke="#333" stroke-width="1.6" fill="none" stroke-linejoin="round"/>
<path d="M1485.1 551.4 L1507.7 549.9 M1508 492.6 V550 M1509.6 492.6 V550 L1514 549.2 C1520 551 1527 560 1533 569 C1540 585 1545 600 1550.2 602.7 C1556 602 1565 586 1575 570 C1583 557 1590 549 1596 547 C1604 546 1610 548 1614.7 548.3" stroke="#888" stroke-width="1.6" fill="none" stroke-linejoin="round"/>
<path d="M1621 551.4 L1641.4 553 M1641.8 495.8 V553 M1643.6 495.8 V553 L1647.7 552.4 C1654 554 1660 562 1665 569 C1672 583 1678 600 1685.5 605.9 C1692 605 1702 590 1712 574 C1720 562 1727 555 1734.2 552.4 C1742 551 1748 551 1754.7 550.8" stroke="#888" stroke-width="1.6" fill="none" stroke-linejoin="round"/>
<path d="M1726.4 611.8 H1756.9 V581.3" stroke="#555" stroke-width="1.8" fill="none" stroke-linejoin="round"/>
<text x="2.59" y="24.80" font-size="30" font-weight="bold" fill="#000" textLength="586.20" lengthAdjust="spacingAndGlyphs" stroke="#000" stroke-width="1.05" stroke-linejoin="round">Object recognition task in APP/PS1 mice</text>
<text x="767.42" y="31.00" font-size="30.5" font-weight="bold" fill="#000" textLength="772.53" lengthAdjust="spacingAndGlyphs" stroke="#000" stroke-width="1.07" stroke-linejoin="round">LTP in area CA1 of the hippocampus in APP/PS1 mice</text>
<text x="5.90" y="63.70" font-size="33" font-weight="bold" fill="#000" textLength="24.04" lengthAdjust="spacingAndGlyphs" stroke="#000" stroke-width="1.16" stroke-linejoin="round">A</text>
<text x="4.95" y="301.00" font-size="33" font-weight="bold" fill="#000" textLength="22.02" lengthAdjust="spacingAndGlyphs" stroke="#000" stroke-width="1.16" stroke-linejoin="round">B</text>
<text x="337.16" y="300.90" font-size="33" font-weight="bold" fill="#000" textLength="22.31" lengthAdjust="spacingAndGlyphs" stroke="#000" stroke-width="1.16" stroke-linejoin="round">C</text>
<text x="4.08" y="547.90" font-size="33" font-weight="bold" fill="#000" textLength="22.92" lengthAdjust="spacingAndGlyphs" stroke="#000" stroke-width="1.16" stroke-linejoin="round">D</text>
<text x="335.97" y="548.20" font-size="33" font-weight="bold" fill="#000" textLength="20.16" lengthAdjust="spacingAndGlyphs" stroke="#000" stroke-width="1.16" stroke-linejoin="round">E</text>
<text x="722.24" y="112.50" font-size="33" font-weight="bold" fill="#000" textLength="18.73" lengthAdjust="spacingAndGlyphs" stroke="#000" stroke-width="1.16" stroke-linejoin="round">F</text>
<text x="48.60" y="246.60" font-size="13" font-weight="bold" fill="#000" textLength="6.82" lengthAdjust="spacingAndGlyphs" stroke="#000" stroke-width="0.46" stroke-linejoin="round">0</text>
<text x="41.60" y="207.45" font-size="13" font-weight="bold" fill="#000" textLength="13.82" lengthAdjust="spacingAndGlyphs" stroke="#000" stroke-width="0.46" stroke-linejoin="round">25</text>
<text x="41.60" y="168.30" font-size="13" font-weight="bold" fill="#000" textLength="13.82" lengthAdjust="spacingAndGlyphs" stroke="#000" stroke-width="0.46" stroke-linejoin="round">50</text>
<text x="41.60" y="129.15" font-size="13" font-weight="bold" fill="#000" textLength="13.82" lengthAdjust="spacingAndGlyphs" stroke="#000" stroke-width="0.46" stroke-linejoin="round">75</text>
<text x="34.70" y="90.00" font-size="13" font-weight="bold" fill="#000" textLength="20.72" lengthAdjust="spacingAndGlyphs" stroke="#000" stroke-width="0.46" stroke-linejoin="round">100</text>
<text x="123.90" y="96.90" font-size="21.3" font-weight="bold" fill="#000" textLength="61.24" lengthAdjust="spacingAndGlyphs" stroke="#000" stroke-width="0.75" stroke-linejoin="round">saline</text>
<text x="231.13" y="126.80" font-size="15" font-weight="normal" fill="#333" textLength="17.01" lengthAdjust="spacingAndGlyphs">ns</text>
<text x="207.53" y="145.20" font-size="15.5" font-weight="normal" fill="#333" textLength="63.00" lengthAdjust="spacingAndGlyphs">p=0.5880</text>
<text x="102.50" y="262.40" font-size="14.5" font-weight="bold" fill="#000" textLength="40.04" lengthAdjust="spacingAndGlyphs" stroke="#000" stroke-width="0.51" stroke-linejoin="round">Novel</text>
<text x="210.00" y="262.40" font-size="14.5" font-weight="bold" fill="#000" textLength="56.93" lengthAdjust="spacingAndGlyphs" stroke="#000" stroke-width="0.51" stroke-linejoin="round">Familiar</text>
<text transform="translate(18.10,243.03) rotate(-90)" x="0" y="0" font-size="15.2" font-weight="bold" fill="#000" textLength="166.29" lengthAdjust="spacingAndGlyphs" stroke="#000" stroke-width="0.23" stroke-linejoin="round">Recognition index (RI)</text>
<text transform="translate(35.10,219.30) rotate(-90)" x="0" y="0" font-size="14.8" font-weight="bold" fill="#000" textLength="117.47" lengthAdjust="spacingAndGlyphs" stroke="#000" stroke-width="0.22" stroke-linejoin="round">APP/PS1 SALINE</text>
<text x="59.90" y="497.70" font-size="13" font-weight="bold" fill="#000" textLength="6.82" lengthAdjust="spacingAndGlyphs" stroke="#000" stroke-width="0.46" stroke-linejoin="round">0</text>
<text x="52.90" y="458.60" font-size="13" font-weight="bold" fill="#000" textLength="13.82" lengthAdjust="spacingAndGlyphs" stroke="#000" stroke-width="0.46" stroke-linejoin="round">25</text>
<text x="52.90" y="419.50" font-size="13" font-weight="bold" fill="#000" textLength="13.82" lengthAdjust="spacingAndGlyphs" stroke="#000" stroke-width="0.46" stroke-linejoin="round">50</text>
<text x="52.90" y="380.40" font-size="13" font-weight="bold" fill="#000" textLength="13.82" lengthAdjust="spacingAndGlyphs" stroke="#000" stroke-width="0.46" stroke-linejoin="round">75</text>
<text x="46.00" y="341.30" font-size="13" font-weight="bold" fill="#000" textLength="20.72" lengthAdjust="spacingAndGlyphs" stroke="#000" stroke-width="0.46" stroke-linejoin="round">100</text>
<text x="112.29" y="336.80" font-size="22.3" font-weight="bold" fill="#000" textLength="156.64" lengthAdjust="spacingAndGlyphs" stroke="#000" stroke-width="0.78" stroke-linejoin="round">Lixi 10nmol/kg</text>
<text x="130.40" y="386.70" font-size="19" font-weight="normal" fill="#222" textLength="6.47" lengthAdjust="spacingAndGlyphs" stroke="#222" stroke-width="0.50" stroke-linejoin="round">*</text>
<text x="219.22" y="409.70" font-size="15.5" font-weight="normal" fill="#333" textLength="63.79" lengthAdjust="spacingAndGlyphs">p=0.0456</text>
<text x="112.90" y="513.30" font-size="14.5" font-weight="bold" fill="#000" textLength="41.28" lengthAdjust="spacingAndGlyphs" stroke="#000" stroke-width="0.51" stroke-linejoin="round">Novel</text>
<text x="221.40" y="512.90" font-size="14.5" font-weight="bold" fill="#000" textLength="56.24" lengthAdjust="spacingAndGlyphs" stroke="#000" stroke-width="0.51" stroke-linejoin="round">Familiar</text>
<text transform="translate(22.60,492.40) rotate(-90)" x="0" y="0" font-size="15.2" font-weight="bold" fill="#000" textLength="161.46" lengthAdjust="spacingAndGlyphs" stroke="#000" stroke-width="0.23" stroke-linejoin="round">Recognition index (RI)</text>
<text transform="translate(39.70,494.00) rotate(-90)" x="0" y="0" font-size="14.8" font-weight="bold" fill="#000" textLength="165.44" lengthAdjust="spacingAndGlyphs" stroke="#000" stroke-width="0.22" stroke-linejoin="round">APP/PS1LIXI 10nmol/kg</text>
<text x="379.50" y="495.00" font-size="13" font-weight="bold" fill="#000" textLength="6.82" lengthAdjust="spacingAndGlyphs" stroke="#000" stroke-width="0.46" stroke-linejoin="round">0</text>
<text x="372.50" y="455.88" font-size="13" font-weight="bold" fill="#000" textLength="13.82" lengthAdjust="spacingAndGlyphs" stroke="#000" stroke-width="0.46" stroke-linejoin="round">25</text>
<text x="372.50" y="416.75" font-size="13" font-weight="bold" fill="#000" textLength="13.82" lengthAdjust="spacingAndGlyphs" stroke="#000" stroke-width="0.46" stroke-linejoin="round">50</text>
<text x="372.50" y="377.62" font-size="13" font-weight="bold" fill="#000" textLength="13.82" lengthAdjust="spacingAndGlyphs" stroke="#000" stroke-width="0.46" stroke-linejoin="round">75</text>
<text x="365.60" y="338.50" font-size="13" font-weight="bold" fill="#000" textLength="20.72" lengthAdjust="spacingAndGlyphs" stroke="#000" stroke-width="0.46" stroke-linejoin="round">100</text>
<text x="425.28" y="336.50" font-size="22.3" font-weight="bold" fill="#000" textLength="160.35" lengthAdjust="spacingAndGlyphs" stroke="#000" stroke-width="0.78" stroke-linejoin="round">Lira 25nmol/kg</text>
<text x="449.10" y="371.00" font-size="19" font-weight="normal" fill="#222" textLength="6.47" lengthAdjust="spacingAndGlyphs" stroke="#222" stroke-width="0.50" stroke-linejoin="round">*</text>
<text x="541.01" y="415.10" font-size="15.5" font-weight="normal" fill="#333" textLength="64.51" lengthAdjust="spacingAndGlyphs">p=0.0318</text>
<text x="431.00" y="511.00" font-size="14.5" font-weight="bold" fill="#000" textLength="42.10" lengthAdjust="spacingAndGlyphs" stroke="#000" stroke-width="0.51" stroke-linejoin="round">Novel</text>
<text x="541.20" y="511.40" font-size="14.5" font-weight="bold" fill="#000" textLength="56.34" lengthAdjust="spacingAndGlyphs" stroke="#000" stroke-width="0.51" stroke-linejoin="round">Familiar</text>
<text transform="translate(348.20,490.20) rotate(-90)" x="0" y="0" font-size="15.2" font-weight="bold" fill="#000" textLength="161.26" lengthAdjust="spacingAndGlyphs" stroke="#000" stroke-width="0.23" stroke-linejoin="round">Recognition index (RI)</text>
<text transform="translate(366.80,497.10) rotate(-90)" x="0" y="0" font-size="14.8" font-weight="bold" fill="#000" textLength="177.14" lengthAdjust="spacingAndGlyphs" stroke="#000" stroke-width="0.22" stroke-linejoin="round">APP/PS1 LIRA 25nmol/kg</text>
<text x="65.00" y="749.60" font-size="13" font-weight="bold" fill="#000" textLength="6.82" lengthAdjust="spacingAndGlyphs" stroke="#000" stroke-width="0.46" stroke-linejoin="round">0</text>
<text x="58.00" y="710.50" font-size="13" font-weight="bold" fill="#000" textLength="13.82" lengthAdjust="spacingAndGlyphs" stroke="#000" stroke-width="0.46" stroke-linejoin="round">25</text>
<text x="58.00" y="671.40" font-size="13" font-weight="bold" fill="#000" textLength="13.82" lengthAdjust="spacingAndGlyphs" stroke="#000" stroke-width="0.46" stroke-linejoin="round">50</text>
<text x="58.00" y="632.30" font-size="13" font-weight="bold" fill="#000" textLength="13.82" lengthAdjust="spacingAndGlyphs" stroke="#000" stroke-width="0.46" stroke-linejoin="round">75</text>
<text x="51.10" y="593.20" font-size="13" font-weight="bold" fill="#000" textLength="20.72" lengthAdjust="spacingAndGlyphs" stroke="#000" stroke-width="0.46" stroke-linejoin="round">100</text>
<text x="116.59" y="587.00" font-size="22.3" font-weight="bold" fill="#000" textLength="144.14" lengthAdjust="spacingAndGlyphs" stroke="#000" stroke-width="0.78" stroke-linejoin="round">Lixi 1nmol/kg</text>
<text x="135.60" y="624.10" font-size="19" font-weight="normal" fill="#222" textLength="6.47" lengthAdjust="spacingAndGlyphs" stroke="#222" stroke-width="0.50" stroke-linejoin="round">*</text>
<text x="229.40" y="667.70" font-size="14" font-weight="normal" fill="#333" textLength="53.80" lengthAdjust="spacingAndGlyphs">p=0.0336</text>
<text x="117.60" y="767.00" font-size="14.5" font-weight="bold" fill="#000" textLength="41.89" lengthAdjust="spacingAndGlyphs" stroke="#000" stroke-width="0.51" stroke-linejoin="round">Novel</text>
<text x="227.00" y="766.90" font-size="14.5" font-weight="bold" fill="#000" textLength="56.04" lengthAdjust="spacingAndGlyphs" stroke="#000" stroke-width="0.51" stroke-linejoin="round">Familiar</text>
<text transform="translate(24.30,744.40) rotate(-90)" x="0" y="0" font-size="15.2" font-weight="bold" fill="#000" textLength="161.46" lengthAdjust="spacingAndGlyphs" stroke="#000" stroke-width="0.23" stroke-linejoin="round">Recognition index (RI)</text>
<text transform="translate(43.00,746.20) rotate(-90)" x="0" y="0" font-size="14.8" font-weight="bold" fill="#000" textLength="164.94" lengthAdjust="spacingAndGlyphs" stroke="#000" stroke-width="0.22" stroke-linejoin="round">APP/PS1 LIXI 1 nmol/kg</text>
<text x="379.50" y="752.00" font-size="13" font-weight="bold" fill="#000" textLength="6.82" lengthAdjust="spacingAndGlyphs" stroke="#000" stroke-width="0.46" stroke-linejoin="round">0</text>
<text x="372.50" y="712.93" font-size="13" font-weight="bold" fill="#000" textLength="13.82" lengthAdjust="spacingAndGlyphs" stroke="#000" stroke-width="0.46" stroke-linejoin="round">25</text>
<text x="372.50" y="673.85" font-size="13" font-weight="bold" fill="#000" textLength="13.82" lengthAdjust="spacingAndGlyphs" stroke="#000" stroke-width="0.46" stroke-linejoin="round">50</text>
<text x="372.50" y="634.77" font-size="13" font-weight="bold" fill="#000" textLength="13.82" lengthAdjust="spacingAndGlyphs" stroke="#000" stroke-width="0.46" stroke-linejoin="round">75</text>
<text x="365.60" y="595.70" font-size="13" font-weight="bold" fill="#000" textLength="20.72" lengthAdjust="spacingAndGlyphs" stroke="#000" stroke-width="0.46" stroke-linejoin="round">100</text>
<text x="428.97" y="587.00" font-size="22.3" font-weight="bold" fill="#000" textLength="168.37" lengthAdjust="spacingAndGlyphs" stroke="#000" stroke-width="0.78" stroke-linejoin="round">Lira 2.5nmol/kg</text>
<text x="561.75" y="637.40" font-size="15" font-weight="normal" fill="#333" textLength="16.57" lengthAdjust="spacingAndGlyphs">ns</text>
<text x="537.84" y="655.30" font-size="15.5" font-weight="normal" fill="#333" textLength="62.70" lengthAdjust="spacingAndGlyphs">p=0.0690</text>
<text x="431.40" y="769.20" font-size="14.5" font-weight="bold" fill="#000" textLength="41.89" lengthAdjust="spacingAndGlyphs" stroke="#000" stroke-width="0.51" stroke-linejoin="round">Novel</text>
<text x="541.40" y="769.40" font-size="14.5" font-weight="bold" fill="#000" textLength="56.24" lengthAdjust="spacingAndGlyphs" stroke="#000" stroke-width="0.51" stroke-linejoin="round">Familiar</text>
<text transform="translate(348.70,746.70) rotate(-90)" x="0" y="0" font-size="15.2" font-weight="bold" fill="#000" textLength="161.26" lengthAdjust="spacingAndGlyphs" stroke="#000" stroke-width="0.23" stroke-linejoin="round">Recognition index (RI)</text>
<text transform="translate(366.80,759.20) rotate(-90)" x="0" y="0" font-size="14.8" font-weight="bold" fill="#000" textLength="185.04" lengthAdjust="spacingAndGlyphs" stroke="#000" stroke-width="0.22" stroke-linejoin="round">APP/PS1 LIRA 2.5 nmol/kg</text>
<text x="762.30" y="691.60" font-size="20.5" font-weight="bold" fill="#000" textLength="21.88" lengthAdjust="spacingAndGlyphs" stroke="#000" stroke-width="0.72" stroke-linejoin="round">50</text>
<text x="750.62" y="636.60" font-size="20.5" font-weight="bold" fill="#000" textLength="33.58" lengthAdjust="spacingAndGlyphs" stroke="#000" stroke-width="0.72" stroke-linejoin="round">100</text>
<text x="750.62" y="581.60" font-size="20.5" font-weight="bold" fill="#000" textLength="33.58" lengthAdjust="spacingAndGlyphs" stroke="#000" stroke-width="0.72" stroke-linejoin="round">150</text>
<text x="751.60" y="526.60" font-size="20.5" font-weight="bold" fill="#000" textLength="32.58" lengthAdjust="spacingAndGlyphs" stroke="#000" stroke-width="0.72" stroke-linejoin="round">200</text>
<text x="751.60" y="471.60" font-size="20.5" font-weight="bold" fill="#000" textLength="32.58" lengthAdjust="spacingAndGlyphs" stroke="#000" stroke-width="0.72" stroke-linejoin="round">250</text>
<text x="751.60" y="416.60" font-size="20.5" font-weight="bold" fill="#000" textLength="32.58" lengthAdjust="spacingAndGlyphs" stroke="#000" stroke-width="0.72" stroke-linejoin="round">300</text>
<text x="751.60" y="361.60" font-size="20.5" font-weight="bold" fill="#000" textLength="32.58" lengthAdjust="spacingAndGlyphs" stroke="#000" stroke-width="0.72" stroke-linejoin="round">350</text>
<text x="751.60" y="306.60" font-size="20.5" font-weight="bold" fill="#000" textLength="32.58" lengthAdjust="spacingAndGlyphs" stroke="#000" stroke-width="0.72" stroke-linejoin="round">400</text>
<text x="751.60" y="251.60" font-size="20.5" font-weight="bold" fill="#000" textLength="32.58" lengthAdjust="spacingAndGlyphs" stroke="#000" stroke-width="0.72" stroke-linejoin="round">450</text>
<text x="788.45" y="713.00" font-size="23.5" font-weight="bold" fill="#000" textLength="11.16" lengthAdjust="spacingAndGlyphs" stroke="#000" stroke-width="0.82" stroke-linejoin="round">0</text>
<text x="912.66" y="713.00" font-size="23.5" font-weight="bold" fill="#000" textLength="25.75" lengthAdjust="spacingAndGlyphs" stroke="#000" stroke-width="0.82" stroke-linejoin="round">15</text>
<text x="1045.65" y="713.00" font-size="23.5" font-weight="bold" fill="#000" textLength="24.77" lengthAdjust="spacingAndGlyphs" stroke="#000" stroke-width="0.82" stroke-linejoin="round">30</text>
<text x="1177.65" y="713.00" font-size="23.5" font-weight="bold" fill="#000" textLength="24.77" lengthAdjust="spacingAndGlyphs" stroke="#000" stroke-width="0.82" stroke-linejoin="round">45</text>
<text x="1309.65" y="713.00" font-size="23.5" font-weight="bold" fill="#000" textLength="24.77" lengthAdjust="spacingAndGlyphs" stroke="#000" stroke-width="0.82" stroke-linejoin="round">60</text>
<text x="1440.66" y="713.00" font-size="23.5" font-weight="bold" fill="#000" textLength="25.75" lengthAdjust="spacingAndGlyphs" stroke="#000" stroke-width="0.82" stroke-linejoin="round">75</text>
<text x="1101.20" y="762.10" font-size="19" font-weight="bold" fill="#000" textLength="44.57" lengthAdjust="spacingAndGlyphs" stroke="#000" stroke-width="0.67" stroke-linejoin="round">Time</text>
<text transform="translate(736.40,533.60) rotate(-90)" x="0" y="0" font-size="17.5" font-weight="bold" fill="#000" textLength="155.65" lengthAdjust="spacingAndGlyphs" stroke="#000" stroke-width="0.26" stroke-linejoin="round">% slope of fEPSP</text>
<text x="908.76" y="786.80" font-size="22" font-weight="normal" fill="#000" textLength="45.95" lengthAdjust="spacingAndGlyphs" stroke="#000" stroke-width="0.45" stroke-linejoin="round">HFS</text>
<text x="827.00" y="105.00" font-size="17" font-weight="bold" fill="#000" textLength="133.28" lengthAdjust="spacingAndGlyphs" stroke="#000" stroke-width="0.60" stroke-linejoin="round">APP/PS1 Saline</text>
<text x="826.40" y="126.20" font-size="17" font-weight="bold" fill="#000" textLength="271.79" lengthAdjust="spacingAndGlyphs" stroke="#000" stroke-width="0.60" stroke-linejoin="round">APP/PS1 lixisenatide (1nmol/kg)</text>
<text x="825.80" y="152.50" font-size="17" font-weight="bold" fill="#000" textLength="275.39" lengthAdjust="spacingAndGlyphs" stroke="#000" stroke-width="0.60" stroke-linejoin="round">APP/PS1 liraglutide (2.5nmol/kg)</text>
<text x="825.00" y="176.00" font-size="17" font-weight="bold" fill="#000" textLength="285.89" lengthAdjust="spacingAndGlyphs" stroke="#000" stroke-width="0.60" stroke-linejoin="round">APP/PS1 lixisenatide (10 nmol/kg)</text>
<text x="824.00" y="200.80" font-size="17" font-weight="bold" fill="#000" textLength="270.29" lengthAdjust="spacingAndGlyphs" stroke="#000" stroke-width="0.60" stroke-linejoin="round">APP/PS1 liraglutide (25nmol/kg)</text>
<text x="825.80" y="225.80" font-size="17" font-weight="bold" fill="#000" textLength="133.87" lengthAdjust="spacingAndGlyphs" stroke="#000" stroke-width="0.60" stroke-linejoin="round">Wild-type saline</text>
<text x="1544.17" y="232.70" font-size="17" font-weight="bold" fill="#1a1a1a" textLength="5.91" lengthAdjust="spacingAndGlyphs">1</text>
<text x="1549.10" y="391.90" font-size="17" font-weight="bold" fill="#1a1a1a" textLength="9.24" lengthAdjust="spacingAndGlyphs">2</text>
<text x="1547.50" y="467.80" font-size="17" font-weight="bold" fill="#1a1a1a" textLength="9.35" lengthAdjust="spacingAndGlyphs">3</text>
<text x="1545.80" y="558.80" font-size="17" font-weight="bold" fill="#1a1a1a" textLength="7.94" lengthAdjust="spacingAndGlyphs">4</text>
</svg>
</body></html>
